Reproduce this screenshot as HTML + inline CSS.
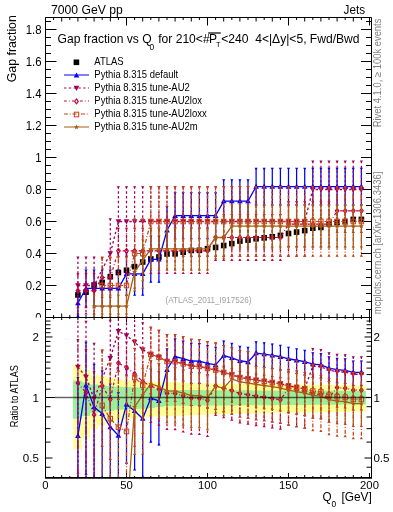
<!DOCTYPE html>
<html><head><meta charset="utf-8"><style>html,body{margin:0;padding:0;background:#fff;width:393px;height:512px;overflow:hidden}svg{display:block;will-change:transform}text{font-family:"Liberation Sans",sans-serif}</style></head>
<body><svg width="393" height="512" viewBox="0 0 393 512">
<defs><clipPath id="ctop"><rect x="45.5" y="17.5" width="325" height="300"/></clipPath>
<clipPath id="cbot"><rect x="45.5" y="317.5" width="325" height="160"/></clipPath></defs>
<rect width="393" height="512" fill="#fff"/>
<text transform="translate(51,13.8) scale(1,1.05)" font-size="12.2" font-family="Liberation Sans, sans-serif">7000 GeV pp</text>
<text transform="translate(365,13.9) scale(1,1.05)" font-size="11.7" text-anchor="end" font-family="Liberation Sans, sans-serif">Jets</text>
<text transform="translate(41.5,33.5) scale(1,1.04)" font-size="11.4" text-anchor="end" font-family="Liberation Sans, sans-serif">1.8</text>
<text transform="translate(41.5,65.5) scale(1,1.04)" font-size="11.4" text-anchor="end" font-family="Liberation Sans, sans-serif">1.6</text>
<text transform="translate(41.5,97.5) scale(1,1.04)" font-size="11.4" text-anchor="end" font-family="Liberation Sans, sans-serif">1.4</text>
<text transform="translate(41.5,129.5) scale(1,1.04)" font-size="11.4" text-anchor="end" font-family="Liberation Sans, sans-serif">1.2</text>
<text transform="translate(41.5,161.5) scale(1,1.04)" font-size="11.4" text-anchor="end" font-family="Liberation Sans, sans-serif">1</text>
<text transform="translate(41.5,193.5) scale(1,1.04)" font-size="11.4" text-anchor="end" font-family="Liberation Sans, sans-serif">0.8</text>
<text transform="translate(41.5,225.5) scale(1,1.04)" font-size="11.4" text-anchor="end" font-family="Liberation Sans, sans-serif">0.6</text>
<text transform="translate(41.5,257.5) scale(1,1.04)" font-size="11.4" text-anchor="end" font-family="Liberation Sans, sans-serif">0.4</text>
<text transform="translate(41.5,289.5) scale(1,1.04)" font-size="11.4" text-anchor="end" font-family="Liberation Sans, sans-serif">0.2</text>
<text transform="translate(41.5,321.5) scale(1,1.04)" font-size="11.4" text-anchor="end" font-family="Liberation Sans, sans-serif">0</text>
<text transform="translate(16.4,82.2) rotate(-90) scale(1,1.05)" font-size="12.3" font-family="Liberation Sans, sans-serif">Gap fraction</text>
<text transform="translate(57.6,42.8) scale(1,1.04)" font-size="12.1" font-family="Liberation Sans, sans-serif">Gap fraction vs Q</text>
<text transform="translate(149.6,49.8) scale(1,1.05)" font-size="8.4" font-family="Liberation Sans, sans-serif">0</text>
<text transform="translate(158.2,42.8) scale(1,1.04)" font-size="12.1" font-family="Liberation Sans, sans-serif">for 210&lt;#</text>
<text transform="translate(208.9,42.8) scale(1,1.04)" font-size="12.1" font-family="Liberation Sans, sans-serif">P</text>
<line x1="208.2" y1="33" x2="220.8" y2="33" stroke="#000" stroke-width="1.2"/>
<text transform="translate(215.9,46.6) scale(1,1.05)" font-size="7.4" font-family="Liberation Sans, sans-serif">T</text>
<text transform="translate(221.2,42.8) scale(1,1.04)" font-size="12.1" font-family="Liberation Sans, sans-serif">&lt;240</text>
<text transform="translate(255.2,42.8) scale(1,1.04)" font-size="12.1" font-family="Liberation Sans, sans-serif">4&lt;|Δy|&lt;5, Fwd/Bwd</text>
<text transform="translate(94.3,64.9) scale(1,1.12)" font-size="9.5" font-family="Liberation Sans, sans-serif">ATLAS</text>
<text transform="translate(94.3,78.0) scale(1,1.12)" font-size="9.5" font-family="Liberation Sans, sans-serif">Pythia 8.315 default</text>
<text transform="translate(94.3,90.6) scale(1,1.12)" font-size="9.5" font-family="Liberation Sans, sans-serif">Pythia 8.315 tune-AU2</text>
<text transform="translate(94.3,104.0) scale(1,1.12)" font-size="9.5" font-family="Liberation Sans, sans-serif">Pythia 8.315 tune-AU2lox</text>
<text transform="translate(94.3,117.1) scale(1,1.12)" font-size="9.5" font-family="Liberation Sans, sans-serif">Pythia 8.315 tune-AU2loxx</text>
<text transform="translate(94.3,129.8) scale(1,1.12)" font-size="9.5" font-family="Liberation Sans, sans-serif">Pythia 8.315 tune-AU2m</text>
<rect x="73.60" y="59.50" width="5.6" height="5.6" fill="#000"/>
<line x1="64" y1="75.0" x2="89" y2="75.0" stroke="#0000ff" stroke-width="1"/>
<path d="M76.50 72.40L79.30 77.60L73.70 77.60Z" fill="#0000ff"/>
<line x1="64" y1="88.0" x2="89" y2="88.0" stroke="#a0005a" stroke-width="1" stroke-dasharray="2.4,2.4"/>
<path d="M76.50 91.00L79.30 85.80L73.70 85.80Z" fill="#a0005a"/>
<line x1="64" y1="101.0" x2="89" y2="101.0" stroke="#c4003c" stroke-width="1" stroke-dasharray="2.7,2.2,0.8,2.3"/>
<path d="M76.50 98.90L78.30 101.40L76.50 103.90L74.70 101.40Z" fill="none" stroke="#c4003c" stroke-width="1.1"/>
<line x1="64" y1="114.0" x2="89" y2="114.0" stroke="#c84418" stroke-width="1" stroke-dasharray="4,1.7,1,1.8"/>
<rect x="74.30" y="112.20" width="4.4" height="4.6" fill="none" stroke="#c84418" stroke-width="1.0"/>
<line x1="64" y1="127.0" x2="89" y2="127.0" stroke="#aa5c12" stroke-width="1"/>
<path d="M76.50 124.50L77.18 126.27L79.07 126.37L77.59 127.56L78.09 129.38L76.50 128.35L74.91 129.38L75.41 127.56L73.93 126.37L75.82 126.27Z" fill="#aa5c12"/>
<text transform="translate(165.5,302.5) scale(1,1.1)" font-size="8.1" fill="#a0a0a0" font-family="Liberation Sans, sans-serif">(ATLAS_2011_I917526)</text>
<rect x="0" y="317.5" width="393" height="160" fill="#fff"/>
<text transform="translate(38.9,341.17)" font-size="11.6" text-anchor="end" font-family="Liberation Sans, sans-serif">2</text>
<text transform="translate(373.4,341.17)" font-size="11.6" font-family="Liberation Sans, sans-serif">2</text>
<text transform="translate(38.9,401.7)" font-size="11.6" text-anchor="end" font-family="Liberation Sans, sans-serif">1</text>
<text transform="translate(373.4,401.7)" font-size="11.6" font-family="Liberation Sans, sans-serif">1</text>
<text transform="translate(38.9,462.23)" font-size="11.6" text-anchor="end" font-family="Liberation Sans, sans-serif">0.5</text>
<text transform="translate(373.4,462.23)" font-size="11.6" font-family="Liberation Sans, sans-serif">0.5</text>
<text transform="translate(18.1,427.2) rotate(-90) scale(1,1.12)" font-size="9.2" font-family="Liberation Sans, sans-serif">Ratio to ATLAS</text>
<text transform="translate(45.5,489) scale(1,1.04)" font-size="11.3" text-anchor="middle" font-family="Liberation Sans, sans-serif">0</text>
<text transform="translate(126.5,489) scale(1,1.04)" font-size="11.3" text-anchor="middle" font-family="Liberation Sans, sans-serif">50</text>
<text transform="translate(207.5,489) scale(1,1.04)" font-size="11.3" text-anchor="middle" font-family="Liberation Sans, sans-serif">100</text>
<text transform="translate(288.5,489) scale(1,1.04)" font-size="11.3" text-anchor="middle" font-family="Liberation Sans, sans-serif">150</text>
<text transform="translate(369.5,489) scale(1,1.04)" font-size="11.3" text-anchor="middle" font-family="Liberation Sans, sans-serif">200</text>
<text transform="translate(322.6,501.3) scale(1,1.04)" font-size="11.7" font-family="Liberation Sans, sans-serif">Q</text>
<text transform="translate(331.6,506.5) scale(1,1.05)" font-size="8.4" font-family="Liberation Sans, sans-serif">0</text>
<text transform="translate(341.4,501.3) scale(1,1.04)" font-size="11.9" font-family="Liberation Sans, sans-serif">[GeV]</text>
<text transform="translate(380.6,127.3) rotate(-90) scale(1,1.1)" font-size="9.42" fill="#808080" font-family="Liberation Sans, sans-serif">Rivet 4.1.0, ≥ 100k events</text>
<text transform="translate(381.2,314.2) rotate(-90) scale(1,1.1)" font-size="9.44" fill="#808080" font-family="Liberation Sans, sans-serif">mcplots.cern.ch [arXiv:1306.3436]</text>
<rect x="45.5" y="317.5" width="325" height="160" fill="#fff"/>
<line x1="45.5" y1="317.50" x2="56.5" y2="317.50" stroke="#000" stroke-width="1"/>
<line x1="371" y1="317.50" x2="361" y2="317.50" stroke="#000" stroke-width="1"/>
<line x1="45.5" y1="309.50" x2="51.0" y2="309.50" stroke="#000" stroke-width="1"/>
<line x1="371" y1="309.50" x2="366" y2="309.50" stroke="#000" stroke-width="1"/>
<line x1="45.5" y1="301.50" x2="51.0" y2="301.50" stroke="#000" stroke-width="1"/>
<line x1="371" y1="301.50" x2="366" y2="301.50" stroke="#000" stroke-width="1"/>
<line x1="45.5" y1="293.50" x2="51.0" y2="293.50" stroke="#000" stroke-width="1"/>
<line x1="371" y1="293.50" x2="366" y2="293.50" stroke="#000" stroke-width="1"/>
<line x1="45.5" y1="285.50" x2="56.5" y2="285.50" stroke="#000" stroke-width="1"/>
<line x1="371" y1="285.50" x2="361" y2="285.50" stroke="#000" stroke-width="1"/>
<line x1="45.5" y1="277.50" x2="51.0" y2="277.50" stroke="#000" stroke-width="1"/>
<line x1="371" y1="277.50" x2="366" y2="277.50" stroke="#000" stroke-width="1"/>
<line x1="45.5" y1="269.50" x2="51.0" y2="269.50" stroke="#000" stroke-width="1"/>
<line x1="371" y1="269.50" x2="366" y2="269.50" stroke="#000" stroke-width="1"/>
<line x1="45.5" y1="261.50" x2="51.0" y2="261.50" stroke="#000" stroke-width="1"/>
<line x1="371" y1="261.50" x2="366" y2="261.50" stroke="#000" stroke-width="1"/>
<line x1="45.5" y1="253.50" x2="56.5" y2="253.50" stroke="#000" stroke-width="1"/>
<line x1="371" y1="253.50" x2="361" y2="253.50" stroke="#000" stroke-width="1"/>
<line x1="45.5" y1="245.50" x2="51.0" y2="245.50" stroke="#000" stroke-width="1"/>
<line x1="371" y1="245.50" x2="366" y2="245.50" stroke="#000" stroke-width="1"/>
<line x1="45.5" y1="237.50" x2="51.0" y2="237.50" stroke="#000" stroke-width="1"/>
<line x1="371" y1="237.50" x2="366" y2="237.50" stroke="#000" stroke-width="1"/>
<line x1="45.5" y1="229.50" x2="51.0" y2="229.50" stroke="#000" stroke-width="1"/>
<line x1="371" y1="229.50" x2="366" y2="229.50" stroke="#000" stroke-width="1"/>
<line x1="45.5" y1="221.50" x2="56.5" y2="221.50" stroke="#000" stroke-width="1"/>
<line x1="371" y1="221.50" x2="361" y2="221.50" stroke="#000" stroke-width="1"/>
<line x1="45.5" y1="213.50" x2="51.0" y2="213.50" stroke="#000" stroke-width="1"/>
<line x1="371" y1="213.50" x2="366" y2="213.50" stroke="#000" stroke-width="1"/>
<line x1="45.5" y1="205.50" x2="51.0" y2="205.50" stroke="#000" stroke-width="1"/>
<line x1="371" y1="205.50" x2="366" y2="205.50" stroke="#000" stroke-width="1"/>
<line x1="45.5" y1="197.50" x2="51.0" y2="197.50" stroke="#000" stroke-width="1"/>
<line x1="371" y1="197.50" x2="366" y2="197.50" stroke="#000" stroke-width="1"/>
<line x1="45.5" y1="189.50" x2="56.5" y2="189.50" stroke="#000" stroke-width="1"/>
<line x1="371" y1="189.50" x2="361" y2="189.50" stroke="#000" stroke-width="1"/>
<line x1="45.5" y1="181.50" x2="51.0" y2="181.50" stroke="#000" stroke-width="1"/>
<line x1="371" y1="181.50" x2="366" y2="181.50" stroke="#000" stroke-width="1"/>
<line x1="45.5" y1="173.50" x2="51.0" y2="173.50" stroke="#000" stroke-width="1"/>
<line x1="371" y1="173.50" x2="366" y2="173.50" stroke="#000" stroke-width="1"/>
<line x1="45.5" y1="165.50" x2="51.0" y2="165.50" stroke="#000" stroke-width="1"/>
<line x1="371" y1="165.50" x2="366" y2="165.50" stroke="#000" stroke-width="1"/>
<line x1="45.5" y1="157.50" x2="56.5" y2="157.50" stroke="#000" stroke-width="1"/>
<line x1="371" y1="157.50" x2="361" y2="157.50" stroke="#000" stroke-width="1"/>
<line x1="45.5" y1="149.50" x2="51.0" y2="149.50" stroke="#000" stroke-width="1"/>
<line x1="371" y1="149.50" x2="366" y2="149.50" stroke="#000" stroke-width="1"/>
<line x1="45.5" y1="141.50" x2="51.0" y2="141.50" stroke="#000" stroke-width="1"/>
<line x1="371" y1="141.50" x2="366" y2="141.50" stroke="#000" stroke-width="1"/>
<line x1="45.5" y1="133.50" x2="51.0" y2="133.50" stroke="#000" stroke-width="1"/>
<line x1="371" y1="133.50" x2="366" y2="133.50" stroke="#000" stroke-width="1"/>
<line x1="45.5" y1="125.50" x2="56.5" y2="125.50" stroke="#000" stroke-width="1"/>
<line x1="371" y1="125.50" x2="361" y2="125.50" stroke="#000" stroke-width="1"/>
<line x1="45.5" y1="117.50" x2="51.0" y2="117.50" stroke="#000" stroke-width="1"/>
<line x1="371" y1="117.50" x2="366" y2="117.50" stroke="#000" stroke-width="1"/>
<line x1="45.5" y1="109.50" x2="51.0" y2="109.50" stroke="#000" stroke-width="1"/>
<line x1="371" y1="109.50" x2="366" y2="109.50" stroke="#000" stroke-width="1"/>
<line x1="45.5" y1="101.50" x2="51.0" y2="101.50" stroke="#000" stroke-width="1"/>
<line x1="371" y1="101.50" x2="366" y2="101.50" stroke="#000" stroke-width="1"/>
<line x1="45.5" y1="93.50" x2="56.5" y2="93.50" stroke="#000" stroke-width="1"/>
<line x1="371" y1="93.50" x2="361" y2="93.50" stroke="#000" stroke-width="1"/>
<line x1="45.5" y1="85.50" x2="51.0" y2="85.50" stroke="#000" stroke-width="1"/>
<line x1="371" y1="85.50" x2="366" y2="85.50" stroke="#000" stroke-width="1"/>
<line x1="45.5" y1="77.50" x2="51.0" y2="77.50" stroke="#000" stroke-width="1"/>
<line x1="371" y1="77.50" x2="366" y2="77.50" stroke="#000" stroke-width="1"/>
<line x1="45.5" y1="69.50" x2="51.0" y2="69.50" stroke="#000" stroke-width="1"/>
<line x1="371" y1="69.50" x2="366" y2="69.50" stroke="#000" stroke-width="1"/>
<line x1="45.5" y1="61.50" x2="56.5" y2="61.50" stroke="#000" stroke-width="1"/>
<line x1="371" y1="61.50" x2="361" y2="61.50" stroke="#000" stroke-width="1"/>
<line x1="45.5" y1="53.50" x2="51.0" y2="53.50" stroke="#000" stroke-width="1"/>
<line x1="371" y1="53.50" x2="366" y2="53.50" stroke="#000" stroke-width="1"/>
<line x1="45.5" y1="45.50" x2="51.0" y2="45.50" stroke="#000" stroke-width="1"/>
<line x1="371" y1="45.50" x2="366" y2="45.50" stroke="#000" stroke-width="1"/>
<line x1="45.5" y1="37.50" x2="51.0" y2="37.50" stroke="#000" stroke-width="1"/>
<line x1="371" y1="37.50" x2="366" y2="37.50" stroke="#000" stroke-width="1"/>
<line x1="45.5" y1="29.50" x2="56.5" y2="29.50" stroke="#000" stroke-width="1"/>
<line x1="371" y1="29.50" x2="361" y2="29.50" stroke="#000" stroke-width="1"/>
<line x1="45.5" y1="21.50" x2="51.0" y2="21.50" stroke="#000" stroke-width="1"/>
<line x1="371" y1="21.50" x2="366" y2="21.50" stroke="#000" stroke-width="1"/>
<line x1="45.50" y1="17.5" x2="45.50" y2="25.5" stroke="#000" stroke-width="1"/>
<line x1="45.50" y1="317.5" x2="45.50" y2="309.5" stroke="#000" stroke-width="1"/>
<line x1="45.50" y1="317.5" x2="45.50" y2="322.5" stroke="#000" stroke-width="1"/>
<line x1="45.50" y1="477.5" x2="45.50" y2="473.0" stroke="#000" stroke-width="1"/>
<line x1="53.60" y1="17.5" x2="53.60" y2="20.0" stroke="#000" stroke-width="1"/>
<line x1="53.60" y1="317.5" x2="53.60" y2="315.0" stroke="#000" stroke-width="1"/>
<line x1="53.60" y1="317.5" x2="53.60" y2="319.0" stroke="#000" stroke-width="1"/>
<line x1="53.60" y1="477.5" x2="53.60" y2="476.0" stroke="#000" stroke-width="1"/>
<line x1="61.70" y1="17.5" x2="61.70" y2="21.5" stroke="#000" stroke-width="1"/>
<line x1="61.70" y1="317.5" x2="61.70" y2="313.5" stroke="#000" stroke-width="1"/>
<line x1="61.70" y1="317.5" x2="61.70" y2="320.0" stroke="#000" stroke-width="1"/>
<line x1="61.70" y1="477.5" x2="61.70" y2="475.0" stroke="#000" stroke-width="1"/>
<line x1="69.80" y1="17.5" x2="69.80" y2="20.0" stroke="#000" stroke-width="1"/>
<line x1="69.80" y1="317.5" x2="69.80" y2="315.0" stroke="#000" stroke-width="1"/>
<line x1="69.80" y1="317.5" x2="69.80" y2="319.0" stroke="#000" stroke-width="1"/>
<line x1="69.80" y1="477.5" x2="69.80" y2="476.0" stroke="#000" stroke-width="1"/>
<line x1="77.90" y1="17.5" x2="77.90" y2="21.5" stroke="#000" stroke-width="1"/>
<line x1="77.90" y1="317.5" x2="77.90" y2="313.5" stroke="#000" stroke-width="1"/>
<line x1="77.90" y1="317.5" x2="77.90" y2="320.0" stroke="#000" stroke-width="1"/>
<line x1="77.90" y1="477.5" x2="77.90" y2="475.0" stroke="#000" stroke-width="1"/>
<line x1="86.00" y1="17.5" x2="86.00" y2="20.0" stroke="#000" stroke-width="1"/>
<line x1="86.00" y1="317.5" x2="86.00" y2="315.0" stroke="#000" stroke-width="1"/>
<line x1="86.00" y1="317.5" x2="86.00" y2="319.0" stroke="#000" stroke-width="1"/>
<line x1="86.00" y1="477.5" x2="86.00" y2="476.0" stroke="#000" stroke-width="1"/>
<line x1="94.10" y1="17.5" x2="94.10" y2="21.5" stroke="#000" stroke-width="1"/>
<line x1="94.10" y1="317.5" x2="94.10" y2="313.5" stroke="#000" stroke-width="1"/>
<line x1="94.10" y1="317.5" x2="94.10" y2="320.0" stroke="#000" stroke-width="1"/>
<line x1="94.10" y1="477.5" x2="94.10" y2="475.0" stroke="#000" stroke-width="1"/>
<line x1="102.20" y1="17.5" x2="102.20" y2="20.0" stroke="#000" stroke-width="1"/>
<line x1="102.20" y1="317.5" x2="102.20" y2="315.0" stroke="#000" stroke-width="1"/>
<line x1="102.20" y1="317.5" x2="102.20" y2="319.0" stroke="#000" stroke-width="1"/>
<line x1="102.20" y1="477.5" x2="102.20" y2="476.0" stroke="#000" stroke-width="1"/>
<line x1="110.30" y1="17.5" x2="110.30" y2="21.5" stroke="#000" stroke-width="1"/>
<line x1="110.30" y1="317.5" x2="110.30" y2="313.5" stroke="#000" stroke-width="1"/>
<line x1="110.30" y1="317.5" x2="110.30" y2="320.0" stroke="#000" stroke-width="1"/>
<line x1="110.30" y1="477.5" x2="110.30" y2="475.0" stroke="#000" stroke-width="1"/>
<line x1="118.40" y1="17.5" x2="118.40" y2="20.0" stroke="#000" stroke-width="1"/>
<line x1="118.40" y1="317.5" x2="118.40" y2="315.0" stroke="#000" stroke-width="1"/>
<line x1="118.40" y1="317.5" x2="118.40" y2="319.0" stroke="#000" stroke-width="1"/>
<line x1="118.40" y1="477.5" x2="118.40" y2="476.0" stroke="#000" stroke-width="1"/>
<line x1="126.50" y1="17.5" x2="126.50" y2="25.5" stroke="#000" stroke-width="1"/>
<line x1="126.50" y1="317.5" x2="126.50" y2="309.5" stroke="#000" stroke-width="1"/>
<line x1="126.50" y1="317.5" x2="126.50" y2="322.5" stroke="#000" stroke-width="1"/>
<line x1="126.50" y1="477.5" x2="126.50" y2="473.0" stroke="#000" stroke-width="1"/>
<line x1="134.60" y1="17.5" x2="134.60" y2="20.0" stroke="#000" stroke-width="1"/>
<line x1="134.60" y1="317.5" x2="134.60" y2="315.0" stroke="#000" stroke-width="1"/>
<line x1="134.60" y1="317.5" x2="134.60" y2="319.0" stroke="#000" stroke-width="1"/>
<line x1="134.60" y1="477.5" x2="134.60" y2="476.0" stroke="#000" stroke-width="1"/>
<line x1="142.70" y1="17.5" x2="142.70" y2="21.5" stroke="#000" stroke-width="1"/>
<line x1="142.70" y1="317.5" x2="142.70" y2="313.5" stroke="#000" stroke-width="1"/>
<line x1="142.70" y1="317.5" x2="142.70" y2="320.0" stroke="#000" stroke-width="1"/>
<line x1="142.70" y1="477.5" x2="142.70" y2="475.0" stroke="#000" stroke-width="1"/>
<line x1="150.80" y1="17.5" x2="150.80" y2="20.0" stroke="#000" stroke-width="1"/>
<line x1="150.80" y1="317.5" x2="150.80" y2="315.0" stroke="#000" stroke-width="1"/>
<line x1="150.80" y1="317.5" x2="150.80" y2="319.0" stroke="#000" stroke-width="1"/>
<line x1="150.80" y1="477.5" x2="150.80" y2="476.0" stroke="#000" stroke-width="1"/>
<line x1="158.90" y1="17.5" x2="158.90" y2="21.5" stroke="#000" stroke-width="1"/>
<line x1="158.90" y1="317.5" x2="158.90" y2="313.5" stroke="#000" stroke-width="1"/>
<line x1="158.90" y1="317.5" x2="158.90" y2="320.0" stroke="#000" stroke-width="1"/>
<line x1="158.90" y1="477.5" x2="158.90" y2="475.0" stroke="#000" stroke-width="1"/>
<line x1="167.00" y1="17.5" x2="167.00" y2="20.0" stroke="#000" stroke-width="1"/>
<line x1="167.00" y1="317.5" x2="167.00" y2="315.0" stroke="#000" stroke-width="1"/>
<line x1="167.00" y1="317.5" x2="167.00" y2="319.0" stroke="#000" stroke-width="1"/>
<line x1="167.00" y1="477.5" x2="167.00" y2="476.0" stroke="#000" stroke-width="1"/>
<line x1="175.10" y1="17.5" x2="175.10" y2="21.5" stroke="#000" stroke-width="1"/>
<line x1="175.10" y1="317.5" x2="175.10" y2="313.5" stroke="#000" stroke-width="1"/>
<line x1="175.10" y1="317.5" x2="175.10" y2="320.0" stroke="#000" stroke-width="1"/>
<line x1="175.10" y1="477.5" x2="175.10" y2="475.0" stroke="#000" stroke-width="1"/>
<line x1="183.20" y1="17.5" x2="183.20" y2="20.0" stroke="#000" stroke-width="1"/>
<line x1="183.20" y1="317.5" x2="183.20" y2="315.0" stroke="#000" stroke-width="1"/>
<line x1="183.20" y1="317.5" x2="183.20" y2="319.0" stroke="#000" stroke-width="1"/>
<line x1="183.20" y1="477.5" x2="183.20" y2="476.0" stroke="#000" stroke-width="1"/>
<line x1="191.30" y1="17.5" x2="191.30" y2="21.5" stroke="#000" stroke-width="1"/>
<line x1="191.30" y1="317.5" x2="191.30" y2="313.5" stroke="#000" stroke-width="1"/>
<line x1="191.30" y1="317.5" x2="191.30" y2="320.0" stroke="#000" stroke-width="1"/>
<line x1="191.30" y1="477.5" x2="191.30" y2="475.0" stroke="#000" stroke-width="1"/>
<line x1="199.40" y1="17.5" x2="199.40" y2="20.0" stroke="#000" stroke-width="1"/>
<line x1="199.40" y1="317.5" x2="199.40" y2="315.0" stroke="#000" stroke-width="1"/>
<line x1="199.40" y1="317.5" x2="199.40" y2="319.0" stroke="#000" stroke-width="1"/>
<line x1="199.40" y1="477.5" x2="199.40" y2="476.0" stroke="#000" stroke-width="1"/>
<line x1="207.50" y1="17.5" x2="207.50" y2="25.5" stroke="#000" stroke-width="1"/>
<line x1="207.50" y1="317.5" x2="207.50" y2="309.5" stroke="#000" stroke-width="1"/>
<line x1="207.50" y1="317.5" x2="207.50" y2="322.5" stroke="#000" stroke-width="1"/>
<line x1="207.50" y1="477.5" x2="207.50" y2="473.0" stroke="#000" stroke-width="1"/>
<line x1="215.60" y1="17.5" x2="215.60" y2="20.0" stroke="#000" stroke-width="1"/>
<line x1="215.60" y1="317.5" x2="215.60" y2="315.0" stroke="#000" stroke-width="1"/>
<line x1="215.60" y1="317.5" x2="215.60" y2="319.0" stroke="#000" stroke-width="1"/>
<line x1="215.60" y1="477.5" x2="215.60" y2="476.0" stroke="#000" stroke-width="1"/>
<line x1="223.70" y1="17.5" x2="223.70" y2="21.5" stroke="#000" stroke-width="1"/>
<line x1="223.70" y1="317.5" x2="223.70" y2="313.5" stroke="#000" stroke-width="1"/>
<line x1="223.70" y1="317.5" x2="223.70" y2="320.0" stroke="#000" stroke-width="1"/>
<line x1="223.70" y1="477.5" x2="223.70" y2="475.0" stroke="#000" stroke-width="1"/>
<line x1="231.80" y1="17.5" x2="231.80" y2="20.0" stroke="#000" stroke-width="1"/>
<line x1="231.80" y1="317.5" x2="231.80" y2="315.0" stroke="#000" stroke-width="1"/>
<line x1="231.80" y1="317.5" x2="231.80" y2="319.0" stroke="#000" stroke-width="1"/>
<line x1="231.80" y1="477.5" x2="231.80" y2="476.0" stroke="#000" stroke-width="1"/>
<line x1="239.90" y1="17.5" x2="239.90" y2="21.5" stroke="#000" stroke-width="1"/>
<line x1="239.90" y1="317.5" x2="239.90" y2="313.5" stroke="#000" stroke-width="1"/>
<line x1="239.90" y1="317.5" x2="239.90" y2="320.0" stroke="#000" stroke-width="1"/>
<line x1="239.90" y1="477.5" x2="239.90" y2="475.0" stroke="#000" stroke-width="1"/>
<line x1="248.00" y1="17.5" x2="248.00" y2="20.0" stroke="#000" stroke-width="1"/>
<line x1="248.00" y1="317.5" x2="248.00" y2="315.0" stroke="#000" stroke-width="1"/>
<line x1="248.00" y1="317.5" x2="248.00" y2="319.0" stroke="#000" stroke-width="1"/>
<line x1="248.00" y1="477.5" x2="248.00" y2="476.0" stroke="#000" stroke-width="1"/>
<line x1="256.10" y1="17.5" x2="256.10" y2="21.5" stroke="#000" stroke-width="1"/>
<line x1="256.10" y1="317.5" x2="256.10" y2="313.5" stroke="#000" stroke-width="1"/>
<line x1="256.10" y1="317.5" x2="256.10" y2="320.0" stroke="#000" stroke-width="1"/>
<line x1="256.10" y1="477.5" x2="256.10" y2="475.0" stroke="#000" stroke-width="1"/>
<line x1="264.20" y1="17.5" x2="264.20" y2="20.0" stroke="#000" stroke-width="1"/>
<line x1="264.20" y1="317.5" x2="264.20" y2="315.0" stroke="#000" stroke-width="1"/>
<line x1="264.20" y1="317.5" x2="264.20" y2="319.0" stroke="#000" stroke-width="1"/>
<line x1="264.20" y1="477.5" x2="264.20" y2="476.0" stroke="#000" stroke-width="1"/>
<line x1="272.30" y1="17.5" x2="272.30" y2="21.5" stroke="#000" stroke-width="1"/>
<line x1="272.30" y1="317.5" x2="272.30" y2="313.5" stroke="#000" stroke-width="1"/>
<line x1="272.30" y1="317.5" x2="272.30" y2="320.0" stroke="#000" stroke-width="1"/>
<line x1="272.30" y1="477.5" x2="272.30" y2="475.0" stroke="#000" stroke-width="1"/>
<line x1="280.40" y1="17.5" x2="280.40" y2="20.0" stroke="#000" stroke-width="1"/>
<line x1="280.40" y1="317.5" x2="280.40" y2="315.0" stroke="#000" stroke-width="1"/>
<line x1="280.40" y1="317.5" x2="280.40" y2="319.0" stroke="#000" stroke-width="1"/>
<line x1="280.40" y1="477.5" x2="280.40" y2="476.0" stroke="#000" stroke-width="1"/>
<line x1="288.50" y1="17.5" x2="288.50" y2="25.5" stroke="#000" stroke-width="1"/>
<line x1="288.50" y1="317.5" x2="288.50" y2="309.5" stroke="#000" stroke-width="1"/>
<line x1="288.50" y1="317.5" x2="288.50" y2="322.5" stroke="#000" stroke-width="1"/>
<line x1="288.50" y1="477.5" x2="288.50" y2="473.0" stroke="#000" stroke-width="1"/>
<line x1="296.60" y1="17.5" x2="296.60" y2="20.0" stroke="#000" stroke-width="1"/>
<line x1="296.60" y1="317.5" x2="296.60" y2="315.0" stroke="#000" stroke-width="1"/>
<line x1="296.60" y1="317.5" x2="296.60" y2="319.0" stroke="#000" stroke-width="1"/>
<line x1="296.60" y1="477.5" x2="296.60" y2="476.0" stroke="#000" stroke-width="1"/>
<line x1="304.70" y1="17.5" x2="304.70" y2="21.5" stroke="#000" stroke-width="1"/>
<line x1="304.70" y1="317.5" x2="304.70" y2="313.5" stroke="#000" stroke-width="1"/>
<line x1="304.70" y1="317.5" x2="304.70" y2="320.0" stroke="#000" stroke-width="1"/>
<line x1="304.70" y1="477.5" x2="304.70" y2="475.0" stroke="#000" stroke-width="1"/>
<line x1="312.80" y1="17.5" x2="312.80" y2="20.0" stroke="#000" stroke-width="1"/>
<line x1="312.80" y1="317.5" x2="312.80" y2="315.0" stroke="#000" stroke-width="1"/>
<line x1="312.80" y1="317.5" x2="312.80" y2="319.0" stroke="#000" stroke-width="1"/>
<line x1="312.80" y1="477.5" x2="312.80" y2="476.0" stroke="#000" stroke-width="1"/>
<line x1="320.90" y1="17.5" x2="320.90" y2="21.5" stroke="#000" stroke-width="1"/>
<line x1="320.90" y1="317.5" x2="320.90" y2="313.5" stroke="#000" stroke-width="1"/>
<line x1="320.90" y1="317.5" x2="320.90" y2="320.0" stroke="#000" stroke-width="1"/>
<line x1="320.90" y1="477.5" x2="320.90" y2="475.0" stroke="#000" stroke-width="1"/>
<line x1="329.00" y1="17.5" x2="329.00" y2="20.0" stroke="#000" stroke-width="1"/>
<line x1="329.00" y1="317.5" x2="329.00" y2="315.0" stroke="#000" stroke-width="1"/>
<line x1="329.00" y1="317.5" x2="329.00" y2="319.0" stroke="#000" stroke-width="1"/>
<line x1="329.00" y1="477.5" x2="329.00" y2="476.0" stroke="#000" stroke-width="1"/>
<line x1="337.10" y1="17.5" x2="337.10" y2="21.5" stroke="#000" stroke-width="1"/>
<line x1="337.10" y1="317.5" x2="337.10" y2="313.5" stroke="#000" stroke-width="1"/>
<line x1="337.10" y1="317.5" x2="337.10" y2="320.0" stroke="#000" stroke-width="1"/>
<line x1="337.10" y1="477.5" x2="337.10" y2="475.0" stroke="#000" stroke-width="1"/>
<line x1="345.20" y1="17.5" x2="345.20" y2="20.0" stroke="#000" stroke-width="1"/>
<line x1="345.20" y1="317.5" x2="345.20" y2="315.0" stroke="#000" stroke-width="1"/>
<line x1="345.20" y1="317.5" x2="345.20" y2="319.0" stroke="#000" stroke-width="1"/>
<line x1="345.20" y1="477.5" x2="345.20" y2="476.0" stroke="#000" stroke-width="1"/>
<line x1="353.30" y1="17.5" x2="353.30" y2="21.5" stroke="#000" stroke-width="1"/>
<line x1="353.30" y1="317.5" x2="353.30" y2="313.5" stroke="#000" stroke-width="1"/>
<line x1="353.30" y1="317.5" x2="353.30" y2="320.0" stroke="#000" stroke-width="1"/>
<line x1="353.30" y1="477.5" x2="353.30" y2="475.0" stroke="#000" stroke-width="1"/>
<line x1="361.40" y1="17.5" x2="361.40" y2="20.0" stroke="#000" stroke-width="1"/>
<line x1="361.40" y1="317.5" x2="361.40" y2="315.0" stroke="#000" stroke-width="1"/>
<line x1="361.40" y1="317.5" x2="361.40" y2="319.0" stroke="#000" stroke-width="1"/>
<line x1="361.40" y1="477.5" x2="361.40" y2="476.0" stroke="#000" stroke-width="1"/>
<line x1="369.50" y1="17.5" x2="369.50" y2="25.5" stroke="#000" stroke-width="1"/>
<line x1="369.50" y1="317.5" x2="369.50" y2="309.5" stroke="#000" stroke-width="1"/>
<line x1="369.50" y1="317.5" x2="369.50" y2="322.5" stroke="#000" stroke-width="1"/>
<line x1="369.50" y1="477.5" x2="369.50" y2="473.0" stroke="#000" stroke-width="1"/>
<line x1="45.5" y1="458.03" x2="52.5" y2="458.03" stroke="#000" stroke-width="1"/>
<line x1="371" y1="458.03" x2="364.5" y2="458.03" stroke="#000" stroke-width="1"/>
<line x1="45.5" y1="442.10" x2="50.5" y2="442.10" stroke="#000" stroke-width="1"/>
<line x1="371" y1="442.10" x2="366.5" y2="442.10" stroke="#000" stroke-width="1"/>
<line x1="45.5" y1="428.64" x2="50.5" y2="428.64" stroke="#000" stroke-width="1"/>
<line x1="371" y1="428.64" x2="366.5" y2="428.64" stroke="#000" stroke-width="1"/>
<line x1="45.5" y1="416.98" x2="50.5" y2="416.98" stroke="#000" stroke-width="1"/>
<line x1="371" y1="416.98" x2="366.5" y2="416.98" stroke="#000" stroke-width="1"/>
<line x1="45.5" y1="406.70" x2="50.5" y2="406.70" stroke="#000" stroke-width="1"/>
<line x1="371" y1="406.70" x2="366.5" y2="406.70" stroke="#000" stroke-width="1"/>
<line x1="45.5" y1="397.50" x2="55.0" y2="397.50" stroke="#000" stroke-width="1"/>
<line x1="371" y1="397.50" x2="364.5" y2="397.50" stroke="#000" stroke-width="1"/>
<line x1="45.5" y1="389.18" x2="50.5" y2="389.18" stroke="#000" stroke-width="1"/>
<line x1="371" y1="389.18" x2="366.5" y2="389.18" stroke="#000" stroke-width="1"/>
<line x1="45.5" y1="381.58" x2="50.5" y2="381.58" stroke="#000" stroke-width="1"/>
<line x1="371" y1="381.58" x2="366.5" y2="381.58" stroke="#000" stroke-width="1"/>
<line x1="45.5" y1="374.59" x2="50.5" y2="374.59" stroke="#000" stroke-width="1"/>
<line x1="371" y1="374.59" x2="366.5" y2="374.59" stroke="#000" stroke-width="1"/>
<line x1="45.5" y1="368.12" x2="50.5" y2="368.12" stroke="#000" stroke-width="1"/>
<line x1="371" y1="368.12" x2="366.5" y2="368.12" stroke="#000" stroke-width="1"/>
<line x1="45.5" y1="362.10" x2="50.5" y2="362.10" stroke="#000" stroke-width="1"/>
<line x1="371" y1="362.10" x2="366.5" y2="362.10" stroke="#000" stroke-width="1"/>
<line x1="45.5" y1="356.46" x2="50.5" y2="356.46" stroke="#000" stroke-width="1"/>
<line x1="371" y1="356.46" x2="366.5" y2="356.46" stroke="#000" stroke-width="1"/>
<line x1="45.5" y1="351.17" x2="50.5" y2="351.17" stroke="#000" stroke-width="1"/>
<line x1="371" y1="351.17" x2="366.5" y2="351.17" stroke="#000" stroke-width="1"/>
<line x1="45.5" y1="346.17" x2="50.5" y2="346.17" stroke="#000" stroke-width="1"/>
<line x1="371" y1="346.17" x2="366.5" y2="346.17" stroke="#000" stroke-width="1"/>
<line x1="45.5" y1="341.45" x2="50.5" y2="341.45" stroke="#000" stroke-width="1"/>
<line x1="371" y1="341.45" x2="366.5" y2="341.45" stroke="#000" stroke-width="1"/>
<line x1="45.5" y1="336.97" x2="52.5" y2="336.97" stroke="#000" stroke-width="1"/>
<line x1="371" y1="336.97" x2="364.5" y2="336.97" stroke="#000" stroke-width="1"/>
<line x1="45.5" y1="332.71" x2="50.5" y2="332.71" stroke="#000" stroke-width="1"/>
<line x1="371" y1="332.71" x2="366.5" y2="332.71" stroke="#000" stroke-width="1"/>
<line x1="45.5" y1="328.65" x2="50.5" y2="328.65" stroke="#000" stroke-width="1"/>
<line x1="371" y1="328.65" x2="366.5" y2="328.65" stroke="#000" stroke-width="1"/>
<line x1="45.5" y1="324.77" x2="50.5" y2="324.77" stroke="#000" stroke-width="1"/>
<line x1="371" y1="324.77" x2="366.5" y2="324.77" stroke="#000" stroke-width="1"/>
<line x1="45.5" y1="321.05" x2="50.5" y2="321.05" stroke="#000" stroke-width="1"/>
<line x1="371" y1="321.05" x2="366.5" y2="321.05" stroke="#000" stroke-width="1"/>
<line x1="45.5" y1="467.23" x2="50.5" y2="467.23" stroke="#000" stroke-width="1"/>
<line x1="371" y1="467.23" x2="366.5" y2="467.23" stroke="#000" stroke-width="1"/>
<g clip-path="url(#ctop)">
<rect x="75.10" y="292.14" width="5.6" height="5.6" fill="#000"/>
<rect x="83.20" y="289.42" width="5.6" height="5.6" fill="#000"/>
<rect x="91.30" y="282.22" width="5.6" height="5.6" fill="#000"/>
<rect x="99.40" y="279.66" width="5.6" height="5.6" fill="#000"/>
<rect x="107.50" y="273.90" width="5.6" height="5.6" fill="#000"/>
<rect x="115.60" y="269.74" width="5.6" height="5.6" fill="#000"/>
<rect x="123.70" y="267.50" width="5.6" height="5.6" fill="#000"/>
<rect x="131.80" y="263.82" width="5.6" height="5.6" fill="#000"/>
<rect x="139.90" y="259.18" width="5.6" height="5.6" fill="#000"/>
<rect x="148.00" y="256.14" width="5.6" height="5.6" fill="#000"/>
<rect x="156.10" y="254.22" width="5.6" height="5.6" fill="#000"/>
<rect x="164.20" y="251.18" width="5.6" height="5.6" fill="#000"/>
<rect x="172.30" y="251.02" width="5.6" height="5.6" fill="#000"/>
<rect x="180.40" y="249.42" width="5.6" height="5.6" fill="#000"/>
<rect x="188.50" y="247.66" width="5.6" height="5.6" fill="#000"/>
<rect x="196.60" y="247.50" width="5.6" height="5.6" fill="#000"/>
<rect x="204.70" y="245.90" width="5.6" height="5.6" fill="#000"/>
<rect x="212.80" y="244.62" width="5.6" height="5.6" fill="#000"/>
<rect x="220.90" y="242.70" width="5.6" height="5.6" fill="#000"/>
<rect x="229.00" y="240.78" width="5.6" height="5.6" fill="#000"/>
<rect x="237.10" y="238.30" width="5.6" height="5.6" fill="#000"/>
<rect x="245.20" y="237.26" width="5.6" height="5.6" fill="#000"/>
<rect x="253.30" y="235.98" width="5.6" height="5.6" fill="#000"/>
<rect x="261.40" y="235.02" width="5.6" height="5.6" fill="#000"/>
<rect x="269.50" y="233.90" width="5.6" height="5.6" fill="#000"/>
<rect x="277.60" y="232.62" width="5.6" height="5.6" fill="#000"/>
<rect x="285.70" y="230.70" width="5.6" height="5.6" fill="#000"/>
<rect x="293.80" y="229.26" width="5.6" height="5.6" fill="#000"/>
<rect x="301.90" y="227.82" width="5.6" height="5.6" fill="#000"/>
<rect x="310.00" y="225.42" width="5.6" height="5.6" fill="#000"/>
<rect x="318.10" y="224.62" width="5.6" height="5.6" fill="#000"/>
<rect x="326.20" y="221.10" width="5.6" height="5.6" fill="#000"/>
<rect x="334.30" y="219.50" width="5.6" height="5.6" fill="#000"/>
<rect x="342.40" y="218.86" width="5.6" height="5.6" fill="#000"/>
<rect x="350.50" y="216.62" width="5.6" height="5.6" fill="#000"/>
<rect x="358.60" y="216.62" width="5.6" height="5.6" fill="#000"/>
<line x1="77.90" y1="289.09" x2="77.90" y2="316.82" stroke="#0000ff" stroke-width="1.25"/>
<path d="M76.30 288.79H79.50L77.90 291.29Z" fill="#0000ff"/>
<path d="M76.30 317.12H79.50L77.90 314.62Z" fill="#0000ff"/>
<line x1="86.00" y1="269.80" x2="86.00" y2="307.02" stroke="#0000ff" stroke-width="1.25"/>
<path d="M84.40 269.50H87.60L86.00 272.00Z" fill="#0000ff"/>
<path d="M84.40 307.32H87.60L86.00 304.82Z" fill="#0000ff"/>
<line x1="94.10" y1="269.80" x2="94.10" y2="307.02" stroke="#0000ff" stroke-width="1.25"/>
<path d="M92.50 269.50H95.70L94.10 272.00Z" fill="#0000ff"/>
<path d="M92.50 307.32H95.70L94.10 304.82Z" fill="#0000ff"/>
<line x1="102.20" y1="269.80" x2="102.20" y2="307.02" stroke="#0000ff" stroke-width="1.25"/>
<path d="M100.60 269.50H103.80L102.20 272.00Z" fill="#0000ff"/>
<path d="M100.60 307.32H103.80L102.20 304.82Z" fill="#0000ff"/>
<line x1="110.30" y1="269.80" x2="110.30" y2="307.02" stroke="#0000ff" stroke-width="1.25"/>
<path d="M108.70 269.50H111.90L110.30 272.00Z" fill="#0000ff"/>
<path d="M108.70 307.32H111.90L110.30 304.82Z" fill="#0000ff"/>
<line x1="118.40" y1="269.80" x2="118.40" y2="307.02" stroke="#0000ff" stroke-width="1.25"/>
<path d="M116.80 269.50H120.00L118.40 272.00Z" fill="#0000ff"/>
<path d="M116.80 307.32H120.00L118.40 304.82Z" fill="#0000ff"/>
<line x1="126.50" y1="252.38" x2="126.50" y2="295.35" stroke="#0000ff" stroke-width="1.25"/>
<path d="M124.90 252.08H128.10L126.50 254.58Z" fill="#0000ff"/>
<path d="M124.90 295.65H128.10L126.50 293.15Z" fill="#0000ff"/>
<line x1="134.60" y1="252.38" x2="134.60" y2="295.35" stroke="#0000ff" stroke-width="1.25"/>
<path d="M133.00 252.08H136.20L134.60 254.58Z" fill="#0000ff"/>
<path d="M133.00 295.65H136.20L134.60 293.15Z" fill="#0000ff"/>
<line x1="142.70" y1="252.38" x2="142.70" y2="295.35" stroke="#0000ff" stroke-width="1.25"/>
<path d="M141.10 252.08H144.30L142.70 254.58Z" fill="#0000ff"/>
<path d="M141.10 295.65H144.30L142.70 293.15Z" fill="#0000ff"/>
<line x1="150.80" y1="236.11" x2="150.80" y2="282.52" stroke="#0000ff" stroke-width="1.25"/>
<path d="M149.20 235.81H152.40L150.80 238.31Z" fill="#0000ff"/>
<path d="M149.20 282.82H152.40L150.80 280.32Z" fill="#0000ff"/>
<line x1="158.90" y1="236.11" x2="158.90" y2="282.52" stroke="#0000ff" stroke-width="1.25"/>
<path d="M157.30 235.81H160.50L158.90 238.31Z" fill="#0000ff"/>
<path d="M157.30 282.82H160.50L158.90 280.32Z" fill="#0000ff"/>
<line x1="167.00" y1="206.21" x2="167.00" y2="254.25" stroke="#0000ff" stroke-width="1.25"/>
<path d="M165.40 205.91H168.60L167.00 208.41Z" fill="#0000ff"/>
<path d="M165.40 254.55H168.60L167.00 252.05Z" fill="#0000ff"/>
<line x1="175.10" y1="192.48" x2="175.10" y2="238.89" stroke="#0000ff" stroke-width="1.25"/>
<path d="M173.50 192.18H176.70L175.10 194.68Z" fill="#0000ff"/>
<path d="M173.50 239.19H176.70L175.10 236.69Z" fill="#0000ff"/>
<line x1="183.20" y1="192.48" x2="183.20" y2="238.89" stroke="#0000ff" stroke-width="1.25"/>
<path d="M181.60 192.18H184.80L183.20 194.68Z" fill="#0000ff"/>
<path d="M181.60 239.19H184.80L183.20 236.69Z" fill="#0000ff"/>
<line x1="191.30" y1="192.48" x2="191.30" y2="238.89" stroke="#0000ff" stroke-width="1.25"/>
<path d="M189.70 192.18H192.90L191.30 194.68Z" fill="#0000ff"/>
<path d="M189.70 239.19H192.90L191.30 236.69Z" fill="#0000ff"/>
<line x1="199.40" y1="192.48" x2="199.40" y2="238.89" stroke="#0000ff" stroke-width="1.25"/>
<path d="M197.80 192.18H201.00L199.40 194.68Z" fill="#0000ff"/>
<path d="M197.80 239.19H201.00L199.40 236.69Z" fill="#0000ff"/>
<line x1="207.50" y1="192.48" x2="207.50" y2="238.89" stroke="#0000ff" stroke-width="1.25"/>
<path d="M205.90 192.18H209.10L207.50 194.68Z" fill="#0000ff"/>
<path d="M205.90 239.19H209.10L207.50 236.69Z" fill="#0000ff"/>
<line x1="215.60" y1="192.48" x2="215.60" y2="238.89" stroke="#0000ff" stroke-width="1.25"/>
<path d="M214.00 192.18H217.20L215.60 194.68Z" fill="#0000ff"/>
<path d="M214.00 239.19H217.20L215.60 236.69Z" fill="#0000ff"/>
<line x1="223.70" y1="179.65" x2="223.70" y2="222.62" stroke="#0000ff" stroke-width="1.25"/>
<path d="M222.10 179.35H225.30L223.70 181.85Z" fill="#0000ff"/>
<path d="M222.10 222.92H225.30L223.70 220.42Z" fill="#0000ff"/>
<line x1="231.80" y1="179.65" x2="231.80" y2="222.62" stroke="#0000ff" stroke-width="1.25"/>
<path d="M230.20 179.35H233.40L231.80 181.85Z" fill="#0000ff"/>
<path d="M230.20 222.92H233.40L231.80 220.42Z" fill="#0000ff"/>
<line x1="239.90" y1="179.65" x2="239.90" y2="222.62" stroke="#0000ff" stroke-width="1.25"/>
<path d="M238.30 179.35H241.50L239.90 181.85Z" fill="#0000ff"/>
<path d="M238.30 222.92H241.50L239.90 220.42Z" fill="#0000ff"/>
<line x1="248.00" y1="179.65" x2="248.00" y2="222.62" stroke="#0000ff" stroke-width="1.25"/>
<path d="M246.40 179.35H249.60L248.00 181.85Z" fill="#0000ff"/>
<path d="M246.40 222.92H249.60L248.00 220.42Z" fill="#0000ff"/>
<line x1="256.10" y1="167.98" x2="256.10" y2="205.20" stroke="#0000ff" stroke-width="1.25"/>
<path d="M254.50 167.68H257.70L256.10 170.18Z" fill="#0000ff"/>
<path d="M254.50 205.50H257.70L256.10 203.00Z" fill="#0000ff"/>
<line x1="264.20" y1="167.98" x2="264.20" y2="205.20" stroke="#0000ff" stroke-width="1.25"/>
<path d="M262.60 167.68H265.80L264.20 170.18Z" fill="#0000ff"/>
<path d="M262.60 205.50H265.80L264.20 203.00Z" fill="#0000ff"/>
<line x1="272.30" y1="167.98" x2="272.30" y2="205.20" stroke="#0000ff" stroke-width="1.25"/>
<path d="M270.70 167.68H273.90L272.30 170.18Z" fill="#0000ff"/>
<path d="M270.70 205.50H273.90L272.30 203.00Z" fill="#0000ff"/>
<line x1="280.40" y1="167.98" x2="280.40" y2="205.20" stroke="#0000ff" stroke-width="1.25"/>
<path d="M278.80 167.68H282.00L280.40 170.18Z" fill="#0000ff"/>
<path d="M278.80 205.50H282.00L280.40 203.00Z" fill="#0000ff"/>
<line x1="288.50" y1="167.98" x2="288.50" y2="205.20" stroke="#0000ff" stroke-width="1.25"/>
<path d="M286.90 167.68H290.10L288.50 170.18Z" fill="#0000ff"/>
<path d="M286.90 205.50H290.10L288.50 203.00Z" fill="#0000ff"/>
<line x1="296.60" y1="167.98" x2="296.60" y2="205.20" stroke="#0000ff" stroke-width="1.25"/>
<path d="M295.00 167.68H298.20L296.60 170.18Z" fill="#0000ff"/>
<path d="M295.00 205.50H298.20L296.60 203.00Z" fill="#0000ff"/>
<line x1="304.70" y1="167.98" x2="304.70" y2="205.20" stroke="#0000ff" stroke-width="1.25"/>
<path d="M303.10 167.68H306.30L304.70 170.18Z" fill="#0000ff"/>
<path d="M303.10 205.50H306.30L304.70 203.00Z" fill="#0000ff"/>
<line x1="312.80" y1="167.98" x2="312.80" y2="205.20" stroke="#0000ff" stroke-width="1.25"/>
<path d="M311.20 167.68H314.40L312.80 170.18Z" fill="#0000ff"/>
<path d="M311.20 205.50H314.40L312.80 203.00Z" fill="#0000ff"/>
<line x1="320.90" y1="167.98" x2="320.90" y2="205.20" stroke="#0000ff" stroke-width="1.25"/>
<path d="M319.30 167.68H322.50L320.90 170.18Z" fill="#0000ff"/>
<path d="M319.30 205.50H322.50L320.90 203.00Z" fill="#0000ff"/>
<line x1="329.00" y1="167.98" x2="329.00" y2="205.20" stroke="#0000ff" stroke-width="1.25"/>
<path d="M327.40 167.68H330.60L329.00 170.18Z" fill="#0000ff"/>
<path d="M327.40 205.50H330.60L329.00 203.00Z" fill="#0000ff"/>
<line x1="337.10" y1="167.98" x2="337.10" y2="205.20" stroke="#0000ff" stroke-width="1.25"/>
<path d="M335.50 167.68H338.70L337.10 170.18Z" fill="#0000ff"/>
<path d="M335.50 205.50H338.70L337.10 203.00Z" fill="#0000ff"/>
<line x1="345.20" y1="167.98" x2="345.20" y2="205.20" stroke="#0000ff" stroke-width="1.25"/>
<path d="M343.60 167.68H346.80L345.20 170.18Z" fill="#0000ff"/>
<path d="M343.60 205.50H346.80L345.20 203.00Z" fill="#0000ff"/>
<line x1="353.30" y1="167.98" x2="353.30" y2="205.20" stroke="#0000ff" stroke-width="1.25"/>
<path d="M351.70 167.68H354.90L353.30 170.18Z" fill="#0000ff"/>
<path d="M351.70 205.50H354.90L353.30 203.00Z" fill="#0000ff"/>
<line x1="361.40" y1="167.98" x2="361.40" y2="205.20" stroke="#0000ff" stroke-width="1.25"/>
<path d="M359.80 167.68H363.00L361.40 170.18Z" fill="#0000ff"/>
<path d="M359.80 205.50H363.00L361.40 203.00Z" fill="#0000ff"/>
<polyline points="77.90 302.95 86.00 288.41 94.10 288.41 102.20 288.41 110.30 288.41 118.40 288.41 126.50 273.86 134.60 273.86 142.70 273.86 150.80 259.32 158.90 259.32 167.00 230.23 175.10 215.68 183.20 215.68 191.30 215.68 199.40 215.68 207.50 215.68 215.60 215.68 223.70 201.14 231.80 201.14 239.90 201.14 248.00 201.14 256.10 186.59 264.20 186.59 272.30 186.59 280.40 186.59 288.50 186.59 296.60 186.59 304.70 186.59 312.80 186.59 320.90 186.59 329.00 186.59 337.10 186.59 345.20 186.59 353.30 186.59 361.40 186.59" fill="none" stroke="#0000ff" stroke-width="1.3"/>
<path d="M77.90 299.95L80.70 305.15L75.10 305.15Z" fill="#0000ff"/>
<path d="M86.00 285.41L88.80 290.61L83.20 290.61Z" fill="#0000ff"/>
<path d="M94.10 285.41L96.90 290.61L91.30 290.61Z" fill="#0000ff"/>
<path d="M102.20 285.41L105.00 290.61L99.40 290.61Z" fill="#0000ff"/>
<path d="M110.30 285.41L113.10 290.61L107.50 290.61Z" fill="#0000ff"/>
<path d="M118.40 285.41L121.20 290.61L115.60 290.61Z" fill="#0000ff"/>
<path d="M126.50 270.86L129.30 276.06L123.70 276.06Z" fill="#0000ff"/>
<path d="M134.60 270.86L137.40 276.06L131.80 276.06Z" fill="#0000ff"/>
<path d="M142.70 270.86L145.50 276.06L139.90 276.06Z" fill="#0000ff"/>
<path d="M150.80 256.32L153.60 261.52L148.00 261.52Z" fill="#0000ff"/>
<path d="M158.90 256.32L161.70 261.52L156.10 261.52Z" fill="#0000ff"/>
<path d="M167.00 227.23L169.80 232.43L164.20 232.43Z" fill="#0000ff"/>
<path d="M175.10 212.68L177.90 217.88L172.30 217.88Z" fill="#0000ff"/>
<path d="M183.20 212.68L186.00 217.88L180.40 217.88Z" fill="#0000ff"/>
<path d="M191.30 212.68L194.10 217.88L188.50 217.88Z" fill="#0000ff"/>
<path d="M199.40 212.68L202.20 217.88L196.60 217.88Z" fill="#0000ff"/>
<path d="M207.50 212.68L210.30 217.88L204.70 217.88Z" fill="#0000ff"/>
<path d="M215.60 212.68L218.40 217.88L212.80 217.88Z" fill="#0000ff"/>
<path d="M223.70 198.14L226.50 203.34L220.90 203.34Z" fill="#0000ff"/>
<path d="M231.80 198.14L234.60 203.34L229.00 203.34Z" fill="#0000ff"/>
<path d="M239.90 198.14L242.70 203.34L237.10 203.34Z" fill="#0000ff"/>
<path d="M248.00 198.14L250.80 203.34L245.20 203.34Z" fill="#0000ff"/>
<path d="M256.10 183.59L258.90 188.79L253.30 188.79Z" fill="#0000ff"/>
<path d="M264.20 183.59L267.00 188.79L261.40 188.79Z" fill="#0000ff"/>
<path d="M272.30 183.59L275.10 188.79L269.50 188.79Z" fill="#0000ff"/>
<path d="M280.40 183.59L283.20 188.79L277.60 188.79Z" fill="#0000ff"/>
<path d="M288.50 183.59L291.30 188.79L285.70 188.79Z" fill="#0000ff"/>
<path d="M296.60 183.59L299.40 188.79L293.80 188.79Z" fill="#0000ff"/>
<path d="M304.70 183.59L307.50 188.79L301.90 188.79Z" fill="#0000ff"/>
<path d="M312.80 183.59L315.60 188.79L310.00 188.79Z" fill="#0000ff"/>
<path d="M320.90 183.59L323.70 188.79L318.10 188.79Z" fill="#0000ff"/>
<path d="M329.00 183.59L331.80 188.79L326.20 188.79Z" fill="#0000ff"/>
<path d="M337.10 183.59L339.90 188.79L334.30 188.79Z" fill="#0000ff"/>
<path d="M345.20 183.59L348.00 188.79L342.40 188.79Z" fill="#0000ff"/>
<path d="M353.30 183.59L356.10 188.79L350.50 188.79Z" fill="#0000ff"/>
<path d="M361.40 183.59L364.20 188.79L358.60 188.79Z" fill="#0000ff"/>
<line x1="77.90" y1="256.88" x2="77.90" y2="314.12" stroke="#a0005a" stroke-width="1.25" stroke-dasharray="2.4,2.4"/>
<path d="M76.30 256.58H79.50L77.90 259.08Z" fill="#a0005a"/>
<path d="M76.30 314.42H79.50L77.90 311.92Z" fill="#a0005a"/>
<line x1="86.00" y1="256.88" x2="86.00" y2="314.12" stroke="#a0005a" stroke-width="1.25" stroke-dasharray="2.4,2.4"/>
<path d="M84.40 256.58H87.60L86.00 259.08Z" fill="#a0005a"/>
<path d="M84.40 314.42H87.60L86.00 311.92Z" fill="#a0005a"/>
<line x1="94.10" y1="256.88" x2="94.10" y2="314.12" stroke="#a0005a" stroke-width="1.25" stroke-dasharray="2.4,2.4"/>
<path d="M92.50 256.58H95.70L94.10 259.08Z" fill="#a0005a"/>
<path d="M92.50 314.42H95.70L94.10 311.92Z" fill="#a0005a"/>
<line x1="110.30" y1="218.45" x2="110.30" y2="288.55" stroke="#a0005a" stroke-width="1.25" stroke-dasharray="2.4,2.4"/>
<path d="M108.70 218.15H111.90L110.30 220.65Z" fill="#a0005a"/>
<path d="M108.70 288.85H111.90L110.30 286.35Z" fill="#a0005a"/>
<line x1="118.40" y1="186.45" x2="118.40" y2="256.55" stroke="#a0005a" stroke-width="1.25" stroke-dasharray="2.4,2.4"/>
<path d="M116.80 186.15H120.00L118.40 188.65Z" fill="#a0005a"/>
<path d="M116.80 256.85H120.00L118.40 254.35Z" fill="#a0005a"/>
<line x1="126.50" y1="186.45" x2="126.50" y2="256.55" stroke="#a0005a" stroke-width="1.25" stroke-dasharray="2.4,2.4"/>
<path d="M124.90 186.15H128.10L126.50 188.65Z" fill="#a0005a"/>
<path d="M124.90 256.85H128.10L126.50 254.35Z" fill="#a0005a"/>
<line x1="134.60" y1="186.45" x2="134.60" y2="256.55" stroke="#a0005a" stroke-width="1.25" stroke-dasharray="2.4,2.4"/>
<path d="M133.00 186.15H136.20L134.60 188.65Z" fill="#a0005a"/>
<path d="M133.00 256.85H136.20L134.60 254.35Z" fill="#a0005a"/>
<line x1="142.70" y1="186.45" x2="142.70" y2="256.55" stroke="#a0005a" stroke-width="1.25" stroke-dasharray="2.4,2.4"/>
<path d="M141.10 186.15H144.30L142.70 188.65Z" fill="#a0005a"/>
<path d="M141.10 256.85H144.30L142.70 254.35Z" fill="#a0005a"/>
<line x1="150.80" y1="186.45" x2="150.80" y2="256.55" stroke="#a0005a" stroke-width="1.25" stroke-dasharray="2.4,2.4"/>
<path d="M149.20 186.15H152.40L150.80 188.65Z" fill="#a0005a"/>
<path d="M149.20 256.85H152.40L150.80 254.35Z" fill="#a0005a"/>
<line x1="158.90" y1="186.45" x2="158.90" y2="256.55" stroke="#a0005a" stroke-width="1.25" stroke-dasharray="2.4,2.4"/>
<path d="M157.30 186.15H160.50L158.90 188.65Z" fill="#a0005a"/>
<path d="M157.30 256.85H160.50L158.90 254.35Z" fill="#a0005a"/>
<line x1="167.00" y1="186.45" x2="167.00" y2="256.55" stroke="#a0005a" stroke-width="1.25" stroke-dasharray="2.4,2.4"/>
<path d="M165.40 186.15H168.60L167.00 188.65Z" fill="#a0005a"/>
<path d="M165.40 256.85H168.60L167.00 254.35Z" fill="#a0005a"/>
<line x1="175.10" y1="186.45" x2="175.10" y2="256.55" stroke="#a0005a" stroke-width="1.25" stroke-dasharray="2.4,2.4"/>
<path d="M173.50 186.15H176.70L175.10 188.65Z" fill="#a0005a"/>
<path d="M173.50 256.85H176.70L175.10 254.35Z" fill="#a0005a"/>
<line x1="183.20" y1="186.45" x2="183.20" y2="256.55" stroke="#a0005a" stroke-width="1.25" stroke-dasharray="2.4,2.4"/>
<path d="M181.60 186.15H184.80L183.20 188.65Z" fill="#a0005a"/>
<path d="M181.60 256.85H184.80L183.20 254.35Z" fill="#a0005a"/>
<line x1="191.30" y1="186.45" x2="191.30" y2="256.55" stroke="#a0005a" stroke-width="1.25" stroke-dasharray="2.4,2.4"/>
<path d="M189.70 186.15H192.90L191.30 188.65Z" fill="#a0005a"/>
<path d="M189.70 256.85H192.90L191.30 254.35Z" fill="#a0005a"/>
<line x1="199.40" y1="186.45" x2="199.40" y2="256.55" stroke="#a0005a" stroke-width="1.25" stroke-dasharray="2.4,2.4"/>
<path d="M197.80 186.15H201.00L199.40 188.65Z" fill="#a0005a"/>
<path d="M197.80 256.85H201.00L199.40 254.35Z" fill="#a0005a"/>
<line x1="207.50" y1="186.45" x2="207.50" y2="256.55" stroke="#a0005a" stroke-width="1.25" stroke-dasharray="2.4,2.4"/>
<path d="M205.90 186.15H209.10L207.50 188.65Z" fill="#a0005a"/>
<path d="M205.90 256.85H209.10L207.50 254.35Z" fill="#a0005a"/>
<line x1="215.60" y1="186.45" x2="215.60" y2="256.55" stroke="#a0005a" stroke-width="1.25" stroke-dasharray="2.4,2.4"/>
<path d="M214.00 186.15H217.20L215.60 188.65Z" fill="#a0005a"/>
<path d="M214.00 256.85H217.20L215.60 254.35Z" fill="#a0005a"/>
<line x1="223.70" y1="186.45" x2="223.70" y2="256.55" stroke="#a0005a" stroke-width="1.25" stroke-dasharray="2.4,2.4"/>
<path d="M222.10 186.15H225.30L223.70 188.65Z" fill="#a0005a"/>
<path d="M222.10 256.85H225.30L223.70 254.35Z" fill="#a0005a"/>
<line x1="231.80" y1="186.45" x2="231.80" y2="256.55" stroke="#a0005a" stroke-width="1.25" stroke-dasharray="2.4,2.4"/>
<path d="M230.20 186.15H233.40L231.80 188.65Z" fill="#a0005a"/>
<path d="M230.20 256.85H233.40L231.80 254.35Z" fill="#a0005a"/>
<line x1="239.90" y1="186.45" x2="239.90" y2="256.55" stroke="#a0005a" stroke-width="1.25" stroke-dasharray="2.4,2.4"/>
<path d="M238.30 186.15H241.50L239.90 188.65Z" fill="#a0005a"/>
<path d="M238.30 256.85H241.50L239.90 254.35Z" fill="#a0005a"/>
<line x1="248.00" y1="186.45" x2="248.00" y2="256.55" stroke="#a0005a" stroke-width="1.25" stroke-dasharray="2.4,2.4"/>
<path d="M246.40 186.15H249.60L248.00 188.65Z" fill="#a0005a"/>
<path d="M246.40 256.85H249.60L248.00 254.35Z" fill="#a0005a"/>
<line x1="256.10" y1="186.45" x2="256.10" y2="256.55" stroke="#a0005a" stroke-width="1.25" stroke-dasharray="2.4,2.4"/>
<path d="M254.50 186.15H257.70L256.10 188.65Z" fill="#a0005a"/>
<path d="M254.50 256.85H257.70L256.10 254.35Z" fill="#a0005a"/>
<line x1="264.20" y1="186.45" x2="264.20" y2="256.55" stroke="#a0005a" stroke-width="1.25" stroke-dasharray="2.4,2.4"/>
<path d="M262.60 186.15H265.80L264.20 188.65Z" fill="#a0005a"/>
<path d="M262.60 256.85H265.80L264.20 254.35Z" fill="#a0005a"/>
<line x1="272.30" y1="186.45" x2="272.30" y2="256.55" stroke="#a0005a" stroke-width="1.25" stroke-dasharray="2.4,2.4"/>
<path d="M270.70 186.15H273.90L272.30 188.65Z" fill="#a0005a"/>
<path d="M270.70 256.85H273.90L272.30 254.35Z" fill="#a0005a"/>
<line x1="280.40" y1="186.45" x2="280.40" y2="256.55" stroke="#a0005a" stroke-width="1.25" stroke-dasharray="2.4,2.4"/>
<path d="M278.80 186.15H282.00L280.40 188.65Z" fill="#a0005a"/>
<path d="M278.80 256.85H282.00L280.40 254.35Z" fill="#a0005a"/>
<line x1="288.50" y1="186.45" x2="288.50" y2="256.55" stroke="#a0005a" stroke-width="1.25" stroke-dasharray="2.4,2.4"/>
<path d="M286.90 186.15H290.10L288.50 188.65Z" fill="#a0005a"/>
<path d="M286.90 256.85H290.10L288.50 254.35Z" fill="#a0005a"/>
<line x1="296.60" y1="186.45" x2="296.60" y2="256.55" stroke="#a0005a" stroke-width="1.25" stroke-dasharray="2.4,2.4"/>
<path d="M295.00 186.15H298.20L296.60 188.65Z" fill="#a0005a"/>
<path d="M295.00 256.85H298.20L296.60 254.35Z" fill="#a0005a"/>
<line x1="304.70" y1="186.45" x2="304.70" y2="256.55" stroke="#a0005a" stroke-width="1.25" stroke-dasharray="2.4,2.4"/>
<path d="M303.10 186.15H306.30L304.70 188.65Z" fill="#a0005a"/>
<path d="M303.10 256.85H306.30L304.70 254.35Z" fill="#a0005a"/>
<line x1="312.80" y1="160.88" x2="312.80" y2="218.12" stroke="#a0005a" stroke-width="1.25" stroke-dasharray="2.4,2.4"/>
<path d="M311.20 160.58H314.40L312.80 163.08Z" fill="#a0005a"/>
<path d="M311.20 218.42H314.40L312.80 215.92Z" fill="#a0005a"/>
<line x1="320.90" y1="160.88" x2="320.90" y2="218.12" stroke="#a0005a" stroke-width="1.25" stroke-dasharray="2.4,2.4"/>
<path d="M319.30 160.58H322.50L320.90 163.08Z" fill="#a0005a"/>
<path d="M319.30 218.42H322.50L320.90 215.92Z" fill="#a0005a"/>
<line x1="329.00" y1="160.88" x2="329.00" y2="218.12" stroke="#a0005a" stroke-width="1.25" stroke-dasharray="2.4,2.4"/>
<path d="M327.40 160.58H330.60L329.00 163.08Z" fill="#a0005a"/>
<path d="M327.40 218.42H330.60L329.00 215.92Z" fill="#a0005a"/>
<line x1="337.10" y1="160.88" x2="337.10" y2="218.12" stroke="#a0005a" stroke-width="1.25" stroke-dasharray="2.4,2.4"/>
<path d="M335.50 160.58H338.70L337.10 163.08Z" fill="#a0005a"/>
<path d="M335.50 218.42H338.70L337.10 215.92Z" fill="#a0005a"/>
<line x1="345.20" y1="160.88" x2="345.20" y2="218.12" stroke="#a0005a" stroke-width="1.25" stroke-dasharray="2.4,2.4"/>
<path d="M343.60 160.58H346.80L345.20 163.08Z" fill="#a0005a"/>
<path d="M343.60 218.42H346.80L345.20 215.92Z" fill="#a0005a"/>
<line x1="353.30" y1="160.88" x2="353.30" y2="218.12" stroke="#a0005a" stroke-width="1.25" stroke-dasharray="2.4,2.4"/>
<path d="M351.70 160.58H354.90L353.30 163.08Z" fill="#a0005a"/>
<path d="M351.70 218.42H354.90L353.30 215.92Z" fill="#a0005a"/>
<line x1="361.40" y1="160.88" x2="361.40" y2="218.12" stroke="#a0005a" stroke-width="1.25" stroke-dasharray="2.4,2.4"/>
<path d="M359.80 160.58H363.00L361.40 163.08Z" fill="#a0005a"/>
<path d="M359.80 218.42H363.00L361.40 215.92Z" fill="#a0005a"/>
<polyline points="77.90 285.50 86.00 285.50 94.10 285.50 110.30 253.50 118.40 221.50 126.50 221.50 134.60 221.50 142.70 221.50 150.80 221.50 158.90 221.50 167.00 221.50 175.10 221.50 183.20 221.50 191.30 221.50 199.40 221.50 207.50 221.50 215.60 221.50 223.70 221.50 231.80 221.50 239.90 221.50 248.00 221.50 256.10 221.50 264.20 221.50 272.30 221.50 280.40 221.50 288.50 221.50 296.60 221.50 304.70 221.50 312.80 189.50 320.90 189.50 329.00 189.50 337.10 189.50 345.20 189.50 353.30 189.50 361.40 189.50" fill="none" stroke="#a0005a" stroke-width="1.3" stroke-dasharray="2.4,2.4"/>
<path d="M77.90 288.50L80.70 283.30L75.10 283.30Z" fill="#a0005a"/>
<path d="M86.00 288.50L88.80 283.30L83.20 283.30Z" fill="#a0005a"/>
<path d="M94.10 288.50L96.90 283.30L91.30 283.30Z" fill="#a0005a"/>
<path d="M110.30 256.50L113.10 251.30L107.50 251.30Z" fill="#a0005a"/>
<path d="M118.40 224.50L121.20 219.30L115.60 219.30Z" fill="#a0005a"/>
<path d="M126.50 224.50L129.30 219.30L123.70 219.30Z" fill="#a0005a"/>
<path d="M134.60 224.50L137.40 219.30L131.80 219.30Z" fill="#a0005a"/>
<path d="M142.70 224.50L145.50 219.30L139.90 219.30Z" fill="#a0005a"/>
<path d="M150.80 224.50L153.60 219.30L148.00 219.30Z" fill="#a0005a"/>
<path d="M158.90 224.50L161.70 219.30L156.10 219.30Z" fill="#a0005a"/>
<path d="M167.00 224.50L169.80 219.30L164.20 219.30Z" fill="#a0005a"/>
<path d="M175.10 224.50L177.90 219.30L172.30 219.30Z" fill="#a0005a"/>
<path d="M183.20 224.50L186.00 219.30L180.40 219.30Z" fill="#a0005a"/>
<path d="M191.30 224.50L194.10 219.30L188.50 219.30Z" fill="#a0005a"/>
<path d="M199.40 224.50L202.20 219.30L196.60 219.30Z" fill="#a0005a"/>
<path d="M207.50 224.50L210.30 219.30L204.70 219.30Z" fill="#a0005a"/>
<path d="M215.60 224.50L218.40 219.30L212.80 219.30Z" fill="#a0005a"/>
<path d="M223.70 224.50L226.50 219.30L220.90 219.30Z" fill="#a0005a"/>
<path d="M231.80 224.50L234.60 219.30L229.00 219.30Z" fill="#a0005a"/>
<path d="M239.90 224.50L242.70 219.30L237.10 219.30Z" fill="#a0005a"/>
<path d="M248.00 224.50L250.80 219.30L245.20 219.30Z" fill="#a0005a"/>
<path d="M256.10 224.50L258.90 219.30L253.30 219.30Z" fill="#a0005a"/>
<path d="M264.20 224.50L267.00 219.30L261.40 219.30Z" fill="#a0005a"/>
<path d="M272.30 224.50L275.10 219.30L269.50 219.30Z" fill="#a0005a"/>
<path d="M280.40 224.50L283.20 219.30L277.60 219.30Z" fill="#a0005a"/>
<path d="M288.50 224.50L291.30 219.30L285.70 219.30Z" fill="#a0005a"/>
<path d="M296.60 224.50L299.40 219.30L293.80 219.30Z" fill="#a0005a"/>
<path d="M304.70 224.50L307.50 219.30L301.90 219.30Z" fill="#a0005a"/>
<path d="M312.80 192.50L315.60 187.30L310.00 187.30Z" fill="#a0005a"/>
<path d="M320.90 192.50L323.70 187.30L318.10 187.30Z" fill="#a0005a"/>
<path d="M329.00 192.50L331.80 187.30L326.20 187.30Z" fill="#a0005a"/>
<path d="M337.10 192.50L339.90 187.30L334.30 187.30Z" fill="#a0005a"/>
<path d="M345.20 192.50L348.00 187.30L342.40 187.30Z" fill="#a0005a"/>
<path d="M353.30 192.50L356.10 187.30L350.50 187.30Z" fill="#a0005a"/>
<path d="M361.40 192.50L364.20 187.30L358.60 187.30Z" fill="#a0005a"/>
<line x1="77.90" y1="273.62" x2="77.90" y2="308.05" stroke="#c4003c" stroke-width="1.25" stroke-dasharray="2.7,2.2,0.8,2.3"/>
<path d="M76.30 273.32H79.50L77.90 275.82Z" fill="#c4003c"/>
<path d="M76.30 308.35H79.50L77.90 305.85Z" fill="#c4003c"/>
<line x1="86.00" y1="273.62" x2="86.00" y2="308.05" stroke="#c4003c" stroke-width="1.25" stroke-dasharray="2.7,2.2,0.8,2.3"/>
<path d="M84.40 273.32H87.60L86.00 275.82Z" fill="#c4003c"/>
<path d="M84.40 308.35H87.60L86.00 305.85Z" fill="#c4003c"/>
<line x1="94.10" y1="273.62" x2="94.10" y2="308.05" stroke="#c4003c" stroke-width="1.25" stroke-dasharray="2.7,2.2,0.8,2.3"/>
<path d="M92.50 273.32H95.70L94.10 275.82Z" fill="#c4003c"/>
<path d="M92.50 308.35H95.70L94.10 305.85Z" fill="#c4003c"/>
<line x1="102.20" y1="257.50" x2="102.20" y2="297.50" stroke="#c4003c" stroke-width="1.25" stroke-dasharray="2.7,2.2,0.8,2.3"/>
<path d="M100.60 257.20H103.80L102.20 259.70Z" fill="#c4003c"/>
<path d="M100.60 297.80H103.80L102.20 295.30Z" fill="#c4003c"/>
<line x1="110.30" y1="257.50" x2="110.30" y2="297.50" stroke="#c4003c" stroke-width="1.25" stroke-dasharray="2.7,2.2,0.8,2.3"/>
<path d="M108.70 257.20H111.90L110.30 259.70Z" fill="#c4003c"/>
<path d="M108.70 297.80H111.90L110.30 295.30Z" fill="#c4003c"/>
<line x1="118.40" y1="228.06" x2="118.40" y2="273.60" stroke="#c4003c" stroke-width="1.25" stroke-dasharray="2.7,2.2,0.8,2.3"/>
<path d="M116.80 227.76H120.00L118.40 230.26Z" fill="#c4003c"/>
<path d="M116.80 273.90H120.00L118.40 271.40Z" fill="#c4003c"/>
<line x1="126.50" y1="228.06" x2="126.50" y2="273.60" stroke="#c4003c" stroke-width="1.25" stroke-dasharray="2.7,2.2,0.8,2.3"/>
<path d="M124.90 227.76H128.10L126.50 230.26Z" fill="#c4003c"/>
<path d="M124.90 273.90H128.10L126.50 271.40Z" fill="#c4003c"/>
<line x1="134.60" y1="228.06" x2="134.60" y2="273.60" stroke="#c4003c" stroke-width="1.25" stroke-dasharray="2.7,2.2,0.8,2.3"/>
<path d="M133.00 227.76H136.20L134.60 230.26Z" fill="#c4003c"/>
<path d="M133.00 273.90H136.20L134.60 271.40Z" fill="#c4003c"/>
<line x1="142.70" y1="228.06" x2="142.70" y2="273.60" stroke="#c4003c" stroke-width="1.25" stroke-dasharray="2.7,2.2,0.8,2.3"/>
<path d="M141.10 227.76H144.30L142.70 230.26Z" fill="#c4003c"/>
<path d="M141.10 273.90H144.30L142.70 271.40Z" fill="#c4003c"/>
<line x1="150.80" y1="228.06" x2="150.80" y2="273.60" stroke="#c4003c" stroke-width="1.25" stroke-dasharray="2.7,2.2,0.8,2.3"/>
<path d="M149.20 227.76H152.40L150.80 230.26Z" fill="#c4003c"/>
<path d="M149.20 273.90H152.40L150.80 271.40Z" fill="#c4003c"/>
<line x1="158.90" y1="228.06" x2="158.90" y2="273.60" stroke="#c4003c" stroke-width="1.25" stroke-dasharray="2.7,2.2,0.8,2.3"/>
<path d="M157.30 227.76H160.50L158.90 230.26Z" fill="#c4003c"/>
<path d="M157.30 273.90H160.50L158.90 271.40Z" fill="#c4003c"/>
<line x1="167.00" y1="228.06" x2="167.00" y2="273.60" stroke="#c4003c" stroke-width="1.25" stroke-dasharray="2.7,2.2,0.8,2.3"/>
<path d="M165.40 227.76H168.60L167.00 230.26Z" fill="#c4003c"/>
<path d="M165.40 273.90H168.60L167.00 271.40Z" fill="#c4003c"/>
<line x1="175.10" y1="228.06" x2="175.10" y2="273.60" stroke="#c4003c" stroke-width="1.25" stroke-dasharray="2.7,2.2,0.8,2.3"/>
<path d="M173.50 227.76H176.70L175.10 230.26Z" fill="#c4003c"/>
<path d="M173.50 273.90H176.70L175.10 271.40Z" fill="#c4003c"/>
<line x1="183.20" y1="228.06" x2="183.20" y2="273.60" stroke="#c4003c" stroke-width="1.25" stroke-dasharray="2.7,2.2,0.8,2.3"/>
<path d="M181.60 227.76H184.80L183.20 230.26Z" fill="#c4003c"/>
<path d="M181.60 273.90H184.80L183.20 271.40Z" fill="#c4003c"/>
<line x1="191.30" y1="228.06" x2="191.30" y2="273.60" stroke="#c4003c" stroke-width="1.25" stroke-dasharray="2.7,2.2,0.8,2.3"/>
<path d="M189.70 227.76H192.90L191.30 230.26Z" fill="#c4003c"/>
<path d="M189.70 273.90H192.90L191.30 271.40Z" fill="#c4003c"/>
<line x1="199.40" y1="228.06" x2="199.40" y2="273.60" stroke="#c4003c" stroke-width="1.25" stroke-dasharray="2.7,2.2,0.8,2.3"/>
<path d="M197.80 227.76H201.00L199.40 230.26Z" fill="#c4003c"/>
<path d="M197.80 273.90H201.00L199.40 271.40Z" fill="#c4003c"/>
<line x1="207.50" y1="228.06" x2="207.50" y2="273.60" stroke="#c4003c" stroke-width="1.25" stroke-dasharray="2.7,2.2,0.8,2.3"/>
<path d="M205.90 227.76H209.10L207.50 230.26Z" fill="#c4003c"/>
<path d="M205.90 273.90H209.10L207.50 271.40Z" fill="#c4003c"/>
<line x1="215.60" y1="214.41" x2="215.60" y2="260.59" stroke="#c4003c" stroke-width="1.25" stroke-dasharray="2.7,2.2,0.8,2.3"/>
<path d="M214.00 214.11H217.20L215.60 216.61Z" fill="#c4003c"/>
<path d="M214.00 260.89H217.20L215.60 258.39Z" fill="#c4003c"/>
<line x1="223.70" y1="214.41" x2="223.70" y2="260.59" stroke="#c4003c" stroke-width="1.25" stroke-dasharray="2.7,2.2,0.8,2.3"/>
<path d="M222.10 214.11H225.30L223.70 216.61Z" fill="#c4003c"/>
<path d="M222.10 260.89H225.30L223.70 258.39Z" fill="#c4003c"/>
<line x1="231.80" y1="214.41" x2="231.80" y2="260.59" stroke="#c4003c" stroke-width="1.25" stroke-dasharray="2.7,2.2,0.8,2.3"/>
<path d="M230.20 214.11H233.40L231.80 216.61Z" fill="#c4003c"/>
<path d="M230.20 260.89H233.40L231.80 258.39Z" fill="#c4003c"/>
<line x1="239.90" y1="214.41" x2="239.90" y2="260.59" stroke="#c4003c" stroke-width="1.25" stroke-dasharray="2.7,2.2,0.8,2.3"/>
<path d="M238.30 214.11H241.50L239.90 216.61Z" fill="#c4003c"/>
<path d="M238.30 260.89H241.50L239.90 258.39Z" fill="#c4003c"/>
<line x1="248.00" y1="214.41" x2="248.00" y2="260.59" stroke="#c4003c" stroke-width="1.25" stroke-dasharray="2.7,2.2,0.8,2.3"/>
<path d="M246.40 214.11H249.60L248.00 216.61Z" fill="#c4003c"/>
<path d="M246.40 260.89H249.60L248.00 258.39Z" fill="#c4003c"/>
<line x1="256.10" y1="214.41" x2="256.10" y2="260.59" stroke="#c4003c" stroke-width="1.25" stroke-dasharray="2.7,2.2,0.8,2.3"/>
<path d="M254.50 214.11H257.70L256.10 216.61Z" fill="#c4003c"/>
<path d="M254.50 260.89H257.70L256.10 258.39Z" fill="#c4003c"/>
<line x1="264.20" y1="214.41" x2="264.20" y2="260.59" stroke="#c4003c" stroke-width="1.25" stroke-dasharray="2.7,2.2,0.8,2.3"/>
<path d="M262.60 214.11H265.80L264.20 216.61Z" fill="#c4003c"/>
<path d="M262.60 260.89H265.80L264.20 258.39Z" fill="#c4003c"/>
<line x1="272.30" y1="214.41" x2="272.30" y2="260.59" stroke="#c4003c" stroke-width="1.25" stroke-dasharray="2.7,2.2,0.8,2.3"/>
<path d="M270.70 214.11H273.90L272.30 216.61Z" fill="#c4003c"/>
<path d="M270.70 260.89H273.90L272.30 258.39Z" fill="#c4003c"/>
<line x1="280.40" y1="214.41" x2="280.40" y2="260.59" stroke="#c4003c" stroke-width="1.25" stroke-dasharray="2.7,2.2,0.8,2.3"/>
<path d="M278.80 214.11H282.00L280.40 216.61Z" fill="#c4003c"/>
<path d="M278.80 260.89H282.00L280.40 258.39Z" fill="#c4003c"/>
<line x1="288.50" y1="201.40" x2="288.50" y2="246.94" stroke="#c4003c" stroke-width="1.25" stroke-dasharray="2.7,2.2,0.8,2.3"/>
<path d="M286.90 201.10H290.10L288.50 203.60Z" fill="#c4003c"/>
<path d="M286.90 247.24H290.10L288.50 244.74Z" fill="#c4003c"/>
<line x1="296.60" y1="201.40" x2="296.60" y2="246.94" stroke="#c4003c" stroke-width="1.25" stroke-dasharray="2.7,2.2,0.8,2.3"/>
<path d="M295.00 201.10H298.20L296.60 203.60Z" fill="#c4003c"/>
<path d="M295.00 247.24H298.20L296.60 244.74Z" fill="#c4003c"/>
<line x1="304.70" y1="201.40" x2="304.70" y2="246.94" stroke="#c4003c" stroke-width="1.25" stroke-dasharray="2.7,2.2,0.8,2.3"/>
<path d="M303.10 201.10H306.30L304.70 203.60Z" fill="#c4003c"/>
<path d="M303.10 247.24H306.30L304.70 244.74Z" fill="#c4003c"/>
<line x1="312.80" y1="201.40" x2="312.80" y2="246.94" stroke="#c4003c" stroke-width="1.25" stroke-dasharray="2.7,2.2,0.8,2.3"/>
<path d="M311.20 201.10H314.40L312.80 203.60Z" fill="#c4003c"/>
<path d="M311.20 247.24H314.40L312.80 244.74Z" fill="#c4003c"/>
<line x1="320.90" y1="201.40" x2="320.90" y2="246.94" stroke="#c4003c" stroke-width="1.25" stroke-dasharray="2.7,2.2,0.8,2.3"/>
<path d="M319.30 201.10H322.50L320.90 203.60Z" fill="#c4003c"/>
<path d="M319.30 247.24H322.50L320.90 244.74Z" fill="#c4003c"/>
<line x1="329.00" y1="201.40" x2="329.00" y2="246.94" stroke="#c4003c" stroke-width="1.25" stroke-dasharray="2.7,2.2,0.8,2.3"/>
<path d="M327.40 201.10H330.60L329.00 203.60Z" fill="#c4003c"/>
<path d="M327.40 247.24H330.60L329.00 244.74Z" fill="#c4003c"/>
<line x1="337.10" y1="189.06" x2="337.10" y2="232.61" stroke="#c4003c" stroke-width="1.25" stroke-dasharray="2.7,2.2,0.8,2.3"/>
<path d="M335.50 188.76H338.70L337.10 191.26Z" fill="#c4003c"/>
<path d="M335.50 232.91H338.70L337.10 230.41Z" fill="#c4003c"/>
<line x1="345.20" y1="189.06" x2="345.20" y2="232.61" stroke="#c4003c" stroke-width="1.25" stroke-dasharray="2.7,2.2,0.8,2.3"/>
<path d="M343.60 188.76H346.80L345.20 191.26Z" fill="#c4003c"/>
<path d="M343.60 232.91H346.80L345.20 230.41Z" fill="#c4003c"/>
<line x1="353.30" y1="189.06" x2="353.30" y2="232.61" stroke="#c4003c" stroke-width="1.25" stroke-dasharray="2.7,2.2,0.8,2.3"/>
<path d="M351.70 188.76H354.90L353.30 191.26Z" fill="#c4003c"/>
<path d="M351.70 232.91H354.90L353.30 230.41Z" fill="#c4003c"/>
<line x1="361.40" y1="189.06" x2="361.40" y2="232.61" stroke="#c4003c" stroke-width="1.25" stroke-dasharray="2.7,2.2,0.8,2.3"/>
<path d="M359.80 188.76H363.00L361.40 191.26Z" fill="#c4003c"/>
<path d="M359.80 232.91H363.00L361.40 230.41Z" fill="#c4003c"/>
<polyline points="77.90 290.83 86.00 290.83 94.10 290.83 102.20 277.50 110.30 277.50 118.40 250.83 126.50 250.83 134.60 250.83 142.70 250.83 150.80 250.83 158.90 250.83 167.00 250.83 175.10 250.83 183.20 250.83 191.30 250.83 199.40 250.83 207.50 250.83 215.60 237.50 223.70 237.50 231.80 237.50 239.90 237.50 248.00 237.50 256.10 237.50 264.20 237.50 272.30 237.50 280.40 237.50 288.50 224.17 296.60 224.17 304.70 224.17 312.80 224.17 320.90 224.17 329.00 224.17 337.10 210.83 345.20 210.83 353.30 210.83 361.40 210.83" fill="none" stroke="#c4003c" stroke-width="1.2" stroke-dasharray="2.7,2.2,0.8,2.3"/>
<path d="M77.90 288.33L79.70 290.83L77.90 293.33L76.10 290.83Z" fill="none" stroke="#c4003c" stroke-width="1.1"/>
<path d="M86.00 288.33L87.80 290.83L86.00 293.33L84.20 290.83Z" fill="none" stroke="#c4003c" stroke-width="1.1"/>
<path d="M94.10 288.33L95.90 290.83L94.10 293.33L92.30 290.83Z" fill="none" stroke="#c4003c" stroke-width="1.1"/>
<path d="M102.20 275.00L104.00 277.50L102.20 280.00L100.40 277.50Z" fill="none" stroke="#c4003c" stroke-width="1.1"/>
<path d="M110.30 275.00L112.10 277.50L110.30 280.00L108.50 277.50Z" fill="none" stroke="#c4003c" stroke-width="1.1"/>
<path d="M118.40 248.33L120.20 250.83L118.40 253.33L116.60 250.83Z" fill="none" stroke="#c4003c" stroke-width="1.1"/>
<path d="M126.50 248.33L128.30 250.83L126.50 253.33L124.70 250.83Z" fill="none" stroke="#c4003c" stroke-width="1.1"/>
<path d="M134.60 248.33L136.40 250.83L134.60 253.33L132.80 250.83Z" fill="none" stroke="#c4003c" stroke-width="1.1"/>
<path d="M142.70 248.33L144.50 250.83L142.70 253.33L140.90 250.83Z" fill="none" stroke="#c4003c" stroke-width="1.1"/>
<path d="M150.80 248.33L152.60 250.83L150.80 253.33L149.00 250.83Z" fill="none" stroke="#c4003c" stroke-width="1.1"/>
<path d="M158.90 248.33L160.70 250.83L158.90 253.33L157.10 250.83Z" fill="none" stroke="#c4003c" stroke-width="1.1"/>
<path d="M167.00 248.33L168.80 250.83L167.00 253.33L165.20 250.83Z" fill="none" stroke="#c4003c" stroke-width="1.1"/>
<path d="M175.10 248.33L176.90 250.83L175.10 253.33L173.30 250.83Z" fill="none" stroke="#c4003c" stroke-width="1.1"/>
<path d="M183.20 248.33L185.00 250.83L183.20 253.33L181.40 250.83Z" fill="none" stroke="#c4003c" stroke-width="1.1"/>
<path d="M191.30 248.33L193.10 250.83L191.30 253.33L189.50 250.83Z" fill="none" stroke="#c4003c" stroke-width="1.1"/>
<path d="M199.40 248.33L201.20 250.83L199.40 253.33L197.60 250.83Z" fill="none" stroke="#c4003c" stroke-width="1.1"/>
<path d="M207.50 248.33L209.30 250.83L207.50 253.33L205.70 250.83Z" fill="none" stroke="#c4003c" stroke-width="1.1"/>
<path d="M215.60 235.00L217.40 237.50L215.60 240.00L213.80 237.50Z" fill="none" stroke="#c4003c" stroke-width="1.1"/>
<path d="M223.70 235.00L225.50 237.50L223.70 240.00L221.90 237.50Z" fill="none" stroke="#c4003c" stroke-width="1.1"/>
<path d="M231.80 235.00L233.60 237.50L231.80 240.00L230.00 237.50Z" fill="none" stroke="#c4003c" stroke-width="1.1"/>
<path d="M239.90 235.00L241.70 237.50L239.90 240.00L238.10 237.50Z" fill="none" stroke="#c4003c" stroke-width="1.1"/>
<path d="M248.00 235.00L249.80 237.50L248.00 240.00L246.20 237.50Z" fill="none" stroke="#c4003c" stroke-width="1.1"/>
<path d="M256.10 235.00L257.90 237.50L256.10 240.00L254.30 237.50Z" fill="none" stroke="#c4003c" stroke-width="1.1"/>
<path d="M264.20 235.00L266.00 237.50L264.20 240.00L262.40 237.50Z" fill="none" stroke="#c4003c" stroke-width="1.1"/>
<path d="M272.30 235.00L274.10 237.50L272.30 240.00L270.50 237.50Z" fill="none" stroke="#c4003c" stroke-width="1.1"/>
<path d="M280.40 235.00L282.20 237.50L280.40 240.00L278.60 237.50Z" fill="none" stroke="#c4003c" stroke-width="1.1"/>
<path d="M288.50 221.67L290.30 224.17L288.50 226.67L286.70 224.17Z" fill="none" stroke="#c4003c" stroke-width="1.1"/>
<path d="M296.60 221.67L298.40 224.17L296.60 226.67L294.80 224.17Z" fill="none" stroke="#c4003c" stroke-width="1.1"/>
<path d="M304.70 221.67L306.50 224.17L304.70 226.67L302.90 224.17Z" fill="none" stroke="#c4003c" stroke-width="1.1"/>
<path d="M312.80 221.67L314.60 224.17L312.80 226.67L311.00 224.17Z" fill="none" stroke="#c4003c" stroke-width="1.1"/>
<path d="M320.90 221.67L322.70 224.17L320.90 226.67L319.10 224.17Z" fill="none" stroke="#c4003c" stroke-width="1.1"/>
<path d="M329.00 221.67L330.80 224.17L329.00 226.67L327.20 224.17Z" fill="none" stroke="#c4003c" stroke-width="1.1"/>
<path d="M337.10 208.33L338.90 210.83L337.10 213.33L335.30 210.83Z" fill="none" stroke="#c4003c" stroke-width="1.1"/>
<path d="M345.20 208.33L347.00 210.83L345.20 213.33L343.40 210.83Z" fill="none" stroke="#c4003c" stroke-width="1.1"/>
<path d="M353.30 208.33L355.10 210.83L353.30 213.33L351.50 210.83Z" fill="none" stroke="#c4003c" stroke-width="1.1"/>
<path d="M361.40 208.33L363.20 210.83L361.40 213.33L359.60 210.83Z" fill="none" stroke="#c4003c" stroke-width="1.1"/>
<line x1="102.20" y1="256.88" x2="102.20" y2="314.12" stroke="#c84418" stroke-width="1.25" stroke-dasharray="4,1.7,1,1.8"/>
<path d="M100.60 256.58H103.80L102.20 259.08Z" fill="#c84418"/>
<path d="M100.60 314.42H103.80L102.20 311.92Z" fill="#c84418"/>
<line x1="110.30" y1="256.88" x2="110.30" y2="314.12" stroke="#c84418" stroke-width="1.25" stroke-dasharray="4,1.7,1,1.8"/>
<path d="M108.70 256.58H111.90L110.30 259.08Z" fill="#c84418"/>
<path d="M108.70 314.42H111.90L110.30 311.92Z" fill="#c84418"/>
<line x1="118.40" y1="256.88" x2="118.40" y2="314.12" stroke="#c84418" stroke-width="1.25" stroke-dasharray="4,1.7,1,1.8"/>
<path d="M116.80 256.58H120.00L118.40 259.08Z" fill="#c84418"/>
<path d="M116.80 314.42H120.00L118.40 311.92Z" fill="#c84418"/>
<line x1="126.50" y1="256.88" x2="126.50" y2="314.12" stroke="#c84418" stroke-width="1.25" stroke-dasharray="4,1.7,1,1.8"/>
<path d="M124.90 256.58H128.10L126.50 259.08Z" fill="#c84418"/>
<path d="M124.90 314.42H128.10L126.50 311.92Z" fill="#c84418"/>
<line x1="134.60" y1="218.45" x2="134.60" y2="288.55" stroke="#c84418" stroke-width="1.25" stroke-dasharray="4,1.7,1,1.8"/>
<path d="M133.00 218.15H136.20L134.60 220.65Z" fill="#c84418"/>
<path d="M133.00 288.85H136.20L134.60 286.35Z" fill="#c84418"/>
<line x1="142.70" y1="218.45" x2="142.70" y2="288.55" stroke="#c84418" stroke-width="1.25" stroke-dasharray="4,1.7,1,1.8"/>
<path d="M141.10 218.15H144.30L142.70 220.65Z" fill="#c84418"/>
<path d="M141.10 288.85H144.30L142.70 286.35Z" fill="#c84418"/>
<line x1="150.80" y1="186.45" x2="150.80" y2="256.55" stroke="#c84418" stroke-width="1.25" stroke-dasharray="4,1.7,1,1.8"/>
<path d="M149.20 186.15H152.40L150.80 188.65Z" fill="#c84418"/>
<path d="M149.20 256.85H152.40L150.80 254.35Z" fill="#c84418"/>
<line x1="158.90" y1="186.45" x2="158.90" y2="256.55" stroke="#c84418" stroke-width="1.25" stroke-dasharray="4,1.7,1,1.8"/>
<path d="M157.30 186.15H160.50L158.90 188.65Z" fill="#c84418"/>
<path d="M157.30 256.85H160.50L158.90 254.35Z" fill="#c84418"/>
<line x1="167.00" y1="186.45" x2="167.00" y2="256.55" stroke="#c84418" stroke-width="1.25" stroke-dasharray="4,1.7,1,1.8"/>
<path d="M165.40 186.15H168.60L167.00 188.65Z" fill="#c84418"/>
<path d="M165.40 256.85H168.60L167.00 254.35Z" fill="#c84418"/>
<line x1="175.10" y1="186.45" x2="175.10" y2="256.55" stroke="#c84418" stroke-width="1.25" stroke-dasharray="4,1.7,1,1.8"/>
<path d="M173.50 186.15H176.70L175.10 188.65Z" fill="#c84418"/>
<path d="M173.50 256.85H176.70L175.10 254.35Z" fill="#c84418"/>
<line x1="183.20" y1="186.45" x2="183.20" y2="256.55" stroke="#c84418" stroke-width="1.25" stroke-dasharray="4,1.7,1,1.8"/>
<path d="M181.60 186.15H184.80L183.20 188.65Z" fill="#c84418"/>
<path d="M181.60 256.85H184.80L183.20 254.35Z" fill="#c84418"/>
<line x1="191.30" y1="186.45" x2="191.30" y2="256.55" stroke="#c84418" stroke-width="1.25" stroke-dasharray="4,1.7,1,1.8"/>
<path d="M189.70 186.15H192.90L191.30 188.65Z" fill="#c84418"/>
<path d="M189.70 256.85H192.90L191.30 254.35Z" fill="#c84418"/>
<line x1="199.40" y1="186.45" x2="199.40" y2="256.55" stroke="#c84418" stroke-width="1.25" stroke-dasharray="4,1.7,1,1.8"/>
<path d="M197.80 186.15H201.00L199.40 188.65Z" fill="#c84418"/>
<path d="M197.80 256.85H201.00L199.40 254.35Z" fill="#c84418"/>
<line x1="207.50" y1="186.45" x2="207.50" y2="256.55" stroke="#c84418" stroke-width="1.25" stroke-dasharray="4,1.7,1,1.8"/>
<path d="M205.90 186.15H209.10L207.50 188.65Z" fill="#c84418"/>
<path d="M205.90 256.85H209.10L207.50 254.35Z" fill="#c84418"/>
<line x1="215.60" y1="186.45" x2="215.60" y2="256.55" stroke="#c84418" stroke-width="1.25" stroke-dasharray="4,1.7,1,1.8"/>
<path d="M214.00 186.15H217.20L215.60 188.65Z" fill="#c84418"/>
<path d="M214.00 256.85H217.20L215.60 254.35Z" fill="#c84418"/>
<line x1="223.70" y1="186.45" x2="223.70" y2="256.55" stroke="#c84418" stroke-width="1.25" stroke-dasharray="4,1.7,1,1.8"/>
<path d="M222.10 186.15H225.30L223.70 188.65Z" fill="#c84418"/>
<path d="M222.10 256.85H225.30L223.70 254.35Z" fill="#c84418"/>
<line x1="231.80" y1="186.45" x2="231.80" y2="256.55" stroke="#c84418" stroke-width="1.25" stroke-dasharray="4,1.7,1,1.8"/>
<path d="M230.20 186.15H233.40L231.80 188.65Z" fill="#c84418"/>
<path d="M230.20 256.85H233.40L231.80 254.35Z" fill="#c84418"/>
<line x1="239.90" y1="186.45" x2="239.90" y2="256.55" stroke="#c84418" stroke-width="1.25" stroke-dasharray="4,1.7,1,1.8"/>
<path d="M238.30 186.15H241.50L239.90 188.65Z" fill="#c84418"/>
<path d="M238.30 256.85H241.50L239.90 254.35Z" fill="#c84418"/>
<line x1="248.00" y1="186.45" x2="248.00" y2="256.55" stroke="#c84418" stroke-width="1.25" stroke-dasharray="4,1.7,1,1.8"/>
<path d="M246.40 186.15H249.60L248.00 188.65Z" fill="#c84418"/>
<path d="M246.40 256.85H249.60L248.00 254.35Z" fill="#c84418"/>
<line x1="256.10" y1="186.45" x2="256.10" y2="256.55" stroke="#c84418" stroke-width="1.25" stroke-dasharray="4,1.7,1,1.8"/>
<path d="M254.50 186.15H257.70L256.10 188.65Z" fill="#c84418"/>
<path d="M254.50 256.85H257.70L256.10 254.35Z" fill="#c84418"/>
<line x1="264.20" y1="186.45" x2="264.20" y2="256.55" stroke="#c84418" stroke-width="1.25" stroke-dasharray="4,1.7,1,1.8"/>
<path d="M262.60 186.15H265.80L264.20 188.65Z" fill="#c84418"/>
<path d="M262.60 256.85H265.80L264.20 254.35Z" fill="#c84418"/>
<line x1="272.30" y1="186.45" x2="272.30" y2="256.55" stroke="#c84418" stroke-width="1.25" stroke-dasharray="4,1.7,1,1.8"/>
<path d="M270.70 186.15H273.90L272.30 188.65Z" fill="#c84418"/>
<path d="M270.70 256.85H273.90L272.30 254.35Z" fill="#c84418"/>
<line x1="280.40" y1="186.45" x2="280.40" y2="256.55" stroke="#c84418" stroke-width="1.25" stroke-dasharray="4,1.7,1,1.8"/>
<path d="M278.80 186.15H282.00L280.40 188.65Z" fill="#c84418"/>
<path d="M278.80 256.85H282.00L280.40 254.35Z" fill="#c84418"/>
<line x1="288.50" y1="186.45" x2="288.50" y2="256.55" stroke="#c84418" stroke-width="1.25" stroke-dasharray="4,1.7,1,1.8"/>
<path d="M286.90 186.15H290.10L288.50 188.65Z" fill="#c84418"/>
<path d="M286.90 256.85H290.10L288.50 254.35Z" fill="#c84418"/>
<line x1="296.60" y1="186.45" x2="296.60" y2="256.55" stroke="#c84418" stroke-width="1.25" stroke-dasharray="4,1.7,1,1.8"/>
<path d="M295.00 186.15H298.20L296.60 188.65Z" fill="#c84418"/>
<path d="M295.00 256.85H298.20L296.60 254.35Z" fill="#c84418"/>
<line x1="304.70" y1="186.45" x2="304.70" y2="256.55" stroke="#c84418" stroke-width="1.25" stroke-dasharray="4,1.7,1,1.8"/>
<path d="M303.10 186.15H306.30L304.70 188.65Z" fill="#c84418"/>
<path d="M303.10 256.85H306.30L304.70 254.35Z" fill="#c84418"/>
<line x1="312.80" y1="186.45" x2="312.80" y2="256.55" stroke="#c84418" stroke-width="1.25" stroke-dasharray="4,1.7,1,1.8"/>
<path d="M311.20 186.15H314.40L312.80 188.65Z" fill="#c84418"/>
<path d="M311.20 256.85H314.40L312.80 254.35Z" fill="#c84418"/>
<line x1="320.90" y1="186.45" x2="320.90" y2="256.55" stroke="#c84418" stroke-width="1.25" stroke-dasharray="4,1.7,1,1.8"/>
<path d="M319.30 186.15H322.50L320.90 188.65Z" fill="#c84418"/>
<path d="M319.30 256.85H322.50L320.90 254.35Z" fill="#c84418"/>
<line x1="329.00" y1="186.45" x2="329.00" y2="256.55" stroke="#c84418" stroke-width="1.25" stroke-dasharray="4,1.7,1,1.8"/>
<path d="M327.40 186.15H330.60L329.00 188.65Z" fill="#c84418"/>
<path d="M327.40 256.85H330.60L329.00 254.35Z" fill="#c84418"/>
<line x1="337.10" y1="186.45" x2="337.10" y2="256.55" stroke="#c84418" stroke-width="1.25" stroke-dasharray="4,1.7,1,1.8"/>
<path d="M335.50 186.15H338.70L337.10 188.65Z" fill="#c84418"/>
<path d="M335.50 256.85H338.70L337.10 254.35Z" fill="#c84418"/>
<line x1="345.20" y1="186.45" x2="345.20" y2="256.55" stroke="#c84418" stroke-width="1.25" stroke-dasharray="4,1.7,1,1.8"/>
<path d="M343.60 186.15H346.80L345.20 188.65Z" fill="#c84418"/>
<path d="M343.60 256.85H346.80L345.20 254.35Z" fill="#c84418"/>
<line x1="353.30" y1="186.45" x2="353.30" y2="256.55" stroke="#c84418" stroke-width="1.25" stroke-dasharray="4,1.7,1,1.8"/>
<path d="M351.70 186.15H354.90L353.30 188.65Z" fill="#c84418"/>
<path d="M351.70 256.85H354.90L353.30 254.35Z" fill="#c84418"/>
<line x1="361.40" y1="186.45" x2="361.40" y2="256.55" stroke="#c84418" stroke-width="1.25" stroke-dasharray="4,1.7,1,1.8"/>
<path d="M359.80 186.15H363.00L361.40 188.65Z" fill="#c84418"/>
<path d="M359.80 256.85H363.00L361.40 254.35Z" fill="#c84418"/>
<polyline points="102.20 285.50 110.30 285.50 118.40 285.50 126.50 285.50 134.60 253.50 142.70 253.50 150.80 221.50 158.90 221.50 167.00 221.50 175.10 221.50 183.20 221.50 191.30 221.50 199.40 221.50 207.50 221.50 215.60 221.50 223.70 221.50 231.80 221.50 239.90 221.50 248.00 221.50 256.10 221.50 264.20 221.50 272.30 221.50 280.40 221.50 288.50 221.50 296.60 221.50 304.70 221.50 312.80 221.50 320.90 221.50 329.00 221.50 337.10 221.50 345.20 221.50 353.30 221.50 361.40 221.50" fill="none" stroke="#c84418" stroke-width="1.2" stroke-dasharray="4,1.7,1,1.8"/>
<rect x="100.00" y="283.20" width="4.4" height="4.6" fill="none" stroke="#c84418" stroke-width="1.0"/>
<rect x="108.10" y="283.20" width="4.4" height="4.6" fill="none" stroke="#c84418" stroke-width="1.0"/>
<rect x="116.20" y="283.20" width="4.4" height="4.6" fill="none" stroke="#c84418" stroke-width="1.0"/>
<rect x="124.30" y="283.20" width="4.4" height="4.6" fill="none" stroke="#c84418" stroke-width="1.0"/>
<rect x="132.40" y="251.20" width="4.4" height="4.6" fill="none" stroke="#c84418" stroke-width="1.0"/>
<rect x="140.50" y="251.20" width="4.4" height="4.6" fill="none" stroke="#c84418" stroke-width="1.0"/>
<rect x="148.60" y="219.20" width="4.4" height="4.6" fill="none" stroke="#c84418" stroke-width="1.0"/>
<rect x="156.70" y="219.20" width="4.4" height="4.6" fill="none" stroke="#c84418" stroke-width="1.0"/>
<rect x="164.80" y="219.20" width="4.4" height="4.6" fill="none" stroke="#c84418" stroke-width="1.0"/>
<rect x="172.90" y="219.20" width="4.4" height="4.6" fill="none" stroke="#c84418" stroke-width="1.0"/>
<rect x="181.00" y="219.20" width="4.4" height="4.6" fill="none" stroke="#c84418" stroke-width="1.0"/>
<rect x="189.10" y="219.20" width="4.4" height="4.6" fill="none" stroke="#c84418" stroke-width="1.0"/>
<rect x="197.20" y="219.20" width="4.4" height="4.6" fill="none" stroke="#c84418" stroke-width="1.0"/>
<rect x="205.30" y="219.20" width="4.4" height="4.6" fill="none" stroke="#c84418" stroke-width="1.0"/>
<rect x="213.40" y="219.20" width="4.4" height="4.6" fill="none" stroke="#c84418" stroke-width="1.0"/>
<rect x="221.50" y="219.20" width="4.4" height="4.6" fill="none" stroke="#c84418" stroke-width="1.0"/>
<rect x="229.60" y="219.20" width="4.4" height="4.6" fill="none" stroke="#c84418" stroke-width="1.0"/>
<rect x="237.70" y="219.20" width="4.4" height="4.6" fill="none" stroke="#c84418" stroke-width="1.0"/>
<rect x="245.80" y="219.20" width="4.4" height="4.6" fill="none" stroke="#c84418" stroke-width="1.0"/>
<rect x="253.90" y="219.20" width="4.4" height="4.6" fill="none" stroke="#c84418" stroke-width="1.0"/>
<rect x="262.00" y="219.20" width="4.4" height="4.6" fill="none" stroke="#c84418" stroke-width="1.0"/>
<rect x="270.10" y="219.20" width="4.4" height="4.6" fill="none" stroke="#c84418" stroke-width="1.0"/>
<rect x="278.20" y="219.20" width="4.4" height="4.6" fill="none" stroke="#c84418" stroke-width="1.0"/>
<rect x="286.30" y="219.20" width="4.4" height="4.6" fill="none" stroke="#c84418" stroke-width="1.0"/>
<rect x="294.40" y="219.20" width="4.4" height="4.6" fill="none" stroke="#c84418" stroke-width="1.0"/>
<rect x="302.50" y="219.20" width="4.4" height="4.6" fill="none" stroke="#c84418" stroke-width="1.0"/>
<rect x="310.60" y="219.20" width="4.4" height="4.6" fill="none" stroke="#c84418" stroke-width="1.0"/>
<rect x="318.70" y="219.20" width="4.4" height="4.6" fill="none" stroke="#c84418" stroke-width="1.0"/>
<rect x="326.80" y="219.20" width="4.4" height="4.6" fill="none" stroke="#c84418" stroke-width="1.0"/>
<rect x="334.90" y="219.20" width="4.4" height="4.6" fill="none" stroke="#c84418" stroke-width="1.0"/>
<rect x="343.00" y="219.20" width="4.4" height="4.6" fill="none" stroke="#c84418" stroke-width="1.0"/>
<rect x="351.10" y="219.20" width="4.4" height="4.6" fill="none" stroke="#c84418" stroke-width="1.0"/>
<rect x="359.20" y="219.20" width="4.4" height="4.6" fill="none" stroke="#c84418" stroke-width="1.0"/>
<line x1="94.10" y1="295.06" x2="94.10" y2="317.08" stroke="#aa5c12" stroke-width="1.25"/>
<path d="M92.50 294.76H95.70L94.10 297.26Z" fill="#aa5c12"/>
<path d="M92.50 317.38H95.70L94.10 314.88Z" fill="#aa5c12"/>
<line x1="102.20" y1="295.06" x2="102.20" y2="317.08" stroke="#aa5c12" stroke-width="1.25"/>
<path d="M100.60 294.76H103.80L102.20 297.26Z" fill="#aa5c12"/>
<path d="M100.60 317.38H103.80L102.20 314.88Z" fill="#aa5c12"/>
<line x1="110.30" y1="295.06" x2="110.30" y2="317.08" stroke="#aa5c12" stroke-width="1.25"/>
<path d="M108.70 294.76H111.90L110.30 297.26Z" fill="#aa5c12"/>
<path d="M108.70 317.38H111.90L110.30 314.88Z" fill="#aa5c12"/>
<line x1="118.40" y1="295.06" x2="118.40" y2="317.08" stroke="#aa5c12" stroke-width="1.25"/>
<path d="M116.80 294.76H120.00L118.40 297.26Z" fill="#aa5c12"/>
<path d="M116.80 317.38H120.00L118.40 314.88Z" fill="#aa5c12"/>
<line x1="126.50" y1="295.06" x2="126.50" y2="317.08" stroke="#aa5c12" stroke-width="1.25"/>
<path d="M124.90 294.76H128.10L126.50 297.26Z" fill="#aa5c12"/>
<path d="M124.90 317.38H128.10L126.50 314.88Z" fill="#aa5c12"/>
<line x1="134.60" y1="252.47" x2="134.60" y2="291.10" stroke="#aa5c12" stroke-width="1.25"/>
<path d="M133.00 252.17H136.20L134.60 254.67Z" fill="#aa5c12"/>
<path d="M133.00 291.40H136.20L134.60 288.90Z" fill="#aa5c12"/>
<line x1="142.70" y1="239.87" x2="142.70" y2="280.85" stroke="#aa5c12" stroke-width="1.25"/>
<path d="M141.10 239.57H144.30L142.70 242.07Z" fill="#aa5c12"/>
<path d="M141.10 281.15H144.30L142.70 278.65Z" fill="#aa5c12"/>
<line x1="150.80" y1="227.77" x2="150.80" y2="270.09" stroke="#aa5c12" stroke-width="1.25"/>
<path d="M149.20 227.47H152.40L150.80 229.97Z" fill="#aa5c12"/>
<path d="M149.20 270.39H152.40L150.80 267.89Z" fill="#aa5c12"/>
<line x1="158.90" y1="227.77" x2="158.90" y2="270.09" stroke="#aa5c12" stroke-width="1.25"/>
<path d="M157.30 227.47H160.50L158.90 229.97Z" fill="#aa5c12"/>
<path d="M157.30 270.39H160.50L158.90 267.89Z" fill="#aa5c12"/>
<line x1="167.00" y1="227.77" x2="167.00" y2="270.09" stroke="#aa5c12" stroke-width="1.25"/>
<path d="M165.40 227.47H168.60L167.00 229.97Z" fill="#aa5c12"/>
<path d="M165.40 270.39H168.60L167.00 267.89Z" fill="#aa5c12"/>
<line x1="175.10" y1="227.77" x2="175.10" y2="270.09" stroke="#aa5c12" stroke-width="1.25"/>
<path d="M173.50 227.47H176.70L175.10 229.97Z" fill="#aa5c12"/>
<path d="M173.50 270.39H176.70L175.10 267.89Z" fill="#aa5c12"/>
<line x1="183.20" y1="227.77" x2="183.20" y2="270.09" stroke="#aa5c12" stroke-width="1.25"/>
<path d="M181.60 227.47H184.80L183.20 229.97Z" fill="#aa5c12"/>
<path d="M181.60 270.39H184.80L183.20 267.89Z" fill="#aa5c12"/>
<line x1="191.30" y1="227.77" x2="191.30" y2="270.09" stroke="#aa5c12" stroke-width="1.25"/>
<path d="M189.70 227.47H192.90L191.30 229.97Z" fill="#aa5c12"/>
<path d="M189.70 270.39H192.90L191.30 267.89Z" fill="#aa5c12"/>
<line x1="199.40" y1="227.77" x2="199.40" y2="270.09" stroke="#aa5c12" stroke-width="1.25"/>
<path d="M197.80 227.47H201.00L199.40 229.97Z" fill="#aa5c12"/>
<path d="M197.80 270.39H201.00L199.40 267.89Z" fill="#aa5c12"/>
<line x1="207.50" y1="227.77" x2="207.50" y2="270.09" stroke="#aa5c12" stroke-width="1.25"/>
<path d="M205.90 227.47H209.10L207.50 229.97Z" fill="#aa5c12"/>
<path d="M205.90 270.39H209.10L207.50 267.89Z" fill="#aa5c12"/>
<line x1="215.60" y1="216.12" x2="215.60" y2="258.88" stroke="#aa5c12" stroke-width="1.25"/>
<path d="M214.00 215.82H217.20L215.60 218.32Z" fill="#aa5c12"/>
<path d="M214.00 259.18H217.20L215.60 256.68Z" fill="#aa5c12"/>
<line x1="223.70" y1="216.12" x2="223.70" y2="258.88" stroke="#aa5c12" stroke-width="1.25"/>
<path d="M222.10 215.82H225.30L223.70 218.32Z" fill="#aa5c12"/>
<path d="M222.10 259.18H225.30L223.70 256.68Z" fill="#aa5c12"/>
<line x1="231.80" y1="204.91" x2="231.80" y2="247.23" stroke="#aa5c12" stroke-width="1.25"/>
<path d="M230.20 204.61H233.40L231.80 207.11Z" fill="#aa5c12"/>
<path d="M230.20 247.53H233.40L231.80 245.03Z" fill="#aa5c12"/>
<line x1="239.90" y1="204.91" x2="239.90" y2="247.23" stroke="#aa5c12" stroke-width="1.25"/>
<path d="M238.30 204.61H241.50L239.90 207.11Z" fill="#aa5c12"/>
<path d="M238.30 247.53H241.50L239.90 245.03Z" fill="#aa5c12"/>
<line x1="248.00" y1="204.91" x2="248.00" y2="247.23" stroke="#aa5c12" stroke-width="1.25"/>
<path d="M246.40 204.61H249.60L248.00 207.11Z" fill="#aa5c12"/>
<path d="M246.40 247.53H249.60L248.00 245.03Z" fill="#aa5c12"/>
<line x1="256.10" y1="204.91" x2="256.10" y2="247.23" stroke="#aa5c12" stroke-width="1.25"/>
<path d="M254.50 204.61H257.70L256.10 207.11Z" fill="#aa5c12"/>
<path d="M254.50 247.53H257.70L256.10 245.03Z" fill="#aa5c12"/>
<line x1="264.20" y1="204.91" x2="264.20" y2="247.23" stroke="#aa5c12" stroke-width="1.25"/>
<path d="M262.60 204.61H265.80L264.20 207.11Z" fill="#aa5c12"/>
<path d="M262.60 247.53H265.80L264.20 245.03Z" fill="#aa5c12"/>
<line x1="272.30" y1="204.91" x2="272.30" y2="247.23" stroke="#aa5c12" stroke-width="1.25"/>
<path d="M270.70 204.61H273.90L272.30 207.11Z" fill="#aa5c12"/>
<path d="M270.70 247.53H273.90L272.30 245.03Z" fill="#aa5c12"/>
<line x1="280.40" y1="204.91" x2="280.40" y2="247.23" stroke="#aa5c12" stroke-width="1.25"/>
<path d="M278.80 204.61H282.00L280.40 207.11Z" fill="#aa5c12"/>
<path d="M278.80 247.53H282.00L280.40 245.03Z" fill="#aa5c12"/>
<line x1="288.50" y1="204.91" x2="288.50" y2="247.23" stroke="#aa5c12" stroke-width="1.25"/>
<path d="M286.90 204.61H290.10L288.50 207.11Z" fill="#aa5c12"/>
<path d="M286.90 247.53H290.10L288.50 245.03Z" fill="#aa5c12"/>
<line x1="296.60" y1="204.91" x2="296.60" y2="247.23" stroke="#aa5c12" stroke-width="1.25"/>
<path d="M295.00 204.61H298.20L296.60 207.11Z" fill="#aa5c12"/>
<path d="M295.00 247.53H298.20L296.60 245.03Z" fill="#aa5c12"/>
<line x1="304.70" y1="204.91" x2="304.70" y2="247.23" stroke="#aa5c12" stroke-width="1.25"/>
<path d="M303.10 204.61H306.30L304.70 207.11Z" fill="#aa5c12"/>
<path d="M303.10 247.53H306.30L304.70 245.03Z" fill="#aa5c12"/>
<line x1="312.80" y1="204.91" x2="312.80" y2="247.23" stroke="#aa5c12" stroke-width="1.25"/>
<path d="M311.20 204.61H314.40L312.80 207.11Z" fill="#aa5c12"/>
<path d="M311.20 247.53H314.40L312.80 245.03Z" fill="#aa5c12"/>
<line x1="320.90" y1="204.91" x2="320.90" y2="247.23" stroke="#aa5c12" stroke-width="1.25"/>
<path d="M319.30 204.61H322.50L320.90 207.11Z" fill="#aa5c12"/>
<path d="M319.30 247.53H322.50L320.90 245.03Z" fill="#aa5c12"/>
<line x1="329.00" y1="204.91" x2="329.00" y2="247.23" stroke="#aa5c12" stroke-width="1.25"/>
<path d="M327.40 204.61H330.60L329.00 207.11Z" fill="#aa5c12"/>
<path d="M327.40 247.53H330.60L329.00 245.03Z" fill="#aa5c12"/>
<line x1="337.10" y1="204.91" x2="337.10" y2="247.23" stroke="#aa5c12" stroke-width="1.25"/>
<path d="M335.50 204.61H338.70L337.10 207.11Z" fill="#aa5c12"/>
<path d="M335.50 247.53H338.70L337.10 245.03Z" fill="#aa5c12"/>
<line x1="345.20" y1="204.91" x2="345.20" y2="247.23" stroke="#aa5c12" stroke-width="1.25"/>
<path d="M343.60 204.61H346.80L345.20 207.11Z" fill="#aa5c12"/>
<path d="M343.60 247.53H346.80L345.20 245.03Z" fill="#aa5c12"/>
<line x1="353.30" y1="204.91" x2="353.30" y2="247.23" stroke="#aa5c12" stroke-width="1.25"/>
<path d="M351.70 204.61H354.90L353.30 207.11Z" fill="#aa5c12"/>
<path d="M351.70 247.53H354.90L353.30 245.03Z" fill="#aa5c12"/>
<line x1="361.40" y1="204.91" x2="361.40" y2="247.23" stroke="#aa5c12" stroke-width="1.25"/>
<path d="M359.80 204.61H363.00L361.40 207.11Z" fill="#aa5c12"/>
<path d="M359.80 247.53H363.00L361.40 245.03Z" fill="#aa5c12"/>
<polyline points="94.10 306.07 102.20 306.07 110.30 306.07 118.40 306.07 126.50 306.07 134.60 271.79 142.70 260.36 150.80 248.93 158.90 248.93 167.00 248.93 175.10 248.93 183.20 248.93 191.30 248.93 199.40 248.93 207.50 248.93 215.60 237.50 223.70 237.50 231.80 226.07 239.90 226.07 248.00 226.07 256.10 226.07 264.20 226.07 272.30 226.07 280.40 226.07 288.50 226.07 296.60 226.07 304.70 226.07 312.80 226.07 320.90 226.07 329.00 226.07 337.10 226.07 345.20 226.07 353.30 226.07 361.40 226.07" fill="none" stroke="#aa5c12" stroke-width="1.3"/>
<path d="M94.10 303.37L94.78 305.14L96.67 305.24L95.19 306.43L95.69 308.26L94.10 307.22L92.51 308.26L93.01 306.43L91.53 305.24L93.42 305.14Z" fill="#aa5c12"/>
<path d="M102.20 303.37L102.88 305.14L104.77 305.24L103.29 306.43L103.79 308.26L102.20 307.22L100.61 308.26L101.11 306.43L99.63 305.24L101.52 305.14Z" fill="#aa5c12"/>
<path d="M110.30 303.37L110.98 305.14L112.87 305.24L111.39 306.43L111.89 308.26L110.30 307.22L108.71 308.26L109.21 306.43L107.73 305.24L109.62 305.14Z" fill="#aa5c12"/>
<path d="M118.40 303.37L119.08 305.14L120.97 305.24L119.49 306.43L119.99 308.26L118.40 307.22L116.81 308.26L117.31 306.43L115.83 305.24L117.72 305.14Z" fill="#aa5c12"/>
<path d="M126.50 303.37L127.18 305.14L129.07 305.24L127.59 306.43L128.09 308.26L126.50 307.22L124.91 308.26L125.41 306.43L123.93 305.24L125.82 305.14Z" fill="#aa5c12"/>
<path d="M134.60 269.09L135.28 270.86L137.17 270.95L135.69 272.14L136.19 273.97L134.60 272.94L133.01 273.97L133.51 272.14L132.03 270.95L133.92 270.86Z" fill="#aa5c12"/>
<path d="M142.70 257.66L143.38 259.43L145.27 259.52L143.79 260.71L144.29 262.54L142.70 261.51L141.11 262.54L141.61 260.71L140.13 259.52L142.02 259.43Z" fill="#aa5c12"/>
<path d="M150.80 246.23L151.48 248.00L153.37 248.09L151.89 249.28L152.39 251.11L150.80 250.08L149.21 251.11L149.71 249.28L148.23 248.09L150.12 248.00Z" fill="#aa5c12"/>
<path d="M158.90 246.23L159.58 248.00L161.47 248.09L159.99 249.28L160.49 251.11L158.90 250.08L157.31 251.11L157.81 249.28L156.33 248.09L158.22 248.00Z" fill="#aa5c12"/>
<path d="M167.00 246.23L167.68 248.00L169.57 248.09L168.09 249.28L168.59 251.11L167.00 250.08L165.41 251.11L165.91 249.28L164.43 248.09L166.32 248.00Z" fill="#aa5c12"/>
<path d="M175.10 246.23L175.78 248.00L177.67 248.09L176.19 249.28L176.69 251.11L175.10 250.08L173.51 251.11L174.01 249.28L172.53 248.09L174.42 248.00Z" fill="#aa5c12"/>
<path d="M183.20 246.23L183.88 248.00L185.77 248.09L184.29 249.28L184.79 251.11L183.20 250.08L181.61 251.11L182.11 249.28L180.63 248.09L182.52 248.00Z" fill="#aa5c12"/>
<path d="M191.30 246.23L191.98 248.00L193.87 248.09L192.39 249.28L192.89 251.11L191.30 250.08L189.71 251.11L190.21 249.28L188.73 248.09L190.62 248.00Z" fill="#aa5c12"/>
<path d="M199.40 246.23L200.08 248.00L201.97 248.09L200.49 249.28L200.99 251.11L199.40 250.08L197.81 251.11L198.31 249.28L196.83 248.09L198.72 248.00Z" fill="#aa5c12"/>
<path d="M207.50 246.23L208.18 248.00L210.07 248.09L208.59 249.28L209.09 251.11L207.50 250.08L205.91 251.11L206.41 249.28L204.93 248.09L206.82 248.00Z" fill="#aa5c12"/>
<path d="M215.60 234.80L216.28 236.57L218.17 236.67L216.69 237.86L217.19 239.68L215.60 238.65L214.01 239.68L214.51 237.86L213.03 236.67L214.92 236.57Z" fill="#aa5c12"/>
<path d="M223.70 234.80L224.38 236.57L226.27 236.67L224.79 237.86L225.29 239.68L223.70 238.65L222.11 239.68L222.61 237.86L221.13 236.67L223.02 236.57Z" fill="#aa5c12"/>
<path d="M231.80 223.37L232.48 225.14L234.37 225.24L232.89 226.43L233.39 228.26L231.80 227.22L230.21 228.26L230.71 226.43L229.23 225.24L231.12 225.14Z" fill="#aa5c12"/>
<path d="M239.90 223.37L240.58 225.14L242.47 225.24L240.99 226.43L241.49 228.26L239.90 227.22L238.31 228.26L238.81 226.43L237.33 225.24L239.22 225.14Z" fill="#aa5c12"/>
<path d="M248.00 223.37L248.68 225.14L250.57 225.24L249.09 226.43L249.59 228.26L248.00 227.22L246.41 228.26L246.91 226.43L245.43 225.24L247.32 225.14Z" fill="#aa5c12"/>
<path d="M256.10 223.37L256.78 225.14L258.67 225.24L257.19 226.43L257.69 228.26L256.10 227.22L254.51 228.26L255.01 226.43L253.53 225.24L255.42 225.14Z" fill="#aa5c12"/>
<path d="M264.20 223.37L264.88 225.14L266.77 225.24L265.29 226.43L265.79 228.26L264.20 227.22L262.61 228.26L263.11 226.43L261.63 225.24L263.52 225.14Z" fill="#aa5c12"/>
<path d="M272.30 223.37L272.98 225.14L274.87 225.24L273.39 226.43L273.89 228.26L272.30 227.22L270.71 228.26L271.21 226.43L269.73 225.24L271.62 225.14Z" fill="#aa5c12"/>
<path d="M280.40 223.37L281.08 225.14L282.97 225.24L281.49 226.43L281.99 228.26L280.40 227.22L278.81 228.26L279.31 226.43L277.83 225.24L279.72 225.14Z" fill="#aa5c12"/>
<path d="M288.50 223.37L289.18 225.14L291.07 225.24L289.59 226.43L290.09 228.26L288.50 227.22L286.91 228.26L287.41 226.43L285.93 225.24L287.82 225.14Z" fill="#aa5c12"/>
<path d="M296.60 223.37L297.28 225.14L299.17 225.24L297.69 226.43L298.19 228.26L296.60 227.22L295.01 228.26L295.51 226.43L294.03 225.24L295.92 225.14Z" fill="#aa5c12"/>
<path d="M304.70 223.37L305.38 225.14L307.27 225.24L305.79 226.43L306.29 228.26L304.70 227.22L303.11 228.26L303.61 226.43L302.13 225.24L304.02 225.14Z" fill="#aa5c12"/>
<path d="M312.80 223.37L313.48 225.14L315.37 225.24L313.89 226.43L314.39 228.26L312.80 227.22L311.21 228.26L311.71 226.43L310.23 225.24L312.12 225.14Z" fill="#aa5c12"/>
<path d="M320.90 223.37L321.58 225.14L323.47 225.24L321.99 226.43L322.49 228.26L320.90 227.22L319.31 228.26L319.81 226.43L318.33 225.24L320.22 225.14Z" fill="#aa5c12"/>
<path d="M329.00 223.37L329.68 225.14L331.57 225.24L330.09 226.43L330.59 228.26L329.00 227.22L327.41 228.26L327.91 226.43L326.43 225.24L328.32 225.14Z" fill="#aa5c12"/>
<path d="M337.10 223.37L337.78 225.14L339.67 225.24L338.19 226.43L338.69 228.26L337.10 227.22L335.51 228.26L336.01 226.43L334.53 225.24L336.42 225.14Z" fill="#aa5c12"/>
<path d="M345.20 223.37L345.88 225.14L347.77 225.24L346.29 226.43L346.79 228.26L345.20 227.22L343.61 228.26L344.11 226.43L342.63 225.24L344.52 225.14Z" fill="#aa5c12"/>
<path d="M353.30 223.37L353.98 225.14L355.87 225.24L354.39 226.43L354.89 228.26L353.30 227.22L351.71 228.26L352.21 226.43L350.73 225.24L352.62 225.14Z" fill="#aa5c12"/>
<path d="M361.40 223.37L362.08 225.14L363.97 225.24L362.49 226.43L362.99 228.26L361.40 227.22L359.81 228.26L360.31 226.43L358.83 225.24L360.72 225.14Z" fill="#aa5c12"/>
</g>
<g clip-path="url(#cbot)">
<path d="M73.12 365.06 L81.95 365.06 L81.95 370.01 L90.05 370.01 L90.05 374.59 L98.15 374.59 L98.15 376.29 L106.25 376.29 L106.25 378.02 L114.35 378.02 L114.35 379.21 L122.45 379.21 L122.45 380.03 L130.55 380.03 L130.55 380.86 L138.65 380.86 L138.65 381.37 L146.75 381.37 L146.75 381.70 L154.85 381.70 L154.85 381.90 L162.95 381.90 L162.95 382.11 L171.05 382.11 L171.05 382.31 L179.15 382.31 L179.15 382.53 L187.25 382.53 L187.25 382.76 L195.35 382.76 L195.35 382.98 L203.45 382.98 L203.45 383.20 L211.55 383.20 L211.55 383.43 L219.65 383.43 L219.65 383.65 L227.75 383.65 L227.75 383.83 L235.85 383.83 L235.85 383.93 L243.95 383.93 L243.95 384.03 L252.05 384.03 L252.05 384.13 L260.15 384.13 L260.15 384.23 L268.25 384.23 L268.25 384.33 L276.35 384.33 L276.35 384.43 L284.45 384.43 L284.45 384.53 L292.55 384.53 L292.55 384.64 L300.65 384.64 L300.65 384.74 L308.75 384.74 L308.75 384.84 L316.85 384.84 L316.85 384.94 L324.95 384.94 L324.95 385.04 L333.05 385.04 L333.05 385.14 L341.15 385.14 L341.15 385.24 L349.25 385.24 L349.25 385.35 L357.35 385.35 L357.35 385.45 L365.94 385.45 L365.94 411.49 L357.35 411.49 L357.35 411.62 L349.25 411.62 L349.25 411.76 L341.15 411.76 L341.15 411.90 L333.05 411.90 L333.05 412.04 L324.95 412.04 L324.95 412.18 L316.85 412.18 L316.85 412.31 L308.75 412.31 L308.75 412.45 L300.65 412.45 L300.65 412.59 L292.55 412.59 L292.55 412.73 L284.45 412.73 L284.45 412.87 L276.35 412.87 L276.35 413.01 L268.25 413.01 L268.25 413.15 L260.15 413.15 L260.15 413.29 L252.05 413.29 L252.05 413.43 L243.95 413.43 L243.95 413.57 L235.85 413.57 L235.85 413.71 L227.75 413.71 L227.75 413.96 L219.65 413.96 L219.65 414.28 L211.55 414.28 L211.55 414.60 L203.45 414.60 L203.45 414.93 L195.35 414.93 L195.35 415.25 L187.25 415.25 L187.25 415.57 L179.15 415.57 L179.15 415.90 L171.05 415.90 L171.05 416.20 L162.95 416.20 L162.95 416.50 L154.85 416.50 L154.85 416.80 L146.75 416.80 L146.75 417.30 L138.65 417.30 L138.65 418.08 L130.55 418.08 L130.55 419.37 L122.45 419.37 L122.45 420.67 L114.35 420.67 L114.35 422.62 L106.25 422.62 L106.25 425.58 L98.15 425.58 L98.15 428.64 L90.05 428.64 L90.05 437.84 L81.95 437.84 L81.95 449.70 L73.12 449.70Z" fill="#ffff99"/>
<path d="M73.12 380.50 L81.95 380.50 L81.95 382.31 L90.05 382.31 L90.05 384.54 L98.15 384.54 L98.15 385.30 L106.25 385.30 L106.25 386.06 L114.35 386.06 L114.35 386.83 L122.45 386.83 L122.45 387.06 L130.55 387.06 L130.55 387.28 L138.65 387.28 L138.65 387.51 L146.75 387.51 L146.75 388.11 L154.85 388.11 L154.85 388.95 L162.95 388.95 L162.95 389.80 L171.05 389.80 L171.05 390.00 L179.15 390.00 L179.15 390.03 L187.25 390.03 L187.25 390.07 L195.35 390.07 L195.35 390.10 L203.45 390.10 L203.45 390.13 L211.55 390.13 L211.55 390.16 L219.65 390.16 L219.65 390.20 L227.75 390.20 L227.75 390.24 L235.85 390.24 L235.85 390.28 L243.95 390.28 L243.95 390.33 L252.05 390.33 L252.05 390.38 L260.15 390.38 L260.15 390.43 L268.25 390.43 L268.25 390.48 L276.35 390.48 L276.35 390.53 L284.45 390.53 L284.45 390.58 L292.55 390.58 L292.55 390.63 L300.65 390.63 L300.65 390.68 L308.75 390.68 L308.75 390.73 L316.85 390.73 L316.85 390.78 L324.95 390.78 L324.95 390.83 L333.05 390.83 L333.05 390.87 L341.15 390.87 L341.15 390.92 L349.25 390.92 L349.25 390.97 L357.35 390.97 L357.35 391.02 L365.94 391.02 L365.94 404.50 L357.35 404.50 L357.35 404.55 L349.25 404.55 L349.25 404.61 L341.15 404.61 L341.15 404.67 L333.05 404.67 L333.05 404.73 L324.95 404.73 L324.95 404.79 L316.85 404.79 L316.85 404.84 L308.75 404.84 L308.75 404.90 L300.65 404.90 L300.65 404.96 L292.55 404.96 L292.55 405.02 L284.45 405.02 L284.45 405.08 L276.35 405.08 L276.35 405.13 L268.25 405.13 L268.25 405.19 L260.15 405.19 L260.15 405.25 L252.05 405.25 L252.05 405.31 L243.95 405.31 L243.95 405.37 L235.85 405.37 L235.85 405.42 L227.75 405.42 L227.75 405.47 L219.65 405.47 L219.65 405.51 L211.55 405.51 L211.55 405.55 L203.45 405.55 L203.45 405.59 L195.35 405.59 L195.35 405.63 L187.25 405.63 L187.25 405.67 L179.15 405.67 L179.15 405.70 L171.05 405.70 L171.05 405.94 L162.95 405.94 L162.95 406.98 L154.85 406.98 L154.85 408.03 L146.75 408.03 L146.75 408.78 L138.65 408.78 L138.65 409.07 L130.55 409.07 L130.55 409.37 L122.45 409.37 L122.45 409.66 L114.35 409.66 L114.35 410.67 L106.25 410.67 L106.25 411.69 L98.15 411.69 L98.15 412.72 L90.05 412.72 L90.05 415.90 L81.95 415.90 L81.95 418.64 L73.12 418.64Z" fill="#99f099"/>
<line x1="77.90" y1="377.36" x2="77.90" y2="703.68" stroke="#0000ff" stroke-width="1.25"/>
<path d="M76.30 377.06H79.50L77.90 379.56Z" fill="#0000ff"/>
<path d="M76.30 703.98H79.50L77.90 701.48Z" fill="#0000ff"/>
<line x1="86.00" y1="342.06" x2="86.00" y2="474.35" stroke="#0000ff" stroke-width="1.25"/>
<path d="M84.40 341.76H87.60L86.00 344.26Z" fill="#0000ff"/>
<path d="M84.40 474.65H87.60L86.00 472.15Z" fill="#0000ff"/>
<line x1="94.10" y1="363.95" x2="94.10" y2="496.24" stroke="#0000ff" stroke-width="1.25"/>
<path d="M92.50 363.65H95.70L94.10 366.15Z" fill="#0000ff"/>
<path d="M92.50 496.54H95.70L94.10 494.04Z" fill="#0000ff"/>
<line x1="102.20" y1="370.57" x2="102.20" y2="502.86" stroke="#0000ff" stroke-width="1.25"/>
<path d="M100.60 370.27H103.80L102.20 372.77Z" fill="#0000ff"/>
<path d="M100.60 503.16H103.80L102.20 500.66Z" fill="#0000ff"/>
<line x1="110.30" y1="383.86" x2="110.30" y2="516.15" stroke="#0000ff" stroke-width="1.25"/>
<path d="M108.70 383.56H111.90L110.30 386.06Z" fill="#0000ff"/>
<path d="M108.70 516.45H111.90L110.30 513.95Z" fill="#0000ff"/>
<line x1="118.40" y1="392.34" x2="118.40" y2="524.63" stroke="#0000ff" stroke-width="1.25"/>
<path d="M116.80 392.04H120.00L118.40 394.54Z" fill="#0000ff"/>
<path d="M116.80 524.93H120.00L118.40 522.43Z" fill="#0000ff"/>
<line x1="126.50" y1="369.40" x2="126.50" y2="463.56" stroke="#0000ff" stroke-width="1.25"/>
<path d="M124.90 369.10H128.10L126.50 371.60Z" fill="#0000ff"/>
<path d="M124.90 463.86H128.10L126.50 461.36Z" fill="#0000ff"/>
<line x1="134.60" y1="375.95" x2="134.60" y2="470.11" stroke="#0000ff" stroke-width="1.25"/>
<path d="M133.00 375.65H136.20L134.60 378.15Z" fill="#0000ff"/>
<path d="M133.00 470.41H136.20L134.60 467.91Z" fill="#0000ff"/>
<line x1="142.70" y1="383.57" x2="142.70" y2="477.73" stroke="#0000ff" stroke-width="1.25"/>
<path d="M141.10 383.27H144.30L142.70 385.77Z" fill="#0000ff"/>
<path d="M141.10 478.03H144.30L142.70 475.53Z" fill="#0000ff"/>
<line x1="150.80" y1="368.76" x2="150.80" y2="442.51" stroke="#0000ff" stroke-width="1.25"/>
<path d="M149.20 368.46H152.40L150.80 370.96Z" fill="#0000ff"/>
<path d="M149.20 442.81H152.40L150.80 440.31Z" fill="#0000ff"/>
<line x1="158.90" y1="371.57" x2="158.90" y2="445.32" stroke="#0000ff" stroke-width="1.25"/>
<path d="M157.30 371.27H160.50L158.90 373.77Z" fill="#0000ff"/>
<path d="M157.30 445.62H160.50L158.90 443.12Z" fill="#0000ff"/>
<line x1="167.00" y1="348.53" x2="167.00" y2="397.87" stroke="#0000ff" stroke-width="1.25"/>
<path d="M165.40 348.23H168.60L167.00 350.73Z" fill="#0000ff"/>
<path d="M165.40 398.17H168.60L167.00 395.67Z" fill="#0000ff"/>
<line x1="175.10" y1="338.59" x2="175.10" y2="379.11" stroke="#0000ff" stroke-width="1.25"/>
<path d="M173.50 338.29H176.70L175.10 340.79Z" fill="#0000ff"/>
<path d="M173.50 379.41H176.70L175.10 376.91Z" fill="#0000ff"/>
<line x1="183.20" y1="340.76" x2="183.20" y2="381.27" stroke="#0000ff" stroke-width="1.25"/>
<path d="M181.60 340.46H184.80L183.20 342.96Z" fill="#0000ff"/>
<path d="M181.60 381.57H184.80L183.20 379.07Z" fill="#0000ff"/>
<line x1="191.30" y1="343.08" x2="191.30" y2="383.60" stroke="#0000ff" stroke-width="1.25"/>
<path d="M189.70 342.78H192.90L191.30 345.28Z" fill="#0000ff"/>
<path d="M189.70 383.90H192.90L191.30 381.40Z" fill="#0000ff"/>
<line x1="199.40" y1="343.29" x2="199.40" y2="383.80" stroke="#0000ff" stroke-width="1.25"/>
<path d="M197.80 342.99H201.00L199.40 345.49Z" fill="#0000ff"/>
<path d="M197.80 384.10H201.00L199.40 381.60Z" fill="#0000ff"/>
<line x1="207.50" y1="345.34" x2="207.50" y2="385.86" stroke="#0000ff" stroke-width="1.25"/>
<path d="M205.90 345.04H209.10L207.50 347.54Z" fill="#0000ff"/>
<path d="M205.90 386.16H209.10L207.50 383.66Z" fill="#0000ff"/>
<line x1="215.60" y1="346.95" x2="215.60" y2="387.47" stroke="#0000ff" stroke-width="1.25"/>
<path d="M214.00 346.65H217.20L215.60 349.15Z" fill="#0000ff"/>
<path d="M214.00 387.77H217.20L215.60 385.27Z" fill="#0000ff"/>
<line x1="223.70" y1="340.79" x2="223.70" y2="373.41" stroke="#0000ff" stroke-width="1.25"/>
<path d="M222.10 340.49H225.30L223.70 342.99Z" fill="#0000ff"/>
<path d="M222.10 373.71H225.30L223.70 371.21Z" fill="#0000ff"/>
<line x1="231.80" y1="343.08" x2="231.80" y2="375.70" stroke="#0000ff" stroke-width="1.25"/>
<path d="M230.20 342.78H233.40L231.80 345.28Z" fill="#0000ff"/>
<path d="M230.20 376.00H233.40L231.80 373.50Z" fill="#0000ff"/>
<line x1="239.90" y1="345.97" x2="239.90" y2="378.59" stroke="#0000ff" stroke-width="1.25"/>
<path d="M238.30 345.67H241.50L239.90 348.17Z" fill="#0000ff"/>
<path d="M238.30 378.89H241.50L239.90 376.39Z" fill="#0000ff"/>
<line x1="248.00" y1="347.15" x2="248.00" y2="379.77" stroke="#0000ff" stroke-width="1.25"/>
<path d="M246.40 346.85H249.60L248.00 349.35Z" fill="#0000ff"/>
<path d="M246.40 380.07H249.60L248.00 377.57Z" fill="#0000ff"/>
<line x1="256.10" y1="341.48" x2="256.10" y2="366.48" stroke="#0000ff" stroke-width="1.25"/>
<path d="M254.50 341.18H257.70L256.10 343.68Z" fill="#0000ff"/>
<path d="M254.50 366.78H257.70L256.10 364.28Z" fill="#0000ff"/>
<line x1="264.20" y1="342.54" x2="264.20" y2="367.53" stroke="#0000ff" stroke-width="1.25"/>
<path d="M262.60 342.24H265.80L264.20 344.74Z" fill="#0000ff"/>
<path d="M262.60 367.83H265.80L264.20 365.33Z" fill="#0000ff"/>
<line x1="272.30" y1="343.76" x2="272.30" y2="368.75" stroke="#0000ff" stroke-width="1.25"/>
<path d="M270.70 343.46H273.90L272.30 345.96Z" fill="#0000ff"/>
<path d="M270.70 369.05H273.90L272.30 366.55Z" fill="#0000ff"/>
<line x1="280.40" y1="345.13" x2="280.40" y2="370.13" stroke="#0000ff" stroke-width="1.25"/>
<path d="M278.80 344.83H282.00L280.40 347.33Z" fill="#0000ff"/>
<path d="M278.80 370.43H282.00L280.40 367.93Z" fill="#0000ff"/>
<line x1="288.50" y1="347.15" x2="288.50" y2="372.14" stroke="#0000ff" stroke-width="1.25"/>
<path d="M286.90 346.85H290.10L288.50 349.35Z" fill="#0000ff"/>
<path d="M286.90 372.44H290.10L288.50 369.94Z" fill="#0000ff"/>
<line x1="296.60" y1="348.64" x2="296.60" y2="373.63" stroke="#0000ff" stroke-width="1.25"/>
<path d="M295.00 348.34H298.20L296.60 350.84Z" fill="#0000ff"/>
<path d="M295.00 373.93H298.20L296.60 371.43Z" fill="#0000ff"/>
<line x1="304.70" y1="350.10" x2="304.70" y2="375.09" stroke="#0000ff" stroke-width="1.25"/>
<path d="M303.10 349.80H306.30L304.70 352.30Z" fill="#0000ff"/>
<path d="M303.10 375.39H306.30L304.70 372.89Z" fill="#0000ff"/>
<line x1="312.80" y1="352.48" x2="312.80" y2="377.47" stroke="#0000ff" stroke-width="1.25"/>
<path d="M311.20 352.18H314.40L312.80 354.68Z" fill="#0000ff"/>
<path d="M311.20 377.77H314.40L312.80 375.27Z" fill="#0000ff"/>
<line x1="320.90" y1="353.26" x2="320.90" y2="378.25" stroke="#0000ff" stroke-width="1.25"/>
<path d="M319.30 352.96H322.50L320.90 355.46Z" fill="#0000ff"/>
<path d="M319.30 378.55H322.50L320.90 376.05Z" fill="#0000ff"/>
<line x1="329.00" y1="356.60" x2="329.00" y2="381.59" stroke="#0000ff" stroke-width="1.25"/>
<path d="M327.40 356.30H330.60L329.00 358.80Z" fill="#0000ff"/>
<path d="M327.40 381.89H330.60L329.00 379.39Z" fill="#0000ff"/>
<line x1="337.10" y1="358.08" x2="337.10" y2="383.07" stroke="#0000ff" stroke-width="1.25"/>
<path d="M335.50 357.78H338.70L337.10 360.28Z" fill="#0000ff"/>
<path d="M335.50 383.37H338.70L337.10 380.87Z" fill="#0000ff"/>
<line x1="345.20" y1="358.67" x2="345.20" y2="383.66" stroke="#0000ff" stroke-width="1.25"/>
<path d="M343.60 358.37H346.80L345.20 360.87Z" fill="#0000ff"/>
<path d="M343.60 383.96H346.80L345.20 381.46Z" fill="#0000ff"/>
<line x1="353.30" y1="360.68" x2="353.30" y2="385.68" stroke="#0000ff" stroke-width="1.25"/>
<path d="M351.70 360.38H354.90L353.30 362.88Z" fill="#0000ff"/>
<path d="M351.70 385.98H354.90L353.30 383.48Z" fill="#0000ff"/>
<line x1="361.40" y1="360.68" x2="361.40" y2="385.68" stroke="#0000ff" stroke-width="1.25"/>
<path d="M359.80 360.38H363.00L361.40 362.88Z" fill="#0000ff"/>
<path d="M359.80 385.98H363.00L361.40 383.48Z" fill="#0000ff"/>
<polyline points="77.90 435.82 86.00 385.24 94.10 407.12 102.20 413.75 110.30 427.04 118.40 435.51 126.50 404.35 134.60 410.91 142.70 418.53 150.80 398.07 158.90 400.88 167.00 369.76 175.10 356.52 183.20 358.69 191.30 361.01 199.40 361.22 207.50 363.27 215.60 364.88 223.70 355.58 231.80 357.88 239.90 360.76 248.00 361.94 256.10 353.09 264.20 354.15 272.30 355.37 280.40 356.74 288.50 358.76 296.60 360.24 304.70 361.70 312.80 364.08 320.90 364.86 329.00 368.21 337.10 369.69 345.20 370.27 353.30 372.29 361.40 372.29" fill="none" stroke="#0000ff" stroke-width="1.3"/>
<path d="M77.90 432.82L80.70 438.02L75.10 438.02Z" fill="#0000ff"/>
<path d="M86.00 382.24L88.80 387.44L83.20 387.44Z" fill="#0000ff"/>
<path d="M94.10 404.12L96.90 409.32L91.30 409.32Z" fill="#0000ff"/>
<path d="M102.20 410.75L105.00 415.95L99.40 415.95Z" fill="#0000ff"/>
<path d="M110.30 424.04L113.10 429.24L107.50 429.24Z" fill="#0000ff"/>
<path d="M118.40 432.51L121.20 437.71L115.60 437.71Z" fill="#0000ff"/>
<path d="M126.50 401.35L129.30 406.55L123.70 406.55Z" fill="#0000ff"/>
<path d="M134.60 407.91L137.40 413.11L131.80 413.11Z" fill="#0000ff"/>
<path d="M142.70 415.53L145.50 420.73L139.90 420.73Z" fill="#0000ff"/>
<path d="M150.80 395.07L153.60 400.27L148.00 400.27Z" fill="#0000ff"/>
<path d="M158.90 397.88L161.70 403.08L156.10 403.08Z" fill="#0000ff"/>
<path d="M167.00 366.76L169.80 371.96L164.20 371.96Z" fill="#0000ff"/>
<path d="M175.10 353.52L177.90 358.72L172.30 358.72Z" fill="#0000ff"/>
<path d="M183.20 355.69L186.00 360.89L180.40 360.89Z" fill="#0000ff"/>
<path d="M191.30 358.01L194.10 363.21L188.50 363.21Z" fill="#0000ff"/>
<path d="M199.40 358.22L202.20 363.42L196.60 363.42Z" fill="#0000ff"/>
<path d="M207.50 360.27L210.30 365.47L204.70 365.47Z" fill="#0000ff"/>
<path d="M215.60 361.88L218.40 367.08L212.80 367.08Z" fill="#0000ff"/>
<path d="M223.70 352.58L226.50 357.78L220.90 357.78Z" fill="#0000ff"/>
<path d="M231.80 354.88L234.60 360.08L229.00 360.08Z" fill="#0000ff"/>
<path d="M239.90 357.76L242.70 362.96L237.10 362.96Z" fill="#0000ff"/>
<path d="M248.00 358.94L250.80 364.14L245.20 364.14Z" fill="#0000ff"/>
<path d="M256.10 350.09L258.90 355.29L253.30 355.29Z" fill="#0000ff"/>
<path d="M264.20 351.15L267.00 356.35L261.40 356.35Z" fill="#0000ff"/>
<path d="M272.30 352.37L275.10 357.57L269.50 357.57Z" fill="#0000ff"/>
<path d="M280.40 353.74L283.20 358.94L277.60 358.94Z" fill="#0000ff"/>
<path d="M288.50 355.76L291.30 360.96L285.70 360.96Z" fill="#0000ff"/>
<path d="M296.60 357.24L299.40 362.44L293.80 362.44Z" fill="#0000ff"/>
<path d="M304.70 358.70L307.50 363.90L301.90 363.90Z" fill="#0000ff"/>
<path d="M312.80 361.08L315.60 366.28L310.00 366.28Z" fill="#0000ff"/>
<path d="M320.90 361.86L323.70 367.06L318.10 367.06Z" fill="#0000ff"/>
<path d="M329.00 365.21L331.80 370.41L326.20 370.41Z" fill="#0000ff"/>
<path d="M337.10 366.69L339.90 371.89L334.30 371.89Z" fill="#0000ff"/>
<path d="M345.20 367.27L348.00 372.47L342.40 372.47Z" fill="#0000ff"/>
<path d="M353.30 369.29L356.10 374.49L350.50 374.49Z" fill="#0000ff"/>
<path d="M361.40 369.29L364.20 374.49L358.60 374.49Z" fill="#0000ff"/>
<line x1="77.90" y1="311.19" x2="77.90" y2="563.30" stroke="#a0005a" stroke-width="1.25" stroke-dasharray="2.4,2.4"/>
<path d="M76.30 310.89H79.50L77.90 313.39Z" fill="#a0005a"/>
<path d="M76.30 563.60H79.50L77.90 561.10Z" fill="#a0005a"/>
<line x1="86.00" y1="321.13" x2="86.00" y2="573.24" stroke="#a0005a" stroke-width="1.25" stroke-dasharray="2.4,2.4"/>
<path d="M84.40 320.83H87.60L86.00 323.33Z" fill="#a0005a"/>
<path d="M84.40 573.54H87.60L86.00 571.04Z" fill="#a0005a"/>
<line x1="94.10" y1="343.01" x2="94.10" y2="595.12" stroke="#a0005a" stroke-width="1.25" stroke-dasharray="2.4,2.4"/>
<path d="M92.50 342.71H95.70L94.10 345.21Z" fill="#a0005a"/>
<path d="M92.50 595.42H95.70L94.10 592.92Z" fill="#a0005a"/>
<line x1="110.30" y1="320.05" x2="110.30" y2="427.47" stroke="#a0005a" stroke-width="1.25" stroke-dasharray="2.4,2.4"/>
<path d="M108.70 319.75H111.90L110.30 322.25Z" fill="#a0005a"/>
<path d="M108.70 427.77H111.90L110.30 425.27Z" fill="#a0005a"/>
<line x1="118.40" y1="304.08" x2="118.40" y2="370.94" stroke="#a0005a" stroke-width="1.25" stroke-dasharray="2.4,2.4"/>
<path d="M116.80 303.78H120.00L118.40 306.28Z" fill="#a0005a"/>
<path d="M116.80 371.24H120.00L118.40 368.74Z" fill="#a0005a"/>
<line x1="126.50" y1="308.33" x2="126.50" y2="375.18" stroke="#a0005a" stroke-width="1.25" stroke-dasharray="2.4,2.4"/>
<path d="M124.90 308.03H128.10L126.50 310.53Z" fill="#a0005a"/>
<path d="M124.90 375.48H128.10L126.50 372.98Z" fill="#a0005a"/>
<line x1="134.60" y1="314.88" x2="134.60" y2="381.74" stroke="#a0005a" stroke-width="1.25" stroke-dasharray="2.4,2.4"/>
<path d="M133.00 314.58H136.20L134.60 317.08Z" fill="#a0005a"/>
<path d="M133.00 382.04H136.20L134.60 379.54Z" fill="#a0005a"/>
<line x1="142.70" y1="322.50" x2="142.70" y2="389.36" stroke="#a0005a" stroke-width="1.25" stroke-dasharray="2.4,2.4"/>
<path d="M141.10 322.20H144.30L142.70 324.70Z" fill="#a0005a"/>
<path d="M141.10 389.66H144.30L142.70 387.16Z" fill="#a0005a"/>
<line x1="150.80" y1="327.16" x2="150.80" y2="394.01" stroke="#a0005a" stroke-width="1.25" stroke-dasharray="2.4,2.4"/>
<path d="M149.20 326.86H152.40L150.80 329.36Z" fill="#a0005a"/>
<path d="M149.20 394.31H152.40L150.80 391.81Z" fill="#a0005a"/>
<line x1="158.90" y1="329.98" x2="158.90" y2="396.83" stroke="#a0005a" stroke-width="1.25" stroke-dasharray="2.4,2.4"/>
<path d="M157.30 329.68H160.50L158.90 332.18Z" fill="#a0005a"/>
<path d="M157.30 397.13H160.50L158.90 394.63Z" fill="#a0005a"/>
<line x1="167.00" y1="334.26" x2="167.00" y2="401.11" stroke="#a0005a" stroke-width="1.25" stroke-dasharray="2.4,2.4"/>
<path d="M165.40 333.96H168.60L167.00 336.46Z" fill="#a0005a"/>
<path d="M165.40 401.41H168.60L167.00 398.91Z" fill="#a0005a"/>
<line x1="175.10" y1="334.48" x2="175.10" y2="401.33" stroke="#a0005a" stroke-width="1.25" stroke-dasharray="2.4,2.4"/>
<path d="M173.50 334.18H176.70L175.10 336.68Z" fill="#a0005a"/>
<path d="M173.50 401.63H176.70L175.10 399.13Z" fill="#a0005a"/>
<line x1="183.20" y1="336.64" x2="183.20" y2="403.50" stroke="#a0005a" stroke-width="1.25" stroke-dasharray="2.4,2.4"/>
<path d="M181.60 336.34H184.80L183.20 338.84Z" fill="#a0005a"/>
<path d="M181.60 403.80H184.80L183.20 401.30Z" fill="#a0005a"/>
<line x1="191.30" y1="338.97" x2="191.30" y2="405.82" stroke="#a0005a" stroke-width="1.25" stroke-dasharray="2.4,2.4"/>
<path d="M189.70 338.67H192.90L191.30 341.17Z" fill="#a0005a"/>
<path d="M189.70 406.12H192.90L191.30 403.62Z" fill="#a0005a"/>
<line x1="199.40" y1="339.18" x2="199.40" y2="406.03" stroke="#a0005a" stroke-width="1.25" stroke-dasharray="2.4,2.4"/>
<path d="M197.80 338.88H201.00L199.40 341.38Z" fill="#a0005a"/>
<path d="M197.80 406.33H201.00L199.40 403.83Z" fill="#a0005a"/>
<line x1="207.50" y1="341.23" x2="207.50" y2="408.08" stroke="#a0005a" stroke-width="1.25" stroke-dasharray="2.4,2.4"/>
<path d="M205.90 340.93H209.10L207.50 343.43Z" fill="#a0005a"/>
<path d="M205.90 408.38H209.10L207.50 405.88Z" fill="#a0005a"/>
<line x1="215.60" y1="342.84" x2="215.60" y2="409.69" stroke="#a0005a" stroke-width="1.25" stroke-dasharray="2.4,2.4"/>
<path d="M214.00 342.54H217.20L215.60 345.04Z" fill="#a0005a"/>
<path d="M214.00 409.99H217.20L215.60 407.49Z" fill="#a0005a"/>
<line x1="223.70" y1="345.20" x2="223.70" y2="412.05" stroke="#a0005a" stroke-width="1.25" stroke-dasharray="2.4,2.4"/>
<path d="M222.10 344.90H225.30L223.70 347.40Z" fill="#a0005a"/>
<path d="M222.10 412.35H225.30L223.70 409.85Z" fill="#a0005a"/>
<line x1="231.80" y1="347.50" x2="231.80" y2="414.35" stroke="#a0005a" stroke-width="1.25" stroke-dasharray="2.4,2.4"/>
<path d="M230.20 347.20H233.40L231.80 349.70Z" fill="#a0005a"/>
<path d="M230.20 414.65H233.40L231.80 412.15Z" fill="#a0005a"/>
<line x1="239.90" y1="350.38" x2="239.90" y2="417.23" stroke="#a0005a" stroke-width="1.25" stroke-dasharray="2.4,2.4"/>
<path d="M238.30 350.08H241.50L239.90 352.58Z" fill="#a0005a"/>
<path d="M238.30 417.53H241.50L239.90 415.03Z" fill="#a0005a"/>
<line x1="248.00" y1="351.56" x2="248.00" y2="418.41" stroke="#a0005a" stroke-width="1.25" stroke-dasharray="2.4,2.4"/>
<path d="M246.40 351.26H249.60L248.00 353.76Z" fill="#a0005a"/>
<path d="M246.40 418.71H249.60L248.00 416.21Z" fill="#a0005a"/>
<line x1="256.10" y1="352.99" x2="256.10" y2="419.85" stroke="#a0005a" stroke-width="1.25" stroke-dasharray="2.4,2.4"/>
<path d="M254.50 352.69H257.70L256.10 355.19Z" fill="#a0005a"/>
<path d="M254.50 420.15H257.70L256.10 417.65Z" fill="#a0005a"/>
<line x1="264.20" y1="354.05" x2="264.20" y2="420.90" stroke="#a0005a" stroke-width="1.25" stroke-dasharray="2.4,2.4"/>
<path d="M262.60 353.75H265.80L264.20 356.25Z" fill="#a0005a"/>
<path d="M262.60 421.20H265.80L264.20 418.70Z" fill="#a0005a"/>
<line x1="272.30" y1="355.27" x2="272.30" y2="422.12" stroke="#a0005a" stroke-width="1.25" stroke-dasharray="2.4,2.4"/>
<path d="M270.70 354.97H273.90L272.30 357.47Z" fill="#a0005a"/>
<path d="M270.70 422.42H273.90L272.30 419.92Z" fill="#a0005a"/>
<line x1="280.40" y1="356.64" x2="280.40" y2="423.50" stroke="#a0005a" stroke-width="1.25" stroke-dasharray="2.4,2.4"/>
<path d="M278.80 356.34H282.00L280.40 358.84Z" fill="#a0005a"/>
<path d="M278.80 423.80H282.00L280.40 421.30Z" fill="#a0005a"/>
<line x1="288.50" y1="358.66" x2="288.50" y2="425.51" stroke="#a0005a" stroke-width="1.25" stroke-dasharray="2.4,2.4"/>
<path d="M286.90 358.36H290.10L288.50 360.86Z" fill="#a0005a"/>
<path d="M286.90 425.81H290.10L288.50 423.31Z" fill="#a0005a"/>
<line x1="296.60" y1="360.15" x2="296.60" y2="427.00" stroke="#a0005a" stroke-width="1.25" stroke-dasharray="2.4,2.4"/>
<path d="M295.00 359.85H298.20L296.60 362.35Z" fill="#a0005a"/>
<path d="M295.00 427.30H298.20L296.60 424.80Z" fill="#a0005a"/>
<line x1="304.70" y1="361.60" x2="304.70" y2="428.46" stroke="#a0005a" stroke-width="1.25" stroke-dasharray="2.4,2.4"/>
<path d="M303.10 361.30H306.30L304.70 363.80Z" fill="#a0005a"/>
<path d="M303.10 428.76H306.30L304.70 426.26Z" fill="#a0005a"/>
<line x1="312.80" y1="348.42" x2="312.80" y2="388.14" stroke="#a0005a" stroke-width="1.25" stroke-dasharray="2.4,2.4"/>
<path d="M311.20 348.12H314.40L312.80 350.62Z" fill="#a0005a"/>
<path d="M311.20 388.44H314.40L312.80 385.94Z" fill="#a0005a"/>
<line x1="320.90" y1="349.20" x2="320.90" y2="388.92" stroke="#a0005a" stroke-width="1.25" stroke-dasharray="2.4,2.4"/>
<path d="M319.30 348.90H322.50L320.90 351.40Z" fill="#a0005a"/>
<path d="M319.30 389.22H322.50L320.90 386.72Z" fill="#a0005a"/>
<line x1="329.00" y1="352.55" x2="329.00" y2="392.27" stroke="#a0005a" stroke-width="1.25" stroke-dasharray="2.4,2.4"/>
<path d="M327.40 352.25H330.60L329.00 354.75Z" fill="#a0005a"/>
<path d="M327.40 392.57H330.60L329.00 390.07Z" fill="#a0005a"/>
<line x1="337.10" y1="354.03" x2="337.10" y2="393.75" stroke="#a0005a" stroke-width="1.25" stroke-dasharray="2.4,2.4"/>
<path d="M335.50 353.73H338.70L337.10 356.23Z" fill="#a0005a"/>
<path d="M335.50 394.05H338.70L337.10 391.55Z" fill="#a0005a"/>
<line x1="345.20" y1="354.61" x2="345.20" y2="394.33" stroke="#a0005a" stroke-width="1.25" stroke-dasharray="2.4,2.4"/>
<path d="M343.60 354.31H346.80L345.20 356.81Z" fill="#a0005a"/>
<path d="M343.60 394.63H346.80L345.20 392.13Z" fill="#a0005a"/>
<line x1="353.30" y1="356.63" x2="353.30" y2="396.35" stroke="#a0005a" stroke-width="1.25" stroke-dasharray="2.4,2.4"/>
<path d="M351.70 356.33H354.90L353.30 358.83Z" fill="#a0005a"/>
<path d="M351.70 396.65H354.90L353.30 394.15Z" fill="#a0005a"/>
<line x1="361.40" y1="356.63" x2="361.40" y2="396.35" stroke="#a0005a" stroke-width="1.25" stroke-dasharray="2.4,2.4"/>
<path d="M359.80 356.33H363.00L361.40 358.83Z" fill="#a0005a"/>
<path d="M359.80 396.65H363.00L361.40 394.15Z" fill="#a0005a"/>
<polyline points="77.90 366.98 86.00 376.92 94.10 398.80 110.30 358.19 118.40 331.26 126.50 335.51 134.60 342.06 142.70 349.68 150.80 354.34 158.90 357.16 167.00 361.44 175.10 361.66 183.20 363.82 191.30 366.15 199.40 366.36 207.50 368.41 215.60 370.02 223.70 372.38 231.80 374.68 239.90 377.56 248.00 378.74 256.10 380.17 264.20 381.23 272.30 382.45 280.40 383.82 288.50 385.84 296.60 387.32 304.70 388.78 312.80 366.04 320.90 366.82 329.00 370.17 337.10 371.65 345.20 372.23 353.30 374.25 361.40 374.25" fill="none" stroke="#a0005a" stroke-width="1.3" stroke-dasharray="2.4,2.4"/>
<path d="M77.90 369.98L80.70 364.78L75.10 364.78Z" fill="#a0005a"/>
<path d="M86.00 379.92L88.80 374.72L83.20 374.72Z" fill="#a0005a"/>
<path d="M94.10 401.80L96.90 396.60L91.30 396.60Z" fill="#a0005a"/>
<path d="M110.30 361.19L113.10 355.99L107.50 355.99Z" fill="#a0005a"/>
<path d="M118.40 334.26L121.20 329.06L115.60 329.06Z" fill="#a0005a"/>
<path d="M126.50 338.51L129.30 333.31L123.70 333.31Z" fill="#a0005a"/>
<path d="M134.60 345.06L137.40 339.86L131.80 339.86Z" fill="#a0005a"/>
<path d="M142.70 352.68L145.50 347.48L139.90 347.48Z" fill="#a0005a"/>
<path d="M150.80 357.34L153.60 352.14L148.00 352.14Z" fill="#a0005a"/>
<path d="M158.90 360.16L161.70 354.96L156.10 354.96Z" fill="#a0005a"/>
<path d="M167.00 364.44L169.80 359.24L164.20 359.24Z" fill="#a0005a"/>
<path d="M175.10 364.66L177.90 359.46L172.30 359.46Z" fill="#a0005a"/>
<path d="M183.20 366.82L186.00 361.62L180.40 361.62Z" fill="#a0005a"/>
<path d="M191.30 369.15L194.10 363.95L188.50 363.95Z" fill="#a0005a"/>
<path d="M199.40 369.36L202.20 364.16L196.60 364.16Z" fill="#a0005a"/>
<path d="M207.50 371.41L210.30 366.21L204.70 366.21Z" fill="#a0005a"/>
<path d="M215.60 373.02L218.40 367.82L212.80 367.82Z" fill="#a0005a"/>
<path d="M223.70 375.38L226.50 370.18L220.90 370.18Z" fill="#a0005a"/>
<path d="M231.80 377.68L234.60 372.48L229.00 372.48Z" fill="#a0005a"/>
<path d="M239.90 380.56L242.70 375.36L237.10 375.36Z" fill="#a0005a"/>
<path d="M248.00 381.74L250.80 376.54L245.20 376.54Z" fill="#a0005a"/>
<path d="M256.10 383.17L258.90 377.97L253.30 377.97Z" fill="#a0005a"/>
<path d="M264.20 384.23L267.00 379.03L261.40 379.03Z" fill="#a0005a"/>
<path d="M272.30 385.45L275.10 380.25L269.50 380.25Z" fill="#a0005a"/>
<path d="M280.40 386.82L283.20 381.62L277.60 381.62Z" fill="#a0005a"/>
<path d="M288.50 388.84L291.30 383.64L285.70 383.64Z" fill="#a0005a"/>
<path d="M296.60 390.32L299.40 385.12L293.80 385.12Z" fill="#a0005a"/>
<path d="M304.70 391.78L307.50 386.58L301.90 386.58Z" fill="#a0005a"/>
<path d="M312.80 369.04L315.60 363.84L310.00 363.84Z" fill="#a0005a"/>
<path d="M320.90 369.82L323.70 364.62L318.10 364.62Z" fill="#a0005a"/>
<path d="M329.00 373.17L331.80 367.97L326.20 367.97Z" fill="#a0005a"/>
<path d="M337.10 374.65L339.90 369.45L334.30 369.45Z" fill="#a0005a"/>
<path d="M345.20 375.23L348.00 370.03L342.40 370.03Z" fill="#a0005a"/>
<path d="M353.30 377.25L356.10 372.05L350.50 372.05Z" fill="#a0005a"/>
<path d="M361.40 377.25L364.20 372.05L358.60 372.05Z" fill="#a0005a"/>
<line x1="77.90" y1="339.41" x2="77.90" y2="473.45" stroke="#c4003c" stroke-width="1.25" stroke-dasharray="2.7,2.2,0.8,2.3"/>
<path d="M76.30 339.11H79.50L77.90 341.61Z" fill="#c4003c"/>
<path d="M76.30 473.75H79.50L77.90 471.25Z" fill="#c4003c"/>
<line x1="86.00" y1="349.35" x2="86.00" y2="483.39" stroke="#c4003c" stroke-width="1.25" stroke-dasharray="2.7,2.2,0.8,2.3"/>
<path d="M84.40 349.05H87.60L86.00 351.55Z" fill="#c4003c"/>
<path d="M84.40 483.69H87.60L86.00 481.19Z" fill="#c4003c"/>
<line x1="94.10" y1="371.23" x2="94.10" y2="505.27" stroke="#c4003c" stroke-width="1.25" stroke-dasharray="2.7,2.2,0.8,2.3"/>
<path d="M92.50 370.93H95.70L94.10 373.43Z" fill="#c4003c"/>
<path d="M92.50 505.57H95.70L94.10 503.07Z" fill="#c4003c"/>
<line x1="102.20" y1="350.53" x2="102.20" y2="446.46" stroke="#c4003c" stroke-width="1.25" stroke-dasharray="2.7,2.2,0.8,2.3"/>
<path d="M100.60 350.23H103.80L102.20 352.73Z" fill="#c4003c"/>
<path d="M100.60 446.76H103.80L102.20 444.26Z" fill="#c4003c"/>
<line x1="110.30" y1="363.82" x2="110.30" y2="459.75" stroke="#c4003c" stroke-width="1.25" stroke-dasharray="2.7,2.2,0.8,2.3"/>
<path d="M108.70 363.52H111.90L110.30 366.02Z" fill="#c4003c"/>
<path d="M108.70 460.05H111.90L110.30 457.55Z" fill="#c4003c"/>
<line x1="118.40" y1="337.44" x2="118.40" y2="399.59" stroke="#c4003c" stroke-width="1.25" stroke-dasharray="2.7,2.2,0.8,2.3"/>
<path d="M116.80 337.14H120.00L118.40 339.64Z" fill="#c4003c"/>
<path d="M116.80 399.89H120.00L118.40 397.39Z" fill="#c4003c"/>
<line x1="126.50" y1="341.69" x2="126.50" y2="403.84" stroke="#c4003c" stroke-width="1.25" stroke-dasharray="2.7,2.2,0.8,2.3"/>
<path d="M124.90 341.39H128.10L126.50 343.89Z" fill="#c4003c"/>
<path d="M124.90 404.14H128.10L126.50 401.64Z" fill="#c4003c"/>
<line x1="134.60" y1="348.25" x2="134.60" y2="410.39" stroke="#c4003c" stroke-width="1.25" stroke-dasharray="2.7,2.2,0.8,2.3"/>
<path d="M133.00 347.95H136.20L134.60 350.45Z" fill="#c4003c"/>
<path d="M133.00 410.69H136.20L134.60 408.19Z" fill="#c4003c"/>
<line x1="142.70" y1="355.87" x2="142.70" y2="418.01" stroke="#c4003c" stroke-width="1.25" stroke-dasharray="2.7,2.2,0.8,2.3"/>
<path d="M141.10 355.57H144.30L142.70 358.07Z" fill="#c4003c"/>
<path d="M141.10 418.31H144.30L142.70 415.81Z" fill="#c4003c"/>
<line x1="150.80" y1="360.52" x2="150.80" y2="422.67" stroke="#c4003c" stroke-width="1.25" stroke-dasharray="2.7,2.2,0.8,2.3"/>
<path d="M149.20 360.22H152.40L150.80 362.72Z" fill="#c4003c"/>
<path d="M149.20 422.97H152.40L150.80 420.47Z" fill="#c4003c"/>
<line x1="158.90" y1="363.34" x2="158.90" y2="425.49" stroke="#c4003c" stroke-width="1.25" stroke-dasharray="2.7,2.2,0.8,2.3"/>
<path d="M157.30 363.04H160.50L158.90 365.54Z" fill="#c4003c"/>
<path d="M157.30 425.79H160.50L158.90 423.29Z" fill="#c4003c"/>
<line x1="167.00" y1="367.62" x2="167.00" y2="429.77" stroke="#c4003c" stroke-width="1.25" stroke-dasharray="2.7,2.2,0.8,2.3"/>
<path d="M165.40 367.32H168.60L167.00 369.82Z" fill="#c4003c"/>
<path d="M165.40 430.07H168.60L167.00 427.57Z" fill="#c4003c"/>
<line x1="175.10" y1="367.84" x2="175.10" y2="429.99" stroke="#c4003c" stroke-width="1.25" stroke-dasharray="2.7,2.2,0.8,2.3"/>
<path d="M173.50 367.54H176.70L175.10 370.04Z" fill="#c4003c"/>
<path d="M173.50 430.29H176.70L175.10 427.79Z" fill="#c4003c"/>
<line x1="183.20" y1="370.01" x2="183.20" y2="432.15" stroke="#c4003c" stroke-width="1.25" stroke-dasharray="2.7,2.2,0.8,2.3"/>
<path d="M181.60 369.71H184.80L183.20 372.21Z" fill="#c4003c"/>
<path d="M181.60 432.45H184.80L183.20 429.95Z" fill="#c4003c"/>
<line x1="191.30" y1="372.33" x2="191.30" y2="434.48" stroke="#c4003c" stroke-width="1.25" stroke-dasharray="2.7,2.2,0.8,2.3"/>
<path d="M189.70 372.03H192.90L191.30 374.53Z" fill="#c4003c"/>
<path d="M189.70 434.78H192.90L191.30 432.28Z" fill="#c4003c"/>
<line x1="199.40" y1="372.54" x2="199.40" y2="434.69" stroke="#c4003c" stroke-width="1.25" stroke-dasharray="2.7,2.2,0.8,2.3"/>
<path d="M197.80 372.24H201.00L199.40 374.74Z" fill="#c4003c"/>
<path d="M197.80 434.99H201.00L199.40 432.49Z" fill="#c4003c"/>
<line x1="207.50" y1="374.59" x2="207.50" y2="436.74" stroke="#c4003c" stroke-width="1.25" stroke-dasharray="2.7,2.2,0.8,2.3"/>
<path d="M205.90 374.29H209.10L207.50 376.79Z" fill="#c4003c"/>
<path d="M205.90 437.04H209.10L207.50 434.54Z" fill="#c4003c"/>
<line x1="215.60" y1="363.79" x2="215.60" y2="415.68" stroke="#c4003c" stroke-width="1.25" stroke-dasharray="2.7,2.2,0.8,2.3"/>
<path d="M214.00 363.49H217.20L215.60 365.99Z" fill="#c4003c"/>
<path d="M214.00 415.98H217.20L215.60 413.48Z" fill="#c4003c"/>
<line x1="223.70" y1="366.15" x2="223.70" y2="418.04" stroke="#c4003c" stroke-width="1.25" stroke-dasharray="2.7,2.2,0.8,2.3"/>
<path d="M222.10 365.85H225.30L223.70 368.35Z" fill="#c4003c"/>
<path d="M222.10 418.34H225.30L223.70 415.84Z" fill="#c4003c"/>
<line x1="231.80" y1="368.45" x2="231.80" y2="420.34" stroke="#c4003c" stroke-width="1.25" stroke-dasharray="2.7,2.2,0.8,2.3"/>
<path d="M230.20 368.15H233.40L231.80 370.65Z" fill="#c4003c"/>
<path d="M230.20 420.64H233.40L231.80 418.14Z" fill="#c4003c"/>
<line x1="239.90" y1="371.33" x2="239.90" y2="423.22" stroke="#c4003c" stroke-width="1.25" stroke-dasharray="2.7,2.2,0.8,2.3"/>
<path d="M238.30 371.03H241.50L239.90 373.53Z" fill="#c4003c"/>
<path d="M238.30 423.52H241.50L239.90 421.02Z" fill="#c4003c"/>
<line x1="248.00" y1="372.51" x2="248.00" y2="424.40" stroke="#c4003c" stroke-width="1.25" stroke-dasharray="2.7,2.2,0.8,2.3"/>
<path d="M246.40 372.21H249.60L248.00 374.71Z" fill="#c4003c"/>
<path d="M246.40 424.70H249.60L248.00 422.20Z" fill="#c4003c"/>
<line x1="256.10" y1="373.95" x2="256.10" y2="425.83" stroke="#c4003c" stroke-width="1.25" stroke-dasharray="2.7,2.2,0.8,2.3"/>
<path d="M254.50 373.65H257.70L256.10 376.15Z" fill="#c4003c"/>
<path d="M254.50 426.13H257.70L256.10 423.63Z" fill="#c4003c"/>
<line x1="264.20" y1="375.00" x2="264.20" y2="426.89" stroke="#c4003c" stroke-width="1.25" stroke-dasharray="2.7,2.2,0.8,2.3"/>
<path d="M262.60 374.70H265.80L264.20 377.20Z" fill="#c4003c"/>
<path d="M262.60 427.19H265.80L264.20 424.69Z" fill="#c4003c"/>
<line x1="272.30" y1="376.22" x2="272.30" y2="428.11" stroke="#c4003c" stroke-width="1.25" stroke-dasharray="2.7,2.2,0.8,2.3"/>
<path d="M270.70 375.92H273.90L272.30 378.42Z" fill="#c4003c"/>
<path d="M270.70 428.41H273.90L272.30 425.91Z" fill="#c4003c"/>
<line x1="280.40" y1="377.60" x2="280.40" y2="429.48" stroke="#c4003c" stroke-width="1.25" stroke-dasharray="2.7,2.2,0.8,2.3"/>
<path d="M278.80 377.30H282.00L280.40 379.80Z" fill="#c4003c"/>
<path d="M278.80 429.78H282.00L280.40 427.28Z" fill="#c4003c"/>
<line x1="288.50" y1="369.24" x2="288.50" y2="412.72" stroke="#c4003c" stroke-width="1.25" stroke-dasharray="2.7,2.2,0.8,2.3"/>
<path d="M286.90 368.94H290.10L288.50 371.44Z" fill="#c4003c"/>
<path d="M286.90 413.02H290.10L288.50 410.52Z" fill="#c4003c"/>
<line x1="296.60" y1="370.72" x2="296.60" y2="414.21" stroke="#c4003c" stroke-width="1.25" stroke-dasharray="2.7,2.2,0.8,2.3"/>
<path d="M295.00 370.42H298.20L296.60 372.92Z" fill="#c4003c"/>
<path d="M295.00 414.51H298.20L296.60 412.01Z" fill="#c4003c"/>
<line x1="304.70" y1="372.18" x2="304.70" y2="415.67" stroke="#c4003c" stroke-width="1.25" stroke-dasharray="2.7,2.2,0.8,2.3"/>
<path d="M303.10 371.88H306.30L304.70 374.38Z" fill="#c4003c"/>
<path d="M303.10 415.97H306.30L304.70 413.47Z" fill="#c4003c"/>
<line x1="312.80" y1="374.56" x2="312.80" y2="418.04" stroke="#c4003c" stroke-width="1.25" stroke-dasharray="2.7,2.2,0.8,2.3"/>
<path d="M311.20 374.26H314.40L312.80 376.76Z" fill="#c4003c"/>
<path d="M311.20 418.34H314.40L312.80 415.84Z" fill="#c4003c"/>
<line x1="320.90" y1="375.34" x2="320.90" y2="418.82" stroke="#c4003c" stroke-width="1.25" stroke-dasharray="2.7,2.2,0.8,2.3"/>
<path d="M319.30 375.04H322.50L320.90 377.54Z" fill="#c4003c"/>
<path d="M319.30 419.12H322.50L320.90 416.62Z" fill="#c4003c"/>
<line x1="329.00" y1="378.69" x2="329.00" y2="422.17" stroke="#c4003c" stroke-width="1.25" stroke-dasharray="2.7,2.2,0.8,2.3"/>
<path d="M327.40 378.39H330.60L329.00 380.89Z" fill="#c4003c"/>
<path d="M327.40 422.47H330.60L329.00 419.97Z" fill="#c4003c"/>
<line x1="337.10" y1="371.35" x2="337.10" y2="407.51" stroke="#c4003c" stroke-width="1.25" stroke-dasharray="2.7,2.2,0.8,2.3"/>
<path d="M335.50 371.05H338.70L337.10 373.55Z" fill="#c4003c"/>
<path d="M335.50 407.81H338.70L337.10 405.31Z" fill="#c4003c"/>
<line x1="345.20" y1="371.93" x2="345.20" y2="408.09" stroke="#c4003c" stroke-width="1.25" stroke-dasharray="2.7,2.2,0.8,2.3"/>
<path d="M343.60 371.63H346.80L345.20 374.13Z" fill="#c4003c"/>
<path d="M343.60 408.39H346.80L345.20 405.89Z" fill="#c4003c"/>
<line x1="353.30" y1="373.95" x2="353.30" y2="410.11" stroke="#c4003c" stroke-width="1.25" stroke-dasharray="2.7,2.2,0.8,2.3"/>
<path d="M351.70 373.65H354.90L353.30 376.15Z" fill="#c4003c"/>
<path d="M351.70 410.41H354.90L353.30 407.91Z" fill="#c4003c"/>
<line x1="361.40" y1="373.95" x2="361.40" y2="410.11" stroke="#c4003c" stroke-width="1.25" stroke-dasharray="2.7,2.2,0.8,2.3"/>
<path d="M359.80 373.65H363.00L361.40 376.15Z" fill="#c4003c"/>
<path d="M359.80 410.41H363.00L361.40 407.91Z" fill="#c4003c"/>
<polyline points="77.90 382.90 86.00 392.84 94.10 414.72 102.20 385.94 110.30 399.23 118.40 363.10 126.50 367.35 134.60 373.90 142.70 381.52 150.80 386.18 158.90 389.00 167.00 393.28 175.10 393.50 183.20 395.66 191.30 397.99 199.40 398.20 207.50 400.25 215.60 385.94 223.70 388.30 231.80 390.60 239.90 393.48 248.00 394.66 256.10 396.09 264.20 397.15 272.30 398.37 280.40 399.74 288.50 388.30 296.60 389.78 304.70 391.24 312.80 393.62 320.90 394.40 329.00 397.75 337.10 387.57 345.20 388.15 353.30 390.17 361.40 390.17" fill="none" stroke="#c4003c" stroke-width="1.2" stroke-dasharray="2.7,2.2,0.8,2.3"/>
<path d="M77.90 380.40L79.70 382.90L77.90 385.40L76.10 382.90Z" fill="none" stroke="#c4003c" stroke-width="1.1"/>
<path d="M86.00 390.34L87.80 392.84L86.00 395.34L84.20 392.84Z" fill="none" stroke="#c4003c" stroke-width="1.1"/>
<path d="M94.10 412.22L95.90 414.72L94.10 417.22L92.30 414.72Z" fill="none" stroke="#c4003c" stroke-width="1.1"/>
<path d="M102.20 383.44L104.00 385.94L102.20 388.44L100.40 385.94Z" fill="none" stroke="#c4003c" stroke-width="1.1"/>
<path d="M110.30 396.73L112.10 399.23L110.30 401.73L108.50 399.23Z" fill="none" stroke="#c4003c" stroke-width="1.1"/>
<path d="M118.40 360.60L120.20 363.10L118.40 365.60L116.60 363.10Z" fill="none" stroke="#c4003c" stroke-width="1.1"/>
<path d="M126.50 364.85L128.30 367.35L126.50 369.85L124.70 367.35Z" fill="none" stroke="#c4003c" stroke-width="1.1"/>
<path d="M134.60 371.40L136.40 373.90L134.60 376.40L132.80 373.90Z" fill="none" stroke="#c4003c" stroke-width="1.1"/>
<path d="M142.70 379.02L144.50 381.52L142.70 384.02L140.90 381.52Z" fill="none" stroke="#c4003c" stroke-width="1.1"/>
<path d="M150.80 383.68L152.60 386.18L150.80 388.68L149.00 386.18Z" fill="none" stroke="#c4003c" stroke-width="1.1"/>
<path d="M158.90 386.50L160.70 389.00L158.90 391.50L157.10 389.00Z" fill="none" stroke="#c4003c" stroke-width="1.1"/>
<path d="M167.00 390.78L168.80 393.28L167.00 395.78L165.20 393.28Z" fill="none" stroke="#c4003c" stroke-width="1.1"/>
<path d="M175.10 391.00L176.90 393.50L175.10 396.00L173.30 393.50Z" fill="none" stroke="#c4003c" stroke-width="1.1"/>
<path d="M183.20 393.16L185.00 395.66L183.20 398.16L181.40 395.66Z" fill="none" stroke="#c4003c" stroke-width="1.1"/>
<path d="M191.30 395.49L193.10 397.99L191.30 400.49L189.50 397.99Z" fill="none" stroke="#c4003c" stroke-width="1.1"/>
<path d="M199.40 395.70L201.20 398.20L199.40 400.70L197.60 398.20Z" fill="none" stroke="#c4003c" stroke-width="1.1"/>
<path d="M207.50 397.75L209.30 400.25L207.50 402.75L205.70 400.25Z" fill="none" stroke="#c4003c" stroke-width="1.1"/>
<path d="M215.60 383.44L217.40 385.94L215.60 388.44L213.80 385.94Z" fill="none" stroke="#c4003c" stroke-width="1.1"/>
<path d="M223.70 385.80L225.50 388.30L223.70 390.80L221.90 388.30Z" fill="none" stroke="#c4003c" stroke-width="1.1"/>
<path d="M231.80 388.10L233.60 390.60L231.80 393.10L230.00 390.60Z" fill="none" stroke="#c4003c" stroke-width="1.1"/>
<path d="M239.90 390.98L241.70 393.48L239.90 395.98L238.10 393.48Z" fill="none" stroke="#c4003c" stroke-width="1.1"/>
<path d="M248.00 392.16L249.80 394.66L248.00 397.16L246.20 394.66Z" fill="none" stroke="#c4003c" stroke-width="1.1"/>
<path d="M256.10 393.59L257.90 396.09L256.10 398.59L254.30 396.09Z" fill="none" stroke="#c4003c" stroke-width="1.1"/>
<path d="M264.20 394.65L266.00 397.15L264.20 399.65L262.40 397.15Z" fill="none" stroke="#c4003c" stroke-width="1.1"/>
<path d="M272.30 395.87L274.10 398.37L272.30 400.87L270.50 398.37Z" fill="none" stroke="#c4003c" stroke-width="1.1"/>
<path d="M280.40 397.24L282.20 399.74L280.40 402.24L278.60 399.74Z" fill="none" stroke="#c4003c" stroke-width="1.1"/>
<path d="M288.50 385.80L290.30 388.30L288.50 390.80L286.70 388.30Z" fill="none" stroke="#c4003c" stroke-width="1.1"/>
<path d="M296.60 387.28L298.40 389.78L296.60 392.28L294.80 389.78Z" fill="none" stroke="#c4003c" stroke-width="1.1"/>
<path d="M304.70 388.74L306.50 391.24L304.70 393.74L302.90 391.24Z" fill="none" stroke="#c4003c" stroke-width="1.1"/>
<path d="M312.80 391.12L314.60 393.62L312.80 396.12L311.00 393.62Z" fill="none" stroke="#c4003c" stroke-width="1.1"/>
<path d="M320.90 391.90L322.70 394.40L320.90 396.90L319.10 394.40Z" fill="none" stroke="#c4003c" stroke-width="1.1"/>
<path d="M329.00 395.25L330.80 397.75L329.00 400.25L327.20 397.75Z" fill="none" stroke="#c4003c" stroke-width="1.1"/>
<path d="M337.10 385.07L338.90 387.57L337.10 390.07L335.30 387.57Z" fill="none" stroke="#c4003c" stroke-width="1.1"/>
<path d="M345.20 385.65L347.00 388.15L345.20 390.65L343.40 388.15Z" fill="none" stroke="#c4003c" stroke-width="1.1"/>
<path d="M353.30 387.67L355.10 390.17L353.30 392.67L351.50 390.17Z" fill="none" stroke="#c4003c" stroke-width="1.1"/>
<path d="M361.40 387.67L363.20 390.17L361.40 392.67L359.60 390.17Z" fill="none" stroke="#c4003c" stroke-width="1.1"/>
<line x1="134.60" y1="376.07" x2="134.60" y2="454.80" stroke="#aa5c12" stroke-width="1.25"/>
<path d="M133.00 375.77H136.20L134.60 378.27Z" fill="#aa5c12"/>
<path d="M133.00 455.10H136.20L134.60 452.60Z" fill="#aa5c12"/>
<line x1="142.70" y1="368.23" x2="142.70" y2="433.76" stroke="#aa5c12" stroke-width="1.25"/>
<path d="M141.10 367.93H144.30L142.70 370.43Z" fill="#aa5c12"/>
<path d="M141.10 434.06H144.30L142.70 431.56Z" fill="#aa5c12"/>
<line x1="150.80" y1="360.23" x2="150.80" y2="415.94" stroke="#aa5c12" stroke-width="1.25"/>
<path d="M149.20 359.93H152.40L150.80 362.43Z" fill="#aa5c12"/>
<path d="M149.20 416.24H152.40L150.80 413.74Z" fill="#aa5c12"/>
<line x1="158.90" y1="363.05" x2="158.90" y2="418.76" stroke="#aa5c12" stroke-width="1.25"/>
<path d="M157.30 362.75H160.50L158.90 365.25Z" fill="#aa5c12"/>
<path d="M157.30 419.06H160.50L158.90 416.56Z" fill="#aa5c12"/>
<line x1="167.00" y1="367.33" x2="167.00" y2="423.04" stroke="#aa5c12" stroke-width="1.25"/>
<path d="M165.40 367.03H168.60L167.00 369.53Z" fill="#aa5c12"/>
<path d="M165.40 423.34H168.60L167.00 420.84Z" fill="#aa5c12"/>
<line x1="175.10" y1="367.55" x2="175.10" y2="423.26" stroke="#aa5c12" stroke-width="1.25"/>
<path d="M173.50 367.25H176.70L175.10 369.75Z" fill="#aa5c12"/>
<path d="M173.50 423.56H176.70L175.10 421.06Z" fill="#aa5c12"/>
<line x1="183.20" y1="369.72" x2="183.20" y2="425.43" stroke="#aa5c12" stroke-width="1.25"/>
<path d="M181.60 369.42H184.80L183.20 371.92Z" fill="#aa5c12"/>
<path d="M181.60 425.73H184.80L183.20 423.23Z" fill="#aa5c12"/>
<line x1="191.30" y1="372.04" x2="191.30" y2="427.75" stroke="#aa5c12" stroke-width="1.25"/>
<path d="M189.70 371.74H192.90L191.30 374.24Z" fill="#aa5c12"/>
<path d="M189.70 428.05H192.90L191.30 425.55Z" fill="#aa5c12"/>
<line x1="199.40" y1="372.25" x2="199.40" y2="427.96" stroke="#aa5c12" stroke-width="1.25"/>
<path d="M197.80 371.95H201.00L199.40 374.45Z" fill="#aa5c12"/>
<path d="M197.80 428.26H201.00L199.40 425.76Z" fill="#aa5c12"/>
<line x1="207.50" y1="374.30" x2="207.50" y2="430.02" stroke="#aa5c12" stroke-width="1.25"/>
<path d="M205.90 374.00H209.10L207.50 376.50Z" fill="#aa5c12"/>
<path d="M205.90 430.32H209.10L207.50 427.82Z" fill="#aa5c12"/>
<line x1="215.60" y1="365.26" x2="215.60" y2="413.09" stroke="#aa5c12" stroke-width="1.25"/>
<path d="M214.00 364.96H217.20L215.60 367.46Z" fill="#aa5c12"/>
<path d="M214.00 413.39H217.20L215.60 410.89Z" fill="#aa5c12"/>
<line x1="223.70" y1="367.62" x2="223.70" y2="415.45" stroke="#aa5c12" stroke-width="1.25"/>
<path d="M222.10 367.32H225.30L223.70 369.82Z" fill="#aa5c12"/>
<path d="M222.10 415.75H225.30L223.70 413.25Z" fill="#aa5c12"/>
<line x1="231.80" y1="360.76" x2="231.80" y2="401.93" stroke="#aa5c12" stroke-width="1.25"/>
<path d="M230.20 360.46H233.40L231.80 362.96Z" fill="#aa5c12"/>
<path d="M230.20 402.23H233.40L231.80 399.73Z" fill="#aa5c12"/>
<line x1="239.90" y1="363.64" x2="239.90" y2="404.81" stroke="#aa5c12" stroke-width="1.25"/>
<path d="M238.30 363.34H241.50L239.90 365.84Z" fill="#aa5c12"/>
<path d="M238.30 405.11H241.50L239.90 402.61Z" fill="#aa5c12"/>
<line x1="248.00" y1="364.82" x2="248.00" y2="405.99" stroke="#aa5c12" stroke-width="1.25"/>
<path d="M246.40 364.52H249.60L248.00 367.02Z" fill="#aa5c12"/>
<path d="M246.40 406.29H249.60L248.00 403.79Z" fill="#aa5c12"/>
<line x1="256.10" y1="366.25" x2="256.10" y2="407.42" stroke="#aa5c12" stroke-width="1.25"/>
<path d="M254.50 365.95H257.70L256.10 368.45Z" fill="#aa5c12"/>
<path d="M254.50 407.72H257.70L256.10 405.22Z" fill="#aa5c12"/>
<line x1="264.20" y1="367.31" x2="264.20" y2="408.48" stroke="#aa5c12" stroke-width="1.25"/>
<path d="M262.60 367.01H265.80L264.20 369.51Z" fill="#aa5c12"/>
<path d="M262.60 408.78H265.80L264.20 406.28Z" fill="#aa5c12"/>
<line x1="272.30" y1="368.53" x2="272.30" y2="409.70" stroke="#aa5c12" stroke-width="1.25"/>
<path d="M270.70 368.23H273.90L272.30 370.73Z" fill="#aa5c12"/>
<path d="M270.70 410.00H273.90L272.30 407.50Z" fill="#aa5c12"/>
<line x1="280.40" y1="369.90" x2="280.40" y2="411.07" stroke="#aa5c12" stroke-width="1.25"/>
<path d="M278.80 369.60H282.00L280.40 372.10Z" fill="#aa5c12"/>
<path d="M278.80 411.37H282.00L280.40 408.87Z" fill="#aa5c12"/>
<line x1="288.50" y1="371.92" x2="288.50" y2="413.09" stroke="#aa5c12" stroke-width="1.25"/>
<path d="M286.90 371.62H290.10L288.50 374.12Z" fill="#aa5c12"/>
<path d="M286.90 413.39H290.10L288.50 410.89Z" fill="#aa5c12"/>
<line x1="296.60" y1="373.41" x2="296.60" y2="414.57" stroke="#aa5c12" stroke-width="1.25"/>
<path d="M295.00 373.11H298.20L296.60 375.61Z" fill="#aa5c12"/>
<path d="M295.00 414.87H298.20L296.60 412.37Z" fill="#aa5c12"/>
<line x1="304.70" y1="374.86" x2="304.70" y2="416.03" stroke="#aa5c12" stroke-width="1.25"/>
<path d="M303.10 374.56H306.30L304.70 377.06Z" fill="#aa5c12"/>
<path d="M303.10 416.33H306.30L304.70 413.83Z" fill="#aa5c12"/>
<line x1="312.80" y1="377.24" x2="312.80" y2="418.41" stroke="#aa5c12" stroke-width="1.25"/>
<path d="M311.20 376.94H314.40L312.80 379.44Z" fill="#aa5c12"/>
<path d="M311.20 418.71H314.40L312.80 416.21Z" fill="#aa5c12"/>
<line x1="320.90" y1="378.02" x2="320.90" y2="419.19" stroke="#aa5c12" stroke-width="1.25"/>
<path d="M319.30 377.72H322.50L320.90 380.22Z" fill="#aa5c12"/>
<path d="M319.30 419.49H322.50L320.90 416.99Z" fill="#aa5c12"/>
<line x1="329.00" y1="381.37" x2="329.00" y2="422.54" stroke="#aa5c12" stroke-width="1.25"/>
<path d="M327.40 381.07H330.60L329.00 383.57Z" fill="#aa5c12"/>
<path d="M327.40 422.84H330.60L329.00 420.34Z" fill="#aa5c12"/>
<line x1="337.10" y1="382.85" x2="337.10" y2="424.02" stroke="#aa5c12" stroke-width="1.25"/>
<path d="M335.50 382.55H338.70L337.10 385.05Z" fill="#aa5c12"/>
<path d="M335.50 424.32H338.70L337.10 421.82Z" fill="#aa5c12"/>
<line x1="345.20" y1="383.44" x2="345.20" y2="424.60" stroke="#aa5c12" stroke-width="1.25"/>
<path d="M343.60 383.14H346.80L345.20 385.64Z" fill="#aa5c12"/>
<path d="M343.60 424.90H346.80L345.20 422.40Z" fill="#aa5c12"/>
<line x1="353.30" y1="385.45" x2="353.30" y2="426.62" stroke="#aa5c12" stroke-width="1.25"/>
<path d="M351.70 385.15H354.90L353.30 387.65Z" fill="#aa5c12"/>
<path d="M351.70 426.92H354.90L353.30 424.42Z" fill="#aa5c12"/>
<line x1="361.40" y1="385.45" x2="361.40" y2="426.62" stroke="#aa5c12" stroke-width="1.25"/>
<path d="M359.80 385.15H363.00L361.40 387.65Z" fill="#aa5c12"/>
<path d="M359.80 426.92H363.00L361.40 424.42Z" fill="#aa5c12"/>
<polyline points="94.10 488.71 102.20 495.33 110.30 508.62 118.40 517.10 126.50 521.34 134.60 406.85 142.70 394.98 150.80 383.72 158.90 386.54 167.00 390.82 175.10 391.04 183.20 393.20 191.30 395.53 199.40 395.74 207.50 397.79 215.60 385.94 223.70 388.30 231.80 378.94 239.90 381.82 248.00 383.00 256.10 384.43 264.20 385.49 272.30 386.71 280.40 388.08 288.50 390.10 296.60 391.58 304.70 393.04 312.80 395.42 320.90 396.20 329.00 399.55 337.10 401.03 345.20 401.61 353.30 403.63 361.40 403.63" fill="none" stroke="#aa5c12" stroke-width="1.3"/>
<path d="M134.60 404.15L135.28 405.92L137.17 406.01L135.69 407.20L136.19 409.03L134.60 408.00L133.01 409.03L133.51 407.20L132.03 406.01L133.92 405.92Z" fill="#aa5c12"/>
<path d="M142.70 392.28L143.38 394.05L145.27 394.15L143.79 395.34L144.29 397.17L142.70 396.13L141.11 397.17L141.61 395.34L140.13 394.15L142.02 394.05Z" fill="#aa5c12"/>
<path d="M150.80 381.02L151.48 382.79L153.37 382.88L151.89 384.07L152.39 385.90L150.80 384.87L149.21 385.90L149.71 384.07L148.23 382.88L150.12 382.79Z" fill="#aa5c12"/>
<path d="M158.90 383.84L159.58 385.61L161.47 385.70L159.99 386.89L160.49 388.72L158.90 387.69L157.31 388.72L157.81 386.89L156.33 385.70L158.22 385.61Z" fill="#aa5c12"/>
<path d="M167.00 388.12L167.68 389.89L169.57 389.98L168.09 391.17L168.59 393.00L167.00 391.97L165.41 393.00L165.91 391.17L164.43 389.98L166.32 389.89Z" fill="#aa5c12"/>
<path d="M175.10 388.34L175.78 390.11L177.67 390.20L176.19 391.39L176.69 393.22L175.10 392.19L173.51 393.22L174.01 391.39L172.53 390.20L174.42 390.11Z" fill="#aa5c12"/>
<path d="M183.20 390.50L183.88 392.27L185.77 392.37L184.29 393.56L184.79 395.39L183.20 394.35L181.61 395.39L182.11 393.56L180.63 392.37L182.52 392.27Z" fill="#aa5c12"/>
<path d="M191.30 392.83L191.98 394.60L193.87 394.69L192.39 395.88L192.89 397.71L191.30 396.68L189.71 397.71L190.21 395.88L188.73 394.69L190.62 394.60Z" fill="#aa5c12"/>
<path d="M199.40 393.04L200.08 394.81L201.97 394.90L200.49 396.09L200.99 397.92L199.40 396.89L197.81 397.92L198.31 396.09L196.83 394.90L198.72 394.81Z" fill="#aa5c12"/>
<path d="M207.50 395.09L208.18 396.86L210.07 396.96L208.59 398.15L209.09 399.97L207.50 398.94L205.91 399.97L206.41 398.15L204.93 396.96L206.82 396.86Z" fill="#aa5c12"/>
<path d="M215.60 383.24L216.28 385.01L218.17 385.11L216.69 386.30L217.19 388.12L215.60 387.09L214.01 388.12L214.51 386.30L213.03 385.11L214.92 385.01Z" fill="#aa5c12"/>
<path d="M223.70 385.60L224.38 387.37L226.27 387.47L224.79 388.66L225.29 390.48L223.70 389.45L222.11 390.48L222.61 388.66L221.13 387.47L223.02 387.37Z" fill="#aa5c12"/>
<path d="M231.80 376.24L232.48 378.01L234.37 378.10L232.89 379.29L233.39 381.12L231.80 380.09L230.21 381.12L230.71 379.29L229.23 378.10L231.12 378.01Z" fill="#aa5c12"/>
<path d="M239.90 379.12L240.58 380.89L242.47 380.99L240.99 382.17L241.49 384.00L239.90 382.97L238.31 384.00L238.81 382.17L237.33 380.99L239.22 380.89Z" fill="#aa5c12"/>
<path d="M248.00 380.30L248.68 382.07L250.57 382.17L249.09 383.36L249.59 385.18L248.00 384.15L246.41 385.18L246.91 383.36L245.43 382.17L247.32 382.07Z" fill="#aa5c12"/>
<path d="M256.10 381.73L256.78 383.50L258.67 383.60L257.19 384.79L257.69 386.62L256.10 385.58L254.51 386.62L255.01 384.79L253.53 383.60L255.42 383.50Z" fill="#aa5c12"/>
<path d="M264.20 382.79L264.88 384.56L266.77 384.66L265.29 385.85L265.79 387.67L264.20 386.64L262.61 387.67L263.11 385.85L261.63 384.66L263.52 384.56Z" fill="#aa5c12"/>
<path d="M272.30 384.01L272.98 385.78L274.87 385.87L273.39 387.06L273.89 388.89L272.30 387.86L270.71 388.89L271.21 387.06L269.73 385.87L271.62 385.78Z" fill="#aa5c12"/>
<path d="M280.40 385.38L281.08 387.15L282.97 387.25L281.49 388.44L281.99 390.27L280.40 389.23L278.81 390.27L279.31 388.44L277.83 387.25L279.72 387.15Z" fill="#aa5c12"/>
<path d="M288.50 387.40L289.18 389.17L291.07 389.27L289.59 390.46L290.09 392.28L288.50 391.25L286.91 392.28L287.41 390.46L285.93 389.27L287.82 389.17Z" fill="#aa5c12"/>
<path d="M296.60 388.88L297.28 390.65L299.17 390.75L297.69 391.94L298.19 393.77L296.60 392.73L295.01 393.77L295.51 391.94L294.03 390.75L295.92 390.65Z" fill="#aa5c12"/>
<path d="M304.70 390.34L305.38 392.11L307.27 392.21L305.79 393.40L306.29 395.23L304.70 394.19L303.11 395.23L303.61 393.40L302.13 392.21L304.02 392.11Z" fill="#aa5c12"/>
<path d="M312.80 392.72L313.48 394.49L315.37 394.59L313.89 395.78L314.39 397.61L312.80 396.57L311.21 397.61L311.71 395.78L310.23 394.59L312.12 394.49Z" fill="#aa5c12"/>
<path d="M320.90 393.50L321.58 395.27L323.47 395.37L321.99 396.56L322.49 398.39L320.90 397.35L319.31 398.39L319.81 396.56L318.33 395.37L320.22 395.27Z" fill="#aa5c12"/>
<path d="M329.00 396.85L329.68 398.62L331.57 398.72L330.09 399.90L330.59 401.73L329.00 400.70L327.41 401.73L327.91 399.90L326.43 398.72L328.32 398.62Z" fill="#aa5c12"/>
<path d="M337.10 398.33L337.78 400.10L339.67 400.20L338.19 401.38L338.69 403.21L337.10 402.18L335.51 403.21L336.01 401.38L334.53 400.20L336.42 400.10Z" fill="#aa5c12"/>
<path d="M345.20 398.91L345.88 400.68L347.77 400.78L346.29 401.97L346.79 403.80L345.20 402.76L343.61 403.80L344.11 401.97L342.63 400.78L344.52 400.68Z" fill="#aa5c12"/>
<path d="M353.30 400.93L353.98 402.70L355.87 402.80L354.39 403.99L354.89 405.82L353.30 404.78L351.71 405.82L352.21 403.99L350.73 402.80L352.62 402.70Z" fill="#aa5c12"/>
<path d="M361.40 400.93L362.08 402.70L363.97 402.80L362.49 403.99L362.99 405.82L361.40 404.78L359.81 405.82L360.31 403.99L358.83 402.80L360.72 402.70Z" fill="#aa5c12"/>
<line x1="102.20" y1="349.63" x2="102.20" y2="601.75" stroke="#c84418" stroke-width="1.25" stroke-dasharray="4,1.7,1,1.8"/>
<path d="M100.60 349.33H103.80L102.20 351.83Z" fill="#c84418"/>
<path d="M100.60 602.05H103.80L102.20 599.55Z" fill="#c84418"/>
<line x1="110.30" y1="362.92" x2="110.30" y2="615.04" stroke="#c84418" stroke-width="1.25" stroke-dasharray="4,1.7,1,1.8"/>
<path d="M108.70 362.62H111.90L110.30 365.12Z" fill="#c84418"/>
<path d="M108.70 615.34H111.90L110.30 612.84Z" fill="#c84418"/>
<line x1="118.40" y1="371.40" x2="118.40" y2="623.52" stroke="#c84418" stroke-width="1.25" stroke-dasharray="4,1.7,1,1.8"/>
<path d="M116.80 371.10H120.00L118.40 373.60Z" fill="#c84418"/>
<path d="M116.80 623.82H120.00L118.40 621.32Z" fill="#c84418"/>
<line x1="126.50" y1="375.65" x2="126.50" y2="627.76" stroke="#c84418" stroke-width="1.25" stroke-dasharray="4,1.7,1,1.8"/>
<path d="M124.90 375.35H128.10L126.50 377.85Z" fill="#c84418"/>
<path d="M124.90 628.06H128.10L126.50 625.56Z" fill="#c84418"/>
<line x1="134.60" y1="339.33" x2="134.60" y2="446.75" stroke="#c84418" stroke-width="1.25" stroke-dasharray="4,1.7,1,1.8"/>
<path d="M133.00 339.03H136.20L134.60 341.53Z" fill="#c84418"/>
<path d="M133.00 447.05H136.20L134.60 444.55Z" fill="#c84418"/>
<line x1="142.70" y1="346.95" x2="142.70" y2="454.37" stroke="#c84418" stroke-width="1.25" stroke-dasharray="4,1.7,1,1.8"/>
<path d="M141.10 346.65H144.30L142.70 349.15Z" fill="#c84418"/>
<path d="M141.10 454.67H144.30L142.70 452.17Z" fill="#c84418"/>
<line x1="150.80" y1="327.16" x2="150.80" y2="394.01" stroke="#c84418" stroke-width="1.25" stroke-dasharray="4,1.7,1,1.8"/>
<path d="M149.20 326.86H152.40L150.80 329.36Z" fill="#c84418"/>
<path d="M149.20 394.31H152.40L150.80 391.81Z" fill="#c84418"/>
<line x1="158.90" y1="329.98" x2="158.90" y2="396.83" stroke="#c84418" stroke-width="1.25" stroke-dasharray="4,1.7,1,1.8"/>
<path d="M157.30 329.68H160.50L158.90 332.18Z" fill="#c84418"/>
<path d="M157.30 397.13H160.50L158.90 394.63Z" fill="#c84418"/>
<line x1="167.00" y1="334.26" x2="167.00" y2="401.11" stroke="#c84418" stroke-width="1.25" stroke-dasharray="4,1.7,1,1.8"/>
<path d="M165.40 333.96H168.60L167.00 336.46Z" fill="#c84418"/>
<path d="M165.40 401.41H168.60L167.00 398.91Z" fill="#c84418"/>
<line x1="175.10" y1="334.48" x2="175.10" y2="401.33" stroke="#c84418" stroke-width="1.25" stroke-dasharray="4,1.7,1,1.8"/>
<path d="M173.50 334.18H176.70L175.10 336.68Z" fill="#c84418"/>
<path d="M173.50 401.63H176.70L175.10 399.13Z" fill="#c84418"/>
<line x1="183.20" y1="336.64" x2="183.20" y2="403.50" stroke="#c84418" stroke-width="1.25" stroke-dasharray="4,1.7,1,1.8"/>
<path d="M181.60 336.34H184.80L183.20 338.84Z" fill="#c84418"/>
<path d="M181.60 403.80H184.80L183.20 401.30Z" fill="#c84418"/>
<line x1="191.30" y1="338.97" x2="191.30" y2="405.82" stroke="#c84418" stroke-width="1.25" stroke-dasharray="4,1.7,1,1.8"/>
<path d="M189.70 338.67H192.90L191.30 341.17Z" fill="#c84418"/>
<path d="M189.70 406.12H192.90L191.30 403.62Z" fill="#c84418"/>
<line x1="199.40" y1="339.18" x2="199.40" y2="406.03" stroke="#c84418" stroke-width="1.25" stroke-dasharray="4,1.7,1,1.8"/>
<path d="M197.80 338.88H201.00L199.40 341.38Z" fill="#c84418"/>
<path d="M197.80 406.33H201.00L199.40 403.83Z" fill="#c84418"/>
<line x1="207.50" y1="341.23" x2="207.50" y2="408.08" stroke="#c84418" stroke-width="1.25" stroke-dasharray="4,1.7,1,1.8"/>
<path d="M205.90 340.93H209.10L207.50 343.43Z" fill="#c84418"/>
<path d="M205.90 408.38H209.10L207.50 405.88Z" fill="#c84418"/>
<line x1="215.60" y1="342.84" x2="215.60" y2="409.69" stroke="#c84418" stroke-width="1.25" stroke-dasharray="4,1.7,1,1.8"/>
<path d="M214.00 342.54H217.20L215.60 345.04Z" fill="#c84418"/>
<path d="M214.00 409.99H217.20L215.60 407.49Z" fill="#c84418"/>
<line x1="223.70" y1="345.20" x2="223.70" y2="412.05" stroke="#c84418" stroke-width="1.25" stroke-dasharray="4,1.7,1,1.8"/>
<path d="M222.10 344.90H225.30L223.70 347.40Z" fill="#c84418"/>
<path d="M222.10 412.35H225.30L223.70 409.85Z" fill="#c84418"/>
<line x1="231.80" y1="347.50" x2="231.80" y2="414.35" stroke="#c84418" stroke-width="1.25" stroke-dasharray="4,1.7,1,1.8"/>
<path d="M230.20 347.20H233.40L231.80 349.70Z" fill="#c84418"/>
<path d="M230.20 414.65H233.40L231.80 412.15Z" fill="#c84418"/>
<line x1="239.90" y1="350.38" x2="239.90" y2="417.23" stroke="#c84418" stroke-width="1.25" stroke-dasharray="4,1.7,1,1.8"/>
<path d="M238.30 350.08H241.50L239.90 352.58Z" fill="#c84418"/>
<path d="M238.30 417.53H241.50L239.90 415.03Z" fill="#c84418"/>
<line x1="248.00" y1="351.56" x2="248.00" y2="418.41" stroke="#c84418" stroke-width="1.25" stroke-dasharray="4,1.7,1,1.8"/>
<path d="M246.40 351.26H249.60L248.00 353.76Z" fill="#c84418"/>
<path d="M246.40 418.71H249.60L248.00 416.21Z" fill="#c84418"/>
<line x1="256.10" y1="352.99" x2="256.10" y2="419.85" stroke="#c84418" stroke-width="1.25" stroke-dasharray="4,1.7,1,1.8"/>
<path d="M254.50 352.69H257.70L256.10 355.19Z" fill="#c84418"/>
<path d="M254.50 420.15H257.70L256.10 417.65Z" fill="#c84418"/>
<line x1="264.20" y1="354.05" x2="264.20" y2="420.90" stroke="#c84418" stroke-width="1.25" stroke-dasharray="4,1.7,1,1.8"/>
<path d="M262.60 353.75H265.80L264.20 356.25Z" fill="#c84418"/>
<path d="M262.60 421.20H265.80L264.20 418.70Z" fill="#c84418"/>
<line x1="272.30" y1="355.27" x2="272.30" y2="422.12" stroke="#c84418" stroke-width="1.25" stroke-dasharray="4,1.7,1,1.8"/>
<path d="M270.70 354.97H273.90L272.30 357.47Z" fill="#c84418"/>
<path d="M270.70 422.42H273.90L272.30 419.92Z" fill="#c84418"/>
<line x1="280.40" y1="356.64" x2="280.40" y2="423.50" stroke="#c84418" stroke-width="1.25" stroke-dasharray="4,1.7,1,1.8"/>
<path d="M278.80 356.34H282.00L280.40 358.84Z" fill="#c84418"/>
<path d="M278.80 423.80H282.00L280.40 421.30Z" fill="#c84418"/>
<line x1="288.50" y1="358.66" x2="288.50" y2="425.51" stroke="#c84418" stroke-width="1.25" stroke-dasharray="4,1.7,1,1.8"/>
<path d="M286.90 358.36H290.10L288.50 360.86Z" fill="#c84418"/>
<path d="M286.90 425.81H290.10L288.50 423.31Z" fill="#c84418"/>
<line x1="296.60" y1="360.15" x2="296.60" y2="427.00" stroke="#c84418" stroke-width="1.25" stroke-dasharray="4,1.7,1,1.8"/>
<path d="M295.00 359.85H298.20L296.60 362.35Z" fill="#c84418"/>
<path d="M295.00 427.30H298.20L296.60 424.80Z" fill="#c84418"/>
<line x1="304.70" y1="361.60" x2="304.70" y2="428.46" stroke="#c84418" stroke-width="1.25" stroke-dasharray="4,1.7,1,1.8"/>
<path d="M303.10 361.30H306.30L304.70 363.80Z" fill="#c84418"/>
<path d="M303.10 428.76H306.30L304.70 426.26Z" fill="#c84418"/>
<line x1="312.80" y1="363.98" x2="312.80" y2="430.84" stroke="#c84418" stroke-width="1.25" stroke-dasharray="4,1.7,1,1.8"/>
<path d="M311.20 363.68H314.40L312.80 366.18Z" fill="#c84418"/>
<path d="M311.20 431.14H314.40L312.80 428.64Z" fill="#c84418"/>
<line x1="320.90" y1="364.76" x2="320.90" y2="431.62" stroke="#c84418" stroke-width="1.25" stroke-dasharray="4,1.7,1,1.8"/>
<path d="M319.30 364.46H322.50L320.90 366.96Z" fill="#c84418"/>
<path d="M319.30 431.92H322.50L320.90 429.42Z" fill="#c84418"/>
<line x1="329.00" y1="368.11" x2="329.00" y2="434.96" stroke="#c84418" stroke-width="1.25" stroke-dasharray="4,1.7,1,1.8"/>
<path d="M327.40 367.81H330.60L329.00 370.31Z" fill="#c84418"/>
<path d="M327.40 435.26H330.60L329.00 432.76Z" fill="#c84418"/>
<line x1="337.10" y1="369.59" x2="337.10" y2="436.44" stroke="#c84418" stroke-width="1.25" stroke-dasharray="4,1.7,1,1.8"/>
<path d="M335.50 369.29H338.70L337.10 371.79Z" fill="#c84418"/>
<path d="M335.50 436.74H338.70L337.10 434.24Z" fill="#c84418"/>
<line x1="345.20" y1="370.18" x2="345.20" y2="437.03" stroke="#c84418" stroke-width="1.25" stroke-dasharray="4,1.7,1,1.8"/>
<path d="M343.60 369.88H346.80L345.20 372.38Z" fill="#c84418"/>
<path d="M343.60 437.33H346.80L345.20 434.83Z" fill="#c84418"/>
<line x1="353.30" y1="372.19" x2="353.30" y2="439.05" stroke="#c84418" stroke-width="1.25" stroke-dasharray="4,1.7,1,1.8"/>
<path d="M351.70 371.89H354.90L353.30 374.39Z" fill="#c84418"/>
<path d="M351.70 439.35H354.90L353.30 436.85Z" fill="#c84418"/>
<line x1="361.40" y1="372.19" x2="361.40" y2="439.05" stroke="#c84418" stroke-width="1.25" stroke-dasharray="4,1.7,1,1.8"/>
<path d="M359.80 371.89H363.00L361.40 374.39Z" fill="#c84418"/>
<path d="M359.80 439.35H363.00L361.40 436.85Z" fill="#c84418"/>
<polyline points="102.20 405.42 110.30 418.71 118.40 427.19 126.50 431.44 134.60 377.47 142.70 385.09 150.80 354.34 158.90 357.16 167.00 361.44 175.10 361.66 183.20 363.82 191.30 366.15 199.40 366.36 207.50 368.41 215.60 370.02 223.70 372.38 231.80 374.68 239.90 377.56 248.00 378.74 256.10 380.17 264.20 381.23 272.30 382.45 280.40 383.82 288.50 385.84 296.60 387.32 304.70 388.78 312.80 391.16 320.90 391.94 329.00 395.29 337.10 396.77 345.20 397.35 353.30 399.37 361.40 399.37" fill="none" stroke="#c84418" stroke-width="1.2" stroke-dasharray="4,1.7,1,1.8"/>
<rect x="100.00" y="403.12" width="4.4" height="4.6" fill="none" stroke="#c84418" stroke-width="1.0"/>
<rect x="108.10" y="416.41" width="4.4" height="4.6" fill="none" stroke="#c84418" stroke-width="1.0"/>
<rect x="116.20" y="424.89" width="4.4" height="4.6" fill="none" stroke="#c84418" stroke-width="1.0"/>
<rect x="124.30" y="429.14" width="4.4" height="4.6" fill="none" stroke="#c84418" stroke-width="1.0"/>
<rect x="132.40" y="375.17" width="4.4" height="4.6" fill="none" stroke="#c84418" stroke-width="1.0"/>
<rect x="140.50" y="382.79" width="4.4" height="4.6" fill="none" stroke="#c84418" stroke-width="1.0"/>
<rect x="148.60" y="352.04" width="4.4" height="4.6" fill="none" stroke="#c84418" stroke-width="1.0"/>
<rect x="156.70" y="354.86" width="4.4" height="4.6" fill="none" stroke="#c84418" stroke-width="1.0"/>
<rect x="164.80" y="359.14" width="4.4" height="4.6" fill="none" stroke="#c84418" stroke-width="1.0"/>
<rect x="172.90" y="359.36" width="4.4" height="4.6" fill="none" stroke="#c84418" stroke-width="1.0"/>
<rect x="181.00" y="361.52" width="4.4" height="4.6" fill="none" stroke="#c84418" stroke-width="1.0"/>
<rect x="189.10" y="363.85" width="4.4" height="4.6" fill="none" stroke="#c84418" stroke-width="1.0"/>
<rect x="197.20" y="364.06" width="4.4" height="4.6" fill="none" stroke="#c84418" stroke-width="1.0"/>
<rect x="205.30" y="366.11" width="4.4" height="4.6" fill="none" stroke="#c84418" stroke-width="1.0"/>
<rect x="213.40" y="367.72" width="4.4" height="4.6" fill="none" stroke="#c84418" stroke-width="1.0"/>
<rect x="221.50" y="370.08" width="4.4" height="4.6" fill="none" stroke="#c84418" stroke-width="1.0"/>
<rect x="229.60" y="372.38" width="4.4" height="4.6" fill="none" stroke="#c84418" stroke-width="1.0"/>
<rect x="237.70" y="375.26" width="4.4" height="4.6" fill="none" stroke="#c84418" stroke-width="1.0"/>
<rect x="245.80" y="376.44" width="4.4" height="4.6" fill="none" stroke="#c84418" stroke-width="1.0"/>
<rect x="253.90" y="377.87" width="4.4" height="4.6" fill="none" stroke="#c84418" stroke-width="1.0"/>
<rect x="262.00" y="378.93" width="4.4" height="4.6" fill="none" stroke="#c84418" stroke-width="1.0"/>
<rect x="270.10" y="380.15" width="4.4" height="4.6" fill="none" stroke="#c84418" stroke-width="1.0"/>
<rect x="278.20" y="381.52" width="4.4" height="4.6" fill="none" stroke="#c84418" stroke-width="1.0"/>
<rect x="286.30" y="383.54" width="4.4" height="4.6" fill="none" stroke="#c84418" stroke-width="1.0"/>
<rect x="294.40" y="385.02" width="4.4" height="4.6" fill="none" stroke="#c84418" stroke-width="1.0"/>
<rect x="302.50" y="386.48" width="4.4" height="4.6" fill="none" stroke="#c84418" stroke-width="1.0"/>
<rect x="310.60" y="388.86" width="4.4" height="4.6" fill="none" stroke="#c84418" stroke-width="1.0"/>
<rect x="318.70" y="389.64" width="4.4" height="4.6" fill="none" stroke="#c84418" stroke-width="1.0"/>
<rect x="326.80" y="392.99" width="4.4" height="4.6" fill="none" stroke="#c84418" stroke-width="1.0"/>
<rect x="334.90" y="394.47" width="4.4" height="4.6" fill="none" stroke="#c84418" stroke-width="1.0"/>
<rect x="343.00" y="395.05" width="4.4" height="4.6" fill="none" stroke="#c84418" stroke-width="1.0"/>
<rect x="351.10" y="397.07" width="4.4" height="4.6" fill="none" stroke="#c84418" stroke-width="1.0"/>
<rect x="359.20" y="397.07" width="4.4" height="4.6" fill="none" stroke="#c84418" stroke-width="1.0"/>
<line x1="55" y1="397.5" x2="370.5" y2="397.5" stroke="#000" stroke-opacity="0.6" stroke-width="1.6"/>
</g>
<path d="M45.5 477.5V17.5H371.5V477.5" fill="none" stroke="#000" stroke-width="1"/>
<line x1="45" y1="317.5" x2="372" y2="317.5" stroke="#000" stroke-width="1"/>
<line x1="45" y1="477.85" x2="372" y2="477.85" stroke="#000" stroke-width="1.7"/>
</svg></body></html>
